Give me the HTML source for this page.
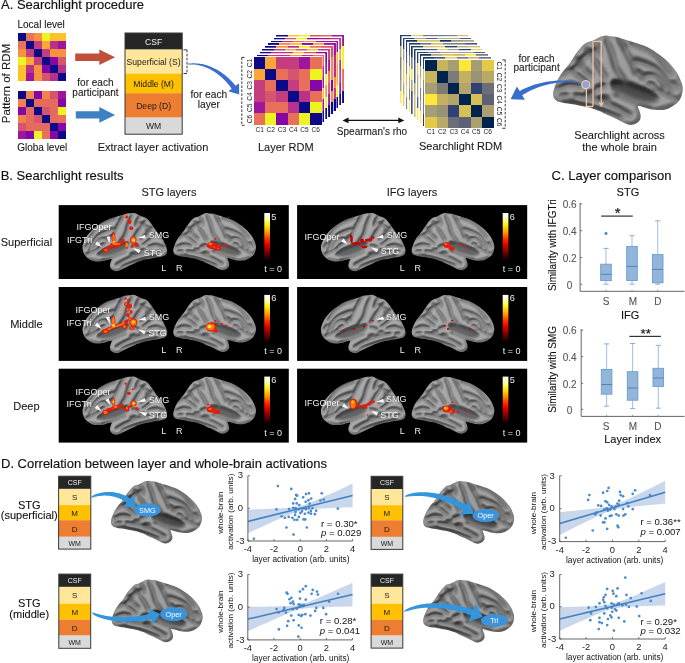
<!DOCTYPE html><html><head><meta charset="utf-8"><style>html,body{margin:0;padding:0;background:#fff;overflow:hidden}svg{display:block;will-change:transform}</style></head><body><svg width="685" height="663" viewBox="0 0 685 663" font-family='"Liberation Sans", sans-serif'>
<rect width="685" height="663" fill="#fff"/>
<defs>
<clipPath id="clipbD"><path d="M1.00,38.70 C1.28,37.58 1.67,36.32 2.30,34.80 C2.93,33.28 3.95,31.10 4.80,29.60 C5.65,28.10 6.53,26.97 7.40,25.80 C8.27,24.63 9.13,23.67 10.00,22.60 C10.87,21.53 11.75,20.58 12.60,19.40 C13.45,18.22 14.25,16.78 15.10,15.50 C15.95,14.22 16.83,12.87 17.70,11.70 C18.57,10.53 19.45,9.45 20.30,8.50 C21.15,7.55 21.95,6.65 22.80,6.00 C23.65,5.35 24.43,4.98 25.40,4.60 C26.37,4.22 27.53,4.12 28.60,3.70 C29.67,3.28 30.73,2.63 31.80,2.10 C32.87,1.57 33.93,0.85 35.00,0.50 C36.07,0.15 37.20,0.02 38.20,0.00 C39.20,-0.02 39.83,0.27 41.00,0.40 C42.17,0.53 43.45,0.40 45.20,0.80 C46.95,1.20 49.23,2.10 51.50,2.80 C53.77,3.50 56.35,4.20 58.80,5.00 C61.25,5.80 63.75,6.47 66.20,7.60 C68.65,8.73 71.23,10.32 73.50,11.80 C75.77,13.28 77.88,14.85 79.80,16.50 C81.72,18.15 83.43,19.87 85.00,21.70 C86.57,23.53 88.07,25.52 89.20,27.50 C90.33,29.48 91.23,31.93 91.80,33.60 C92.37,35.27 92.55,36.20 92.60,37.50 C92.65,38.80 92.47,40.05 92.10,41.40 C91.73,42.75 91.22,44.35 90.40,45.60 C89.58,46.85 88.57,47.87 87.20,48.90 C85.83,49.93 83.87,51.15 82.20,51.80 C80.53,52.45 78.87,52.67 77.20,52.80 C75.53,52.93 73.72,52.77 72.20,52.60 C70.68,52.43 69.47,52.13 68.10,51.80 C66.73,51.47 65.22,50.88 64.00,50.60 C62.78,50.32 61.20,49.80 60.80,50.10 C60.40,50.40 61.28,51.37 61.60,52.40 C61.92,53.43 62.58,55.10 62.70,56.30 C62.82,57.50 62.78,58.63 62.30,59.60 C61.82,60.57 60.90,61.47 59.80,62.10 C58.70,62.73 56.95,63.32 55.70,63.40 C54.45,63.48 53.68,63.15 52.30,62.60 C50.92,62.05 49.05,60.93 47.40,60.10 C45.75,59.27 44.07,58.37 42.40,57.60 C40.73,56.83 38.75,56.13 37.40,55.50 C36.05,54.87 35.65,54.38 34.30,53.80 C32.95,53.22 30.85,52.52 29.30,52.00 C27.75,51.48 26.45,51.03 25.00,50.70 C23.55,50.37 22.15,50.30 20.60,50.00 C19.05,49.70 17.35,49.20 15.70,48.90 C14.05,48.60 12.27,48.47 10.70,48.20 C9.13,47.93 7.53,47.60 6.30,47.30 C5.07,47.00 4.13,46.87 3.30,46.40 C2.47,45.93 1.75,45.32 1.30,44.50 C0.85,43.68 0.65,42.47 0.60,41.50 C0.55,40.53 0.72,39.82 1.00,38.70Z"/></clipPath>
<filter id="relbD" x="-5%" y="-5%" width="110%" height="110%" color-interpolation-filters="sRGB">
<feGaussianBlur in="SourceGraphic" stdDeviation="1.35" result="hb"/>
<feColorMatrix in="hb" type="luminanceToAlpha" result="ha"/>
<feDiffuseLighting in="ha" surfaceScale="6" diffuseConstant="1.25" lighting-color="#fff" result="lit"><feDistantLight azimuth="240" elevation="50"/></feDiffuseLighting>
<feComposite in="hb" in2="lit" operator="arithmetic" k1="1" k2="0" k3="0" k4="0" result="m"/>
<feComponentTransfer in="m"><feFuncR type="linear" slope="0.62" intercept="0.16"/><feFuncG type="linear" slope="0.62" intercept="0.16"/><feFuncB type="linear" slope="0.62" intercept="0.16"/><feFuncA type="linear" slope="0" intercept="1"/></feComponentTransfer>
</filter>
<g id="bD"><g clip-path="url(#clipbD)"><g filter="url(#relbD)">
<path d="M1.00,38.70 C1.28,37.58 1.67,36.32 2.30,34.80 C2.93,33.28 3.95,31.10 4.80,29.60 C5.65,28.10 6.53,26.97 7.40,25.80 C8.27,24.63 9.13,23.67 10.00,22.60 C10.87,21.53 11.75,20.58 12.60,19.40 C13.45,18.22 14.25,16.78 15.10,15.50 C15.95,14.22 16.83,12.87 17.70,11.70 C18.57,10.53 19.45,9.45 20.30,8.50 C21.15,7.55 21.95,6.65 22.80,6.00 C23.65,5.35 24.43,4.98 25.40,4.60 C26.37,4.22 27.53,4.12 28.60,3.70 C29.67,3.28 30.73,2.63 31.80,2.10 C32.87,1.57 33.93,0.85 35.00,0.50 C36.07,0.15 37.20,0.02 38.20,0.00 C39.20,-0.02 39.83,0.27 41.00,0.40 C42.17,0.53 43.45,0.40 45.20,0.80 C46.95,1.20 49.23,2.10 51.50,2.80 C53.77,3.50 56.35,4.20 58.80,5.00 C61.25,5.80 63.75,6.47 66.20,7.60 C68.65,8.73 71.23,10.32 73.50,11.80 C75.77,13.28 77.88,14.85 79.80,16.50 C81.72,18.15 83.43,19.87 85.00,21.70 C86.57,23.53 88.07,25.52 89.20,27.50 C90.33,29.48 91.23,31.93 91.80,33.60 C92.37,35.27 92.55,36.20 92.60,37.50 C92.65,38.80 92.47,40.05 92.10,41.40 C91.73,42.75 91.22,44.35 90.40,45.60 C89.58,46.85 88.57,47.87 87.20,48.90 C85.83,49.93 83.87,51.15 82.20,51.80 C80.53,52.45 78.87,52.67 77.20,52.80 C75.53,52.93 73.72,52.77 72.20,52.60 C70.68,52.43 69.47,52.13 68.10,51.80 C66.73,51.47 65.22,50.88 64.00,50.60 C62.78,50.32 61.20,49.80 60.80,50.10 C60.40,50.40 61.28,51.37 61.60,52.40 C61.92,53.43 62.58,55.10 62.70,56.30 C62.82,57.50 62.78,58.63 62.30,59.60 C61.82,60.57 60.90,61.47 59.80,62.10 C58.70,62.73 56.95,63.32 55.70,63.40 C54.45,63.48 53.68,63.15 52.30,62.60 C50.92,62.05 49.05,60.93 47.40,60.10 C45.75,59.27 44.07,58.37 42.40,57.60 C40.73,56.83 38.75,56.13 37.40,55.50 C36.05,54.87 35.65,54.38 34.30,53.80 C32.95,53.22 30.85,52.52 29.30,52.00 C27.75,51.48 26.45,51.03 25.00,50.70 C23.55,50.37 22.15,50.30 20.60,50.00 C19.05,49.70 17.35,49.20 15.70,48.90 C14.05,48.60 12.27,48.47 10.70,48.20 C9.13,47.93 7.53,47.60 6.30,47.30 C5.07,47.00 4.13,46.87 3.30,46.40 C2.47,45.93 1.75,45.32 1.30,44.50 C0.85,43.68 0.65,42.47 0.60,41.50 C0.55,40.53 0.72,39.82 1.00,38.70Z" fill="#c4c4c4" stroke="#909090" stroke-width="2.2"/>
<path d="M42.80,33.00 C44.13,32.25 48.80,32.83 52.00,33.50 C55.20,34.17 59.00,35.92 62.00,37.00 C65.00,38.08 67.67,38.67 70.00,40.00 C72.33,41.33 76.00,43.75 76.00,45.00 C76.00,46.25 72.67,47.42 70.00,47.50 C67.33,47.58 63.33,46.50 60.00,45.50 C56.67,44.50 52.67,42.75 50.00,41.50 C47.33,40.25 45.20,39.42 44.00,38.00 C42.80,36.58 41.47,33.75 42.80,33.00Z" fill="#383838"/>
<g fill="none" stroke-linecap="round">
<path d="M38.40,2.50 C39.13,4.33 41.58,9.98 42.80,13.50 C44.02,17.02 44.25,20.47 45.70,23.60 C47.15,26.73 50.53,30.85 51.50,32.30" stroke="#484848" stroke-width="1.9"/>
<path d="M47.10,1.90 C48.07,3.58 51.20,8.87 52.90,12.00 C54.60,15.13 56.08,18.03 57.30,20.70 C58.52,23.37 59.72,26.78 60.20,28.00" stroke="#484848" stroke-width="1.9"/>
<path d="M55.80,6.20 C57.73,6.93 64.02,8.90 67.40,10.60 C70.78,12.30 73.20,13.50 76.10,16.40 C79.00,19.30 83.35,26.07 84.80,28.00" stroke="#484848" stroke-width="1.9"/>
<path d="M58.70,17.80 C60.15,18.28 64.50,19.48 67.40,20.70 C70.30,21.92 73.68,23.17 76.10,25.10 C78.52,27.03 80.45,29.65 81.90,32.30 C83.35,34.95 84.32,39.55 84.80,41.00" stroke="#484848" stroke-width="1.9"/>
<path d="M63.10,29.40 C64.55,29.17 69.38,27.52 71.80,28.00 C74.22,28.48 76.15,30.62 77.60,32.30 C79.05,33.98 80.02,37.13 80.50,38.10" stroke="#484848" stroke-width="1.9"/>
<path d="M45.70,42.50 C48.12,43.47 56.10,46.85 60.20,48.30 C64.30,49.75 68.62,50.72 70.30,51.20" stroke="#484848" stroke-width="1.9"/>
<path d="M16.70,42.50 C19.12,42.98 26.37,43.95 31.20,45.40 C36.03,46.85 41.60,49.27 45.70,51.20 C49.80,53.13 54.12,56.03 55.80,57.00" stroke="#484848" stroke-width="1.9"/>
<path d="M23.90,9.10 C24.87,10.32 28.00,13.98 29.70,16.40 C31.40,18.82 32.65,21.18 34.10,23.60 C35.55,26.02 37.68,29.68 38.40,30.90" stroke="#484848" stroke-width="1.9"/>
<path d="M16.70,16.40 C17.65,17.60 20.47,21.43 22.40,23.60 C24.33,25.77 27.32,28.43 28.30,29.40" stroke="#484848" stroke-width="1.9"/>
<path d="M6.50,28.00 C7.95,27.27 12.55,25.05 15.20,23.60 C17.85,22.15 21.20,20.02 22.40,19.30" stroke="#484848" stroke-width="1.9"/>
<path d="M3.60,38.10 C5.05,37.62 9.40,35.43 12.30,35.20 C15.20,34.97 19.55,36.45 21.00,36.70" stroke="#484848" stroke-width="1.9"/>
<path d="M31.20,38.10 C32.40,37.62 37.20,35.68 38.40,35.20" stroke="#484848" stroke-width="1.9"/>
<path d="M9.40,46.80 C11.82,47.28 19.07,48.50 23.90,49.70 C28.73,50.90 34.05,52.55 38.40,54.00 C42.75,55.45 48.07,57.67 50.00,58.40" stroke="#484848" stroke-width="1.9"/>
<path d="M73.20,38.10 C74.65,38.83 79.48,41.28 81.90,42.50 C84.32,43.72 86.73,44.92 87.70,45.40" stroke="#484848" stroke-width="1.9"/>
<path d="M30.00,4.00 C30.50,4.83 32.33,7.33 33.00,9.00 C33.67,10.67 33.83,13.17 34.00,14.00" stroke="#484848" stroke-width="1.9"/>
<path d="M66.00,2.50 C67.00,3.08 70.00,4.83 72.00,6.00 C74.00,7.17 77.00,8.92 78.00,9.50" stroke="#484848" stroke-width="1.9"/>
<path d="M19.00,18.30 C19.98,17.55 22.93,15.03 24.90,13.80 C26.87,12.57 29.82,11.38 30.80,10.90" stroke="#484848" stroke-width="1.9"/>
<path d="M14.60,25.60 C15.58,26.35 18.53,28.62 20.50,30.10 C22.47,31.58 25.42,33.77 26.40,34.50" stroke="#484848" stroke-width="1.9"/>
<path d="M61.80,25.60 C62.28,26.58 64.22,30.52 64.70,31.50" stroke="#484848" stroke-width="1.9"/>
<path d="M50.00,5.00 C50.50,5.75 52.50,8.75 53.00,9.50" stroke="#484848" stroke-width="1.9"/>
<path d="M86.00,33.00 C86.50,33.83 88.50,37.17 89.00,38.00" stroke="#484848" stroke-width="1.9"/>
<path d="M68.00,33.50 C68.83,33.92 72.17,35.58 73.00,36.00" stroke="#484848" stroke-width="1.9"/>
<path d="M25.00,40.50 C25.83,40.67 29.17,41.33 30.00,41.50" stroke="#484848" stroke-width="1.9"/>
<path d="M6.00,42.00 C6.83,42.17 10.17,42.83 11.00,43.00" stroke="#484848" stroke-width="1.9"/>
<path d="M35.00,44.00 C35.83,44.25 39.17,45.25 40.00,45.50" stroke="#484848" stroke-width="1.9"/>
<path d="M10.00,12.00 C10.50,12.67 12.50,15.33 13.00,16.00" stroke="#484848" stroke-width="1.9"/>
</g>
</g></g></g>
<clipPath id="clipbB"><path d="M1.00,38.70 C1.28,37.58 1.67,36.32 2.30,34.80 C2.93,33.28 3.95,31.10 4.80,29.60 C5.65,28.10 6.53,26.97 7.40,25.80 C8.27,24.63 9.13,23.67 10.00,22.60 C10.87,21.53 11.75,20.58 12.60,19.40 C13.45,18.22 14.25,16.78 15.10,15.50 C15.95,14.22 16.83,12.87 17.70,11.70 C18.57,10.53 19.45,9.45 20.30,8.50 C21.15,7.55 21.95,6.65 22.80,6.00 C23.65,5.35 24.43,4.98 25.40,4.60 C26.37,4.22 27.53,4.12 28.60,3.70 C29.67,3.28 30.73,2.63 31.80,2.10 C32.87,1.57 33.93,0.85 35.00,0.50 C36.07,0.15 37.20,0.02 38.20,0.00 C39.20,-0.02 39.83,0.27 41.00,0.40 C42.17,0.53 43.45,0.40 45.20,0.80 C46.95,1.20 49.23,2.10 51.50,2.80 C53.77,3.50 56.35,4.20 58.80,5.00 C61.25,5.80 63.75,6.47 66.20,7.60 C68.65,8.73 71.23,10.32 73.50,11.80 C75.77,13.28 77.88,14.85 79.80,16.50 C81.72,18.15 83.43,19.87 85.00,21.70 C86.57,23.53 88.07,25.52 89.20,27.50 C90.33,29.48 91.23,31.93 91.80,33.60 C92.37,35.27 92.55,36.20 92.60,37.50 C92.65,38.80 92.47,40.05 92.10,41.40 C91.73,42.75 91.22,44.35 90.40,45.60 C89.58,46.85 88.57,47.87 87.20,48.90 C85.83,49.93 83.87,51.15 82.20,51.80 C80.53,52.45 78.87,52.67 77.20,52.80 C75.53,52.93 73.72,52.77 72.20,52.60 C70.68,52.43 69.47,52.13 68.10,51.80 C66.73,51.47 65.22,50.88 64.00,50.60 C62.78,50.32 61.20,49.80 60.80,50.10 C60.40,50.40 61.28,51.37 61.60,52.40 C61.92,53.43 62.58,55.10 62.70,56.30 C62.82,57.50 62.78,58.63 62.30,59.60 C61.82,60.57 60.90,61.47 59.80,62.10 C58.70,62.73 56.95,63.32 55.70,63.40 C54.45,63.48 53.68,63.15 52.30,62.60 C50.92,62.05 49.05,60.93 47.40,60.10 C45.75,59.27 44.07,58.37 42.40,57.60 C40.73,56.83 38.75,56.13 37.40,55.50 C36.05,54.87 35.65,54.38 34.30,53.80 C32.95,53.22 30.85,52.52 29.30,52.00 C27.75,51.48 26.45,51.03 25.00,50.70 C23.55,50.37 22.15,50.30 20.60,50.00 C19.05,49.70 17.35,49.20 15.70,48.90 C14.05,48.60 12.27,48.47 10.70,48.20 C9.13,47.93 7.53,47.60 6.30,47.30 C5.07,47.00 4.13,46.87 3.30,46.40 C2.47,45.93 1.75,45.32 1.30,44.50 C0.85,43.68 0.65,42.47 0.60,41.50 C0.55,40.53 0.72,39.82 1.00,38.70Z"/></clipPath>
<filter id="relbB" x="-5%" y="-5%" width="110%" height="110%" color-interpolation-filters="sRGB">
<feGaussianBlur in="SourceGraphic" stdDeviation="1.2" result="hb"/>
<feColorMatrix in="hb" type="luminanceToAlpha" result="ha"/>
<feDiffuseLighting in="ha" surfaceScale="6" diffuseConstant="1.25" lighting-color="#fff" result="lit"><feDistantLight azimuth="240" elevation="50"/></feDiffuseLighting>
<feComposite in="hb" in2="lit" operator="arithmetic" k1="1" k2="0" k3="0" k4="0" result="m"/>
<feComponentTransfer in="m"><feFuncR type="linear" slope="0.5" intercept="0.285"/><feFuncG type="linear" slope="0.5" intercept="0.285"/><feFuncB type="linear" slope="0.5" intercept="0.285"/><feFuncA type="linear" slope="0" intercept="1"/></feComponentTransfer>
</filter>
<g id="bB"><g clip-path="url(#clipbB)"><g filter="url(#relbB)">
<path d="M1.00,38.70 C1.28,37.58 1.67,36.32 2.30,34.80 C2.93,33.28 3.95,31.10 4.80,29.60 C5.65,28.10 6.53,26.97 7.40,25.80 C8.27,24.63 9.13,23.67 10.00,22.60 C10.87,21.53 11.75,20.58 12.60,19.40 C13.45,18.22 14.25,16.78 15.10,15.50 C15.95,14.22 16.83,12.87 17.70,11.70 C18.57,10.53 19.45,9.45 20.30,8.50 C21.15,7.55 21.95,6.65 22.80,6.00 C23.65,5.35 24.43,4.98 25.40,4.60 C26.37,4.22 27.53,4.12 28.60,3.70 C29.67,3.28 30.73,2.63 31.80,2.10 C32.87,1.57 33.93,0.85 35.00,0.50 C36.07,0.15 37.20,0.02 38.20,0.00 C39.20,-0.02 39.83,0.27 41.00,0.40 C42.17,0.53 43.45,0.40 45.20,0.80 C46.95,1.20 49.23,2.10 51.50,2.80 C53.77,3.50 56.35,4.20 58.80,5.00 C61.25,5.80 63.75,6.47 66.20,7.60 C68.65,8.73 71.23,10.32 73.50,11.80 C75.77,13.28 77.88,14.85 79.80,16.50 C81.72,18.15 83.43,19.87 85.00,21.70 C86.57,23.53 88.07,25.52 89.20,27.50 C90.33,29.48 91.23,31.93 91.80,33.60 C92.37,35.27 92.55,36.20 92.60,37.50 C92.65,38.80 92.47,40.05 92.10,41.40 C91.73,42.75 91.22,44.35 90.40,45.60 C89.58,46.85 88.57,47.87 87.20,48.90 C85.83,49.93 83.87,51.15 82.20,51.80 C80.53,52.45 78.87,52.67 77.20,52.80 C75.53,52.93 73.72,52.77 72.20,52.60 C70.68,52.43 69.47,52.13 68.10,51.80 C66.73,51.47 65.22,50.88 64.00,50.60 C62.78,50.32 61.20,49.80 60.80,50.10 C60.40,50.40 61.28,51.37 61.60,52.40 C61.92,53.43 62.58,55.10 62.70,56.30 C62.82,57.50 62.78,58.63 62.30,59.60 C61.82,60.57 60.90,61.47 59.80,62.10 C58.70,62.73 56.95,63.32 55.70,63.40 C54.45,63.48 53.68,63.15 52.30,62.60 C50.92,62.05 49.05,60.93 47.40,60.10 C45.75,59.27 44.07,58.37 42.40,57.60 C40.73,56.83 38.75,56.13 37.40,55.50 C36.05,54.87 35.65,54.38 34.30,53.80 C32.95,53.22 30.85,52.52 29.30,52.00 C27.75,51.48 26.45,51.03 25.00,50.70 C23.55,50.37 22.15,50.30 20.60,50.00 C19.05,49.70 17.35,49.20 15.70,48.90 C14.05,48.60 12.27,48.47 10.70,48.20 C9.13,47.93 7.53,47.60 6.30,47.30 C5.07,47.00 4.13,46.87 3.30,46.40 C2.47,45.93 1.75,45.32 1.30,44.50 C0.85,43.68 0.65,42.47 0.60,41.50 C0.55,40.53 0.72,39.82 1.00,38.70Z" fill="#c4c4c4" stroke="#909090" stroke-width="2.2"/>
<path d="M42.80,33.00 C44.13,32.25 48.80,32.83 52.00,33.50 C55.20,34.17 59.00,35.92 62.00,37.00 C65.00,38.08 67.67,38.67 70.00,40.00 C72.33,41.33 76.00,43.75 76.00,45.00 C76.00,46.25 72.67,47.42 70.00,47.50 C67.33,47.58 63.33,46.50 60.00,45.50 C56.67,44.50 52.67,42.75 50.00,41.50 C47.33,40.25 45.20,39.42 44.00,38.00 C42.80,36.58 41.47,33.75 42.80,33.00Z" fill="#383838"/>
<g fill="none" stroke-linecap="round">
<path d="M38.40,2.50 C39.13,4.33 41.58,9.98 42.80,13.50 C44.02,17.02 44.25,20.47 45.70,23.60 C47.15,26.73 50.53,30.85 51.50,32.30" stroke="#484848" stroke-width="1.9"/>
<path d="M47.10,1.90 C48.07,3.58 51.20,8.87 52.90,12.00 C54.60,15.13 56.08,18.03 57.30,20.70 C58.52,23.37 59.72,26.78 60.20,28.00" stroke="#484848" stroke-width="1.9"/>
<path d="M55.80,6.20 C57.73,6.93 64.02,8.90 67.40,10.60 C70.78,12.30 73.20,13.50 76.10,16.40 C79.00,19.30 83.35,26.07 84.80,28.00" stroke="#484848" stroke-width="1.9"/>
<path d="M58.70,17.80 C60.15,18.28 64.50,19.48 67.40,20.70 C70.30,21.92 73.68,23.17 76.10,25.10 C78.52,27.03 80.45,29.65 81.90,32.30 C83.35,34.95 84.32,39.55 84.80,41.00" stroke="#484848" stroke-width="1.9"/>
<path d="M63.10,29.40 C64.55,29.17 69.38,27.52 71.80,28.00 C74.22,28.48 76.15,30.62 77.60,32.30 C79.05,33.98 80.02,37.13 80.50,38.10" stroke="#484848" stroke-width="1.9"/>
<path d="M45.70,42.50 C48.12,43.47 56.10,46.85 60.20,48.30 C64.30,49.75 68.62,50.72 70.30,51.20" stroke="#484848" stroke-width="1.9"/>
<path d="M16.70,42.50 C19.12,42.98 26.37,43.95 31.20,45.40 C36.03,46.85 41.60,49.27 45.70,51.20 C49.80,53.13 54.12,56.03 55.80,57.00" stroke="#484848" stroke-width="1.9"/>
<path d="M23.90,9.10 C24.87,10.32 28.00,13.98 29.70,16.40 C31.40,18.82 32.65,21.18 34.10,23.60 C35.55,26.02 37.68,29.68 38.40,30.90" stroke="#484848" stroke-width="1.9"/>
<path d="M16.70,16.40 C17.65,17.60 20.47,21.43 22.40,23.60 C24.33,25.77 27.32,28.43 28.30,29.40" stroke="#484848" stroke-width="1.9"/>
<path d="M6.50,28.00 C7.95,27.27 12.55,25.05 15.20,23.60 C17.85,22.15 21.20,20.02 22.40,19.30" stroke="#484848" stroke-width="1.9"/>
<path d="M3.60,38.10 C5.05,37.62 9.40,35.43 12.30,35.20 C15.20,34.97 19.55,36.45 21.00,36.70" stroke="#484848" stroke-width="1.9"/>
<path d="M31.20,38.10 C32.40,37.62 37.20,35.68 38.40,35.20" stroke="#484848" stroke-width="1.9"/>
<path d="M9.40,46.80 C11.82,47.28 19.07,48.50 23.90,49.70 C28.73,50.90 34.05,52.55 38.40,54.00 C42.75,55.45 48.07,57.67 50.00,58.40" stroke="#484848" stroke-width="1.9"/>
<path d="M73.20,38.10 C74.65,38.83 79.48,41.28 81.90,42.50 C84.32,43.72 86.73,44.92 87.70,45.40" stroke="#484848" stroke-width="1.9"/>
<path d="M30.00,4.00 C30.50,4.83 32.33,7.33 33.00,9.00 C33.67,10.67 33.83,13.17 34.00,14.00" stroke="#484848" stroke-width="1.9"/>
<path d="M66.00,2.50 C67.00,3.08 70.00,4.83 72.00,6.00 C74.00,7.17 77.00,8.92 78.00,9.50" stroke="#484848" stroke-width="1.9"/>
<path d="M19.00,18.30 C19.98,17.55 22.93,15.03 24.90,13.80 C26.87,12.57 29.82,11.38 30.80,10.90" stroke="#484848" stroke-width="1.9"/>
<path d="M14.60,25.60 C15.58,26.35 18.53,28.62 20.50,30.10 C22.47,31.58 25.42,33.77 26.40,34.50" stroke="#484848" stroke-width="1.9"/>
<path d="M61.80,25.60 C62.28,26.58 64.22,30.52 64.70,31.50" stroke="#484848" stroke-width="1.9"/>
<path d="M50.00,5.00 C50.50,5.75 52.50,8.75 53.00,9.50" stroke="#484848" stroke-width="1.9"/>
<path d="M86.00,33.00 C86.50,33.83 88.50,37.17 89.00,38.00" stroke="#484848" stroke-width="1.9"/>
<path d="M68.00,33.50 C68.83,33.92 72.17,35.58 73.00,36.00" stroke="#484848" stroke-width="1.9"/>
<path d="M25.00,40.50 C25.83,40.67 29.17,41.33 30.00,41.50" stroke="#484848" stroke-width="1.9"/>
<path d="M6.00,42.00 C6.83,42.17 10.17,42.83 11.00,43.00" stroke="#484848" stroke-width="1.9"/>
<path d="M35.00,44.00 C35.83,44.25 39.17,45.25 40.00,45.50" stroke="#484848" stroke-width="1.9"/>
<path d="M10.00,12.00 C10.50,12.67 12.50,15.33 13.00,16.00" stroke="#484848" stroke-width="1.9"/>
</g>
</g></g></g>
<clipPath id="clipbBm"><path d="M91.60,38.70 C91.32,37.58 90.93,36.32 90.30,34.80 C89.67,33.28 88.65,31.10 87.80,29.60 C86.95,28.10 86.07,26.97 85.20,25.80 C84.33,24.63 83.47,23.67 82.60,22.60 C81.73,21.53 80.85,20.58 80.00,19.40 C79.15,18.22 78.35,16.78 77.50,15.50 C76.65,14.22 75.77,12.87 74.90,11.70 C74.03,10.53 73.15,9.45 72.30,8.50 C71.45,7.55 70.65,6.65 69.80,6.00 C68.95,5.35 68.17,4.98 67.20,4.60 C66.23,4.22 65.07,4.12 64.00,3.70 C62.93,3.28 61.87,2.63 60.80,2.10 C59.73,1.57 58.67,0.85 57.60,0.50 C56.53,0.15 55.40,0.02 54.40,0.00 C53.40,-0.02 52.77,0.27 51.60,0.40 C50.43,0.53 49.15,0.40 47.40,0.80 C45.65,1.20 43.37,2.10 41.10,2.80 C38.83,3.50 36.25,4.20 33.80,5.00 C31.35,5.80 28.85,6.47 26.40,7.60 C23.95,8.73 21.37,10.32 19.10,11.80 C16.83,13.28 14.72,14.85 12.80,16.50 C10.88,18.15 9.17,19.87 7.60,21.70 C6.03,23.53 4.53,25.52 3.40,27.50 C2.27,29.48 1.37,31.93 0.80,33.60 C0.23,35.27 0.05,36.20 0.00,37.50 C-0.05,38.80 0.13,40.05 0.50,41.40 C0.87,42.75 1.38,44.35 2.20,45.60 C3.02,46.85 4.03,47.87 5.40,48.90 C6.77,49.93 8.73,51.15 10.40,51.80 C12.07,52.45 13.73,52.67 15.40,52.80 C17.07,52.93 18.88,52.77 20.40,52.60 C21.92,52.43 23.13,52.13 24.50,51.80 C25.87,51.47 27.38,50.88 28.60,50.60 C29.82,50.32 31.40,49.80 31.80,50.10 C32.20,50.40 31.32,51.37 31.00,52.40 C30.68,53.43 30.02,55.10 29.90,56.30 C29.78,57.50 29.82,58.63 30.30,59.60 C30.78,60.57 31.70,61.47 32.80,62.10 C33.90,62.73 35.65,63.32 36.90,63.40 C38.15,63.48 38.92,63.15 40.30,62.60 C41.68,62.05 43.55,60.93 45.20,60.10 C46.85,59.27 48.53,58.37 50.20,57.60 C51.87,56.83 53.85,56.13 55.20,55.50 C56.55,54.87 56.95,54.38 58.30,53.80 C59.65,53.22 61.75,52.52 63.30,52.00 C64.85,51.48 66.15,51.03 67.60,50.70 C69.05,50.37 70.45,50.30 72.00,50.00 C73.55,49.70 75.25,49.20 76.90,48.90 C78.55,48.60 80.33,48.47 81.90,48.20 C83.47,47.93 85.07,47.60 86.30,47.30 C87.53,47.00 88.47,46.87 89.30,46.40 C90.13,45.93 90.85,45.32 91.30,44.50 C91.75,43.68 91.95,42.47 92.00,41.50 C92.05,40.53 91.88,39.82 91.60,38.70Z"/></clipPath>
<filter id="relbBm" x="-5%" y="-5%" width="110%" height="110%" color-interpolation-filters="sRGB">
<feGaussianBlur in="SourceGraphic" stdDeviation="1.2" result="hb"/>
<feColorMatrix in="hb" type="luminanceToAlpha" result="ha"/>
<feDiffuseLighting in="ha" surfaceScale="6" diffuseConstant="1.25" lighting-color="#fff" result="lit"><feDistantLight azimuth="240" elevation="50"/></feDiffuseLighting>
<feComposite in="hb" in2="lit" operator="arithmetic" k1="1" k2="0" k3="0" k4="0" result="m"/>
<feComponentTransfer in="m"><feFuncR type="linear" slope="0.5" intercept="0.285"/><feFuncG type="linear" slope="0.5" intercept="0.285"/><feFuncB type="linear" slope="0.5" intercept="0.285"/><feFuncA type="linear" slope="0" intercept="1"/></feComponentTransfer>
</filter>
<g id="bBm"><g clip-path="url(#clipbBm)"><g filter="url(#relbBm)">
<path d="M91.60,38.70 C91.32,37.58 90.93,36.32 90.30,34.80 C89.67,33.28 88.65,31.10 87.80,29.60 C86.95,28.10 86.07,26.97 85.20,25.80 C84.33,24.63 83.47,23.67 82.60,22.60 C81.73,21.53 80.85,20.58 80.00,19.40 C79.15,18.22 78.35,16.78 77.50,15.50 C76.65,14.22 75.77,12.87 74.90,11.70 C74.03,10.53 73.15,9.45 72.30,8.50 C71.45,7.55 70.65,6.65 69.80,6.00 C68.95,5.35 68.17,4.98 67.20,4.60 C66.23,4.22 65.07,4.12 64.00,3.70 C62.93,3.28 61.87,2.63 60.80,2.10 C59.73,1.57 58.67,0.85 57.60,0.50 C56.53,0.15 55.40,0.02 54.40,0.00 C53.40,-0.02 52.77,0.27 51.60,0.40 C50.43,0.53 49.15,0.40 47.40,0.80 C45.65,1.20 43.37,2.10 41.10,2.80 C38.83,3.50 36.25,4.20 33.80,5.00 C31.35,5.80 28.85,6.47 26.40,7.60 C23.95,8.73 21.37,10.32 19.10,11.80 C16.83,13.28 14.72,14.85 12.80,16.50 C10.88,18.15 9.17,19.87 7.60,21.70 C6.03,23.53 4.53,25.52 3.40,27.50 C2.27,29.48 1.37,31.93 0.80,33.60 C0.23,35.27 0.05,36.20 0.00,37.50 C-0.05,38.80 0.13,40.05 0.50,41.40 C0.87,42.75 1.38,44.35 2.20,45.60 C3.02,46.85 4.03,47.87 5.40,48.90 C6.77,49.93 8.73,51.15 10.40,51.80 C12.07,52.45 13.73,52.67 15.40,52.80 C17.07,52.93 18.88,52.77 20.40,52.60 C21.92,52.43 23.13,52.13 24.50,51.80 C25.87,51.47 27.38,50.88 28.60,50.60 C29.82,50.32 31.40,49.80 31.80,50.10 C32.20,50.40 31.32,51.37 31.00,52.40 C30.68,53.43 30.02,55.10 29.90,56.30 C29.78,57.50 29.82,58.63 30.30,59.60 C30.78,60.57 31.70,61.47 32.80,62.10 C33.90,62.73 35.65,63.32 36.90,63.40 C38.15,63.48 38.92,63.15 40.30,62.60 C41.68,62.05 43.55,60.93 45.20,60.10 C46.85,59.27 48.53,58.37 50.20,57.60 C51.87,56.83 53.85,56.13 55.20,55.50 C56.55,54.87 56.95,54.38 58.30,53.80 C59.65,53.22 61.75,52.52 63.30,52.00 C64.85,51.48 66.15,51.03 67.60,50.70 C69.05,50.37 70.45,50.30 72.00,50.00 C73.55,49.70 75.25,49.20 76.90,48.90 C78.55,48.60 80.33,48.47 81.90,48.20 C83.47,47.93 85.07,47.60 86.30,47.30 C87.53,47.00 88.47,46.87 89.30,46.40 C90.13,45.93 90.85,45.32 91.30,44.50 C91.75,43.68 91.95,42.47 92.00,41.50 C92.05,40.53 91.88,39.82 91.60,38.70Z" fill="#c4c4c4" stroke="#909090" stroke-width="2.2"/>
<path d="M49.80,33.00 C48.47,32.25 43.80,32.83 40.60,33.50 C37.40,34.17 33.60,35.92 30.60,37.00 C27.60,38.08 24.93,38.67 22.60,40.00 C20.27,41.33 16.60,43.75 16.60,45.00 C16.60,46.25 19.93,47.42 22.60,47.50 C25.27,47.58 29.27,46.50 32.60,45.50 C35.93,44.50 39.93,42.75 42.60,41.50 C45.27,40.25 47.40,39.42 48.60,38.00 C49.80,36.58 51.13,33.75 49.80,33.00Z" fill="#383838"/>
<g fill="none" stroke-linecap="round">
<path d="M54.20,2.50 C53.47,4.33 51.02,9.98 49.80,13.50 C48.58,17.02 48.35,20.47 46.90,23.60 C45.45,26.73 42.07,30.85 41.10,32.30" stroke="#484848" stroke-width="1.9"/>
<path d="M45.50,1.90 C44.53,3.58 41.40,8.87 39.70,12.00 C38.00,15.13 36.52,18.03 35.30,20.70 C34.08,23.37 32.88,26.78 32.40,28.00" stroke="#484848" stroke-width="1.9"/>
<path d="M36.80,6.20 C34.87,6.93 28.58,8.90 25.20,10.60 C21.82,12.30 19.40,13.50 16.50,16.40 C13.60,19.30 9.25,26.07 7.80,28.00" stroke="#484848" stroke-width="1.9"/>
<path d="M33.90,17.80 C32.45,18.28 28.10,19.48 25.20,20.70 C22.30,21.92 18.92,23.17 16.50,25.10 C14.08,27.03 12.15,29.65 10.70,32.30 C9.25,34.95 8.28,39.55 7.80,41.00" stroke="#484848" stroke-width="1.9"/>
<path d="M29.50,29.40 C28.05,29.17 23.22,27.52 20.80,28.00 C18.38,28.48 16.45,30.62 15.00,32.30 C13.55,33.98 12.58,37.13 12.10,38.10" stroke="#484848" stroke-width="1.9"/>
<path d="M46.90,42.50 C44.48,43.47 36.50,46.85 32.40,48.30 C28.30,49.75 23.98,50.72 22.30,51.20" stroke="#484848" stroke-width="1.9"/>
<path d="M75.90,42.50 C73.48,42.98 66.23,43.95 61.40,45.40 C56.57,46.85 51.00,49.27 46.90,51.20 C42.80,53.13 38.48,56.03 36.80,57.00" stroke="#484848" stroke-width="1.9"/>
<path d="M68.70,9.10 C67.73,10.32 64.60,13.98 62.90,16.40 C61.20,18.82 59.95,21.18 58.50,23.60 C57.05,26.02 54.92,29.68 54.20,30.90" stroke="#484848" stroke-width="1.9"/>
<path d="M75.90,16.40 C74.95,17.60 72.13,21.43 70.20,23.60 C68.27,25.77 65.28,28.43 64.30,29.40" stroke="#484848" stroke-width="1.9"/>
<path d="M86.10,28.00 C84.65,27.27 80.05,25.05 77.40,23.60 C74.75,22.15 71.40,20.02 70.20,19.30" stroke="#484848" stroke-width="1.9"/>
<path d="M89.00,38.10 C87.55,37.62 83.20,35.43 80.30,35.20 C77.40,34.97 73.05,36.45 71.60,36.70" stroke="#484848" stroke-width="1.9"/>
<path d="M61.40,38.10 C60.20,37.62 55.40,35.68 54.20,35.20" stroke="#484848" stroke-width="1.9"/>
<path d="M83.20,46.80 C80.78,47.28 73.53,48.50 68.70,49.70 C63.87,50.90 58.55,52.55 54.20,54.00 C49.85,55.45 44.53,57.67 42.60,58.40" stroke="#484848" stroke-width="1.9"/>
<path d="M19.40,38.10 C17.95,38.83 13.12,41.28 10.70,42.50 C8.28,43.72 5.87,44.92 4.90,45.40" stroke="#484848" stroke-width="1.9"/>
<path d="M62.60,4.00 C62.10,4.83 60.27,7.33 59.60,9.00 C58.93,10.67 58.77,13.17 58.60,14.00" stroke="#484848" stroke-width="1.9"/>
<path d="M26.60,2.50 C25.60,3.08 22.60,4.83 20.60,6.00 C18.60,7.17 15.60,8.92 14.60,9.50" stroke="#484848" stroke-width="1.9"/>
<path d="M73.60,18.30 C72.62,17.55 69.67,15.03 67.70,13.80 C65.73,12.57 62.78,11.38 61.80,10.90" stroke="#484848" stroke-width="1.9"/>
<path d="M78.00,25.60 C77.02,26.35 74.07,28.62 72.10,30.10 C70.13,31.58 67.18,33.77 66.20,34.50" stroke="#484848" stroke-width="1.9"/>
<path d="M30.80,25.60 C30.32,26.58 28.38,30.52 27.90,31.50" stroke="#484848" stroke-width="1.9"/>
<path d="M42.60,5.00 C42.10,5.75 40.10,8.75 39.60,9.50" stroke="#484848" stroke-width="1.9"/>
<path d="M6.60,33.00 C6.10,33.83 4.10,37.17 3.60,38.00" stroke="#484848" stroke-width="1.9"/>
<path d="M24.60,33.50 C23.77,33.92 20.43,35.58 19.60,36.00" stroke="#484848" stroke-width="1.9"/>
<path d="M67.60,40.50 C66.77,40.67 63.43,41.33 62.60,41.50" stroke="#484848" stroke-width="1.9"/>
<path d="M86.60,42.00 C85.77,42.17 82.43,42.83 81.60,43.00" stroke="#484848" stroke-width="1.9"/>
<path d="M57.60,44.00 C56.77,44.25 53.43,45.25 52.60,45.50" stroke="#484848" stroke-width="1.9"/>
<path d="M82.60,12.00 C82.10,12.67 80.10,15.33 79.60,16.00" stroke="#484848" stroke-width="1.9"/>
</g>
</g></g></g>
</defs>
<text x="1.00" y="9.20" font-size="13" fill="#111" stroke="#111" stroke-width="0.15" text-anchor="start" >A. Searchlight procedure</text>
<text x="17.50" y="27.70" font-size="10" fill="#1a1a1a" stroke="#1a1a1a" stroke-width="0.1" text-anchor="start" >Local level</text>
<g shape-rendering="crispEdges">
<rect x="18.00" y="33.00" width="8.30" height="8.30" fill="#0d0887"/>
<rect x="26.00" y="33.00" width="8.30" height="8.30" fill="#e8735a"/>
<rect x="34.00" y="33.00" width="8.30" height="8.30" fill="#f6923f"/>
<rect x="42.00" y="33.00" width="8.30" height="8.30" fill="#eef322"/>
<rect x="50.00" y="33.00" width="8.30" height="8.30" fill="#fdc12a"/>
<rect x="58.00" y="33.00" width="8.30" height="8.30" fill="#fdc12a"/>
<rect x="18.00" y="41.00" width="8.30" height="8.30" fill="#e8735a"/>
<rect x="26.00" y="41.00" width="8.30" height="8.30" fill="#0d0887"/>
<rect x="34.00" y="41.00" width="8.30" height="8.30" fill="#c43e7f"/>
<rect x="42.00" y="41.00" width="8.30" height="8.30" fill="#faa638"/>
<rect x="50.00" y="41.00" width="8.30" height="8.30" fill="#b83289"/>
<rect x="58.00" y="41.00" width="8.30" height="8.30" fill="#9c179e"/>
<rect x="18.00" y="49.00" width="8.30" height="8.30" fill="#f6923f"/>
<rect x="26.00" y="49.00" width="8.30" height="8.30" fill="#c43e7f"/>
<rect x="34.00" y="49.00" width="8.30" height="8.30" fill="#0d0887"/>
<rect x="42.00" y="49.00" width="8.30" height="8.30" fill="#c43e7f"/>
<rect x="50.00" y="49.00" width="8.30" height="8.30" fill="#f6923f"/>
<rect x="58.00" y="49.00" width="8.30" height="8.30" fill="#f6923f"/>
<rect x="18.00" y="57.00" width="8.30" height="8.30" fill="#eef322"/>
<rect x="26.00" y="57.00" width="8.30" height="8.30" fill="#faa638"/>
<rect x="34.00" y="57.00" width="8.30" height="8.30" fill="#c43e7f"/>
<rect x="42.00" y="57.00" width="8.30" height="8.30" fill="#0d0887"/>
<rect x="50.00" y="57.00" width="8.30" height="8.30" fill="#8606a6"/>
<rect x="58.00" y="57.00" width="8.30" height="8.30" fill="#d5546e"/>
<rect x="18.00" y="65.00" width="8.30" height="8.30" fill="#fdc12a"/>
<rect x="26.00" y="65.00" width="8.30" height="8.30" fill="#b83289"/>
<rect x="34.00" y="65.00" width="8.30" height="8.30" fill="#f6923f"/>
<rect x="42.00" y="65.00" width="8.30" height="8.30" fill="#8606a6"/>
<rect x="50.00" y="65.00" width="8.30" height="8.30" fill="#0d0887"/>
<rect x="58.00" y="65.00" width="8.30" height="8.30" fill="#b83289"/>
<rect x="18.00" y="73.00" width="8.30" height="8.30" fill="#fdc12a"/>
<rect x="26.00" y="73.00" width="8.30" height="8.30" fill="#9c179e"/>
<rect x="34.00" y="73.00" width="8.30" height="8.30" fill="#f6923f"/>
<rect x="42.00" y="73.00" width="8.30" height="8.30" fill="#d5546e"/>
<rect x="50.00" y="73.00" width="8.30" height="8.30" fill="#b83289"/>
<rect x="58.00" y="73.00" width="8.30" height="8.30" fill="#0d0887"/>
</g>
<g shape-rendering="crispEdges">
<rect x="18.00" y="90.60" width="8.30" height="8.30" fill="#0d0887"/>
<rect x="26.00" y="90.60" width="8.30" height="8.30" fill="#f0824a"/>
<rect x="34.00" y="90.60" width="8.30" height="8.30" fill="#8606a6"/>
<rect x="42.00" y="90.60" width="8.30" height="8.30" fill="#f0824a"/>
<rect x="50.00" y="90.60" width="8.30" height="8.30" fill="#d5546e"/>
<rect x="58.00" y="90.60" width="8.30" height="8.30" fill="#9c179e"/>
<rect x="18.00" y="98.60" width="8.30" height="8.30" fill="#f0824a"/>
<rect x="26.00" y="98.60" width="8.30" height="8.30" fill="#0d0887"/>
<rect x="34.00" y="98.60" width="8.30" height="8.30" fill="#e56b5d"/>
<rect x="42.00" y="98.60" width="8.30" height="8.30" fill="#e56b5d"/>
<rect x="50.00" y="98.60" width="8.30" height="8.30" fill="#e56b5d"/>
<rect x="58.00" y="98.60" width="8.30" height="8.30" fill="#8606a6"/>
<rect x="18.00" y="106.60" width="8.30" height="8.30" fill="#8606a6"/>
<rect x="26.00" y="106.60" width="8.30" height="8.30" fill="#e56b5d"/>
<rect x="34.00" y="106.60" width="8.30" height="8.30" fill="#0d0887"/>
<rect x="42.00" y="106.60" width="8.30" height="8.30" fill="#d5546e"/>
<rect x="50.00" y="106.60" width="8.30" height="8.30" fill="#e56b5d"/>
<rect x="58.00" y="106.60" width="8.30" height="8.30" fill="#eef322"/>
<rect x="18.00" y="114.60" width="8.30" height="8.30" fill="#f0824a"/>
<rect x="26.00" y="114.60" width="8.30" height="8.30" fill="#e56b5d"/>
<rect x="34.00" y="114.60" width="8.30" height="8.30" fill="#d5546e"/>
<rect x="42.00" y="114.60" width="8.30" height="8.30" fill="#0d0887"/>
<rect x="50.00" y="114.60" width="8.30" height="8.30" fill="#e56b5d"/>
<rect x="58.00" y="114.60" width="8.30" height="8.30" fill="#e8705a"/>
<rect x="18.00" y="122.60" width="8.30" height="8.30" fill="#d5546e"/>
<rect x="26.00" y="122.60" width="8.30" height="8.30" fill="#e56b5d"/>
<rect x="34.00" y="122.60" width="8.30" height="8.30" fill="#e56b5d"/>
<rect x="42.00" y="122.60" width="8.30" height="8.30" fill="#e56b5d"/>
<rect x="50.00" y="122.60" width="8.30" height="8.30" fill="#0d0887"/>
<rect x="58.00" y="122.60" width="8.30" height="8.30" fill="#8606a6"/>
<rect x="18.00" y="130.60" width="8.30" height="8.30" fill="#9c179e"/>
<rect x="26.00" y="130.60" width="8.30" height="8.30" fill="#8606a6"/>
<rect x="34.00" y="130.60" width="8.30" height="8.30" fill="#eef322"/>
<rect x="42.00" y="130.60" width="8.30" height="8.30" fill="#e8705a"/>
<rect x="50.00" y="130.60" width="8.30" height="8.30" fill="#8606a6"/>
<rect x="58.00" y="130.60" width="8.30" height="8.30" fill="#0d0887"/>
</g>
<text x="17.20" y="150.70" font-size="10" fill="#1a1a1a" stroke="#1a1a1a" stroke-width="0.1" text-anchor="start" >Globa level</text>
<text transform="translate(9.7,83.5) rotate(-90)" font-size="11.5" fill="#1a1a1a" stroke="#1a1a1a" stroke-width="0.12" text-anchor="middle">Pattern of RDM</text>
<path d="M75.2,53.599999999999994 L99.3,53.599999999999994 L99.3,49.5 L115.1,57.3 L99.3,65.1 L99.3,61.0 L75.2,61.0Z" fill="#c0503c"/>
<path d="M75.8,111.2 L99.3,111.2 L99.3,107.10000000000001 L115.1,114.9 L99.3,122.7 L99.3,118.60000000000001 L75.8,118.60000000000001Z" fill="#3f80c2"/>
<text x="95.40" y="85.50" font-size="10" fill="#1a1a1a" stroke="#1a1a1a" stroke-width="0.1" text-anchor="middle" >for each</text>
<text x="95.40" y="95.50" font-size="10" fill="#1a1a1a" stroke="#1a1a1a" stroke-width="0.1" text-anchor="middle" >participant</text>
<rect x="125" y="33.00" width="57.2" height="16.60" fill="#262626"/>
<text x="153.60" y="45.20" font-size="8.6" fill="#f0f0f0" stroke="#f0f0f0" stroke-width="0" text-anchor="middle" >CSF</text>
<rect x="125" y="49.60" width="57.2" height="24.00" fill="#ffe699"/>
<text x="153.60" y="65.20" font-size="8.6" fill="#1a1a1a" stroke="#1a1a1a" stroke-width="0" text-anchor="middle" >Superficial (S)</text>
<rect x="125" y="73.60" width="57.2" height="19.60" fill="#ffc000"/>
<text x="153.60" y="86.50" font-size="8.6" fill="#1a1a1a" stroke="#1a1a1a" stroke-width="0" text-anchor="middle" >Middle (M)</text>
<rect x="125" y="93.20" width="57.2" height="24.40" fill="#ed7d31"/>
<text x="153.60" y="108.50" font-size="8.6" fill="#1a1a1a" stroke="#1a1a1a" stroke-width="0" text-anchor="middle" >Deep (D)</text>
<rect x="125" y="117.60" width="57.2" height="16.60" fill="#d9d9d9"/>
<text x="153.60" y="129.00" font-size="8.6" fill="#1a1a1a" stroke="#1a1a1a" stroke-width="0" text-anchor="middle" >WM</text>
<rect x="125" y="33" width="57.2" height="101.20" fill="none" stroke="#3a3a3a" stroke-width="1"/>
<text x="153.00" y="150.80" font-size="11" fill="#1a1a1a" stroke="#1a1a1a" stroke-width="0.1" text-anchor="middle" >Extract layer activation</text>
<path d="M187,49.8 V73.5" fill="none" stroke="#333" stroke-width="0.95" stroke-dasharray="2.6,1.4"/>
<path d="M183.5,49.8 H187 M183.5,73.5 H187" fill="none" stroke="#333" stroke-width="0.95"/>
<path d="M187.36,63.85 L189.12,63.60 L190.89,63.43 L192.66,63.33 L194.43,63.32 L196.20,63.38 L197.96,63.52 L199.72,63.73 L201.47,64.01 L203.21,64.37 L204.94,64.79 L206.66,65.28 L208.37,65.85 L210.07,66.47 L211.76,67.16 L213.42,67.92 L215.07,68.73 L216.70,69.61 L218.31,70.54 L219.91,71.53 L221.47,72.58 L223.02,73.68 L224.54,74.83 L226.03,76.03 L227.50,77.28 L228.94,78.58 L230.35,79.92 L231.73,81.31 L233.08,82.74 L234.40,84.22 L235.68,85.73 L239.06,83.14 L239.18,94.39 L228.34,91.36 L231.72,88.77 L230.62,87.27 L229.50,85.80 L228.34,84.37 L227.14,82.97 L225.92,81.61 L224.66,80.29 L223.37,79.01 L222.06,77.78 L220.71,76.58 L219.34,75.44 L217.94,74.34 L216.52,73.29 L215.07,72.29 L213.60,71.34 L212.10,70.44 L210.59,69.60 L209.05,68.82 L207.49,68.10 L205.91,67.43 L204.31,66.83 L202.69,66.29 L201.06,65.81 L199.41,65.40 L197.74,65.06 L196.06,64.79 L194.36,64.59 L192.65,64.46 L190.93,64.41 L189.19,64.44 L187.44,64.55Z" fill="#3a6dcc"/>
<text x="208.80" y="97.80" font-size="10.2" fill="#1a1a1a" stroke="#1a1a1a" stroke-width="0.1" text-anchor="middle" >for each</text>
<text x="208.80" y="107.60" font-size="10.2" fill="#1a1a1a" stroke="#1a1a1a" stroke-width="0.1" text-anchor="middle" >layer</text>
<rect x="275.10" y="33.70" width="69.80" height="69.80" fill="#fff"/>
<g shape-rendering="crispEdges">
<rect x="276.40" y="35.00" width="11.50" height="11.50" fill="#0d0887"/>
<rect x="287.60" y="35.00" width="11.50" height="11.50" fill="#fdc12a"/>
<rect x="298.80" y="35.00" width="11.50" height="11.50" fill="#eef322"/>
<rect x="310.00" y="35.00" width="11.50" height="11.50" fill="#d5546e"/>
<rect x="321.20" y="35.00" width="11.50" height="11.50" fill="#e56b5d"/>
<rect x="332.40" y="35.00" width="11.50" height="11.50" fill="#9c179e"/>
<rect x="276.40" y="46.20" width="11.50" height="11.50" fill="#b83289"/>
<rect x="287.60" y="46.20" width="11.50" height="11.50" fill="#0d0887"/>
<rect x="298.80" y="46.20" width="11.50" height="11.50" fill="#e56b5d"/>
<rect x="310.00" y="46.20" width="11.50" height="11.50" fill="#faa638"/>
<rect x="321.20" y="46.20" width="11.50" height="11.50" fill="#e56b5d"/>
<rect x="332.40" y="46.20" width="11.50" height="11.50" fill="#eef322"/>
<rect x="276.40" y="57.40" width="11.50" height="11.50" fill="#8606a6"/>
<rect x="287.60" y="57.40" width="11.50" height="11.50" fill="#9c179e"/>
<rect x="298.80" y="57.40" width="11.50" height="11.50" fill="#0d0887"/>
<rect x="310.00" y="57.40" width="11.50" height="11.50" fill="#e8705a"/>
<rect x="321.20" y="57.40" width="11.50" height="11.50" fill="#e8705a"/>
<rect x="332.40" y="57.40" width="11.50" height="11.50" fill="#eef322"/>
<rect x="276.40" y="68.60" width="11.50" height="11.50" fill="#e8705a"/>
<rect x="287.60" y="68.60" width="11.50" height="11.50" fill="#c43e7f"/>
<rect x="298.80" y="68.60" width="11.50" height="11.50" fill="#e56b5d"/>
<rect x="310.00" y="68.60" width="11.50" height="11.50" fill="#0d0887"/>
<rect x="321.20" y="68.60" width="11.50" height="11.50" fill="#b83289"/>
<rect x="332.40" y="68.60" width="11.50" height="11.50" fill="#e8705a"/>
<rect x="276.40" y="79.80" width="11.50" height="11.50" fill="#e56b5d"/>
<rect x="287.60" y="79.80" width="11.50" height="11.50" fill="#9c179e"/>
<rect x="298.80" y="79.80" width="11.50" height="11.50" fill="#f6923f"/>
<rect x="310.00" y="79.80" width="11.50" height="11.50" fill="#faa638"/>
<rect x="321.20" y="79.80" width="11.50" height="11.50" fill="#0d0887"/>
<rect x="332.40" y="79.80" width="11.50" height="11.50" fill="#e8705a"/>
<rect x="276.40" y="91.00" width="11.50" height="11.50" fill="#eef322"/>
<rect x="287.60" y="91.00" width="11.50" height="11.50" fill="#b83289"/>
<rect x="298.80" y="91.00" width="11.50" height="11.50" fill="#8606a6"/>
<rect x="310.00" y="91.00" width="11.50" height="11.50" fill="#f6923f"/>
<rect x="321.20" y="91.00" width="11.50" height="11.50" fill="#b83289"/>
<rect x="332.40" y="91.00" width="11.50" height="11.50" fill="#0d0887"/>
</g>
<rect x="272.30" y="36.50" width="69.80" height="69.80" fill="#fff"/>
<g shape-rendering="crispEdges">
<rect x="273.60" y="37.80" width="11.50" height="11.50" fill="#0d0887"/>
<rect x="284.80" y="37.80" width="11.50" height="11.50" fill="#d5546e"/>
<rect x="296.00" y="37.80" width="11.50" height="11.50" fill="#eef322"/>
<rect x="307.20" y="37.80" width="11.50" height="11.50" fill="#8606a6"/>
<rect x="318.40" y="37.80" width="11.50" height="11.50" fill="#9c179e"/>
<rect x="329.60" y="37.80" width="11.50" height="11.50" fill="#b83289"/>
<rect x="273.60" y="49.00" width="11.50" height="11.50" fill="#faa638"/>
<rect x="284.80" y="49.00" width="11.50" height="11.50" fill="#0d0887"/>
<rect x="296.00" y="49.00" width="11.50" height="11.50" fill="#fdc12a"/>
<rect x="307.20" y="49.00" width="11.50" height="11.50" fill="#c43e7f"/>
<rect x="318.40" y="49.00" width="11.50" height="11.50" fill="#9c179e"/>
<rect x="329.60" y="49.00" width="11.50" height="11.50" fill="#faa638"/>
<rect x="273.60" y="60.20" width="11.50" height="11.50" fill="#e56b5d"/>
<rect x="284.80" y="60.20" width="11.50" height="11.50" fill="#9c179e"/>
<rect x="296.00" y="60.20" width="11.50" height="11.50" fill="#0d0887"/>
<rect x="307.20" y="60.20" width="11.50" height="11.50" fill="#eef322"/>
<rect x="318.40" y="60.20" width="11.50" height="11.50" fill="#eef322"/>
<rect x="329.60" y="60.20" width="11.50" height="11.50" fill="#b83289"/>
<rect x="273.60" y="71.40" width="11.50" height="11.50" fill="#e56b5d"/>
<rect x="284.80" y="71.40" width="11.50" height="11.50" fill="#b83289"/>
<rect x="296.00" y="71.40" width="11.50" height="11.50" fill="#faa638"/>
<rect x="307.20" y="71.40" width="11.50" height="11.50" fill="#0d0887"/>
<rect x="318.40" y="71.40" width="11.50" height="11.50" fill="#9c179e"/>
<rect x="329.60" y="71.40" width="11.50" height="11.50" fill="#c43e7f"/>
<rect x="273.60" y="82.60" width="11.50" height="11.50" fill="#b83289"/>
<rect x="284.80" y="82.60" width="11.50" height="11.50" fill="#e56b5d"/>
<rect x="296.00" y="82.60" width="11.50" height="11.50" fill="#8606a6"/>
<rect x="307.20" y="82.60" width="11.50" height="11.50" fill="#8606a6"/>
<rect x="318.40" y="82.60" width="11.50" height="11.50" fill="#0d0887"/>
<rect x="329.60" y="82.60" width="11.50" height="11.50" fill="#9c179e"/>
<rect x="273.60" y="93.80" width="11.50" height="11.50" fill="#c43e7f"/>
<rect x="284.80" y="93.80" width="11.50" height="11.50" fill="#c43e7f"/>
<rect x="296.00" y="93.80" width="11.50" height="11.50" fill="#eef322"/>
<rect x="307.20" y="93.80" width="11.50" height="11.50" fill="#9c179e"/>
<rect x="318.40" y="93.80" width="11.50" height="11.50" fill="#e56b5d"/>
<rect x="329.60" y="93.80" width="11.50" height="11.50" fill="#0d0887"/>
</g>
<rect x="269.50" y="39.30" width="69.80" height="69.80" fill="#fff"/>
<g shape-rendering="crispEdges">
<rect x="270.80" y="40.60" width="11.50" height="11.50" fill="#0d0887"/>
<rect x="282.00" y="40.60" width="11.50" height="11.50" fill="#b83289"/>
<rect x="293.20" y="40.60" width="11.50" height="11.50" fill="#e8705a"/>
<rect x="304.40" y="40.60" width="11.50" height="11.50" fill="#f6923f"/>
<rect x="315.60" y="40.60" width="11.50" height="11.50" fill="#9c179e"/>
<rect x="326.80" y="40.60" width="11.50" height="11.50" fill="#9c179e"/>
<rect x="270.80" y="51.80" width="11.50" height="11.50" fill="#d5546e"/>
<rect x="282.00" y="51.80" width="11.50" height="11.50" fill="#0d0887"/>
<rect x="293.20" y="51.80" width="11.50" height="11.50" fill="#c43e7f"/>
<rect x="304.40" y="51.80" width="11.50" height="11.50" fill="#e8705a"/>
<rect x="315.60" y="51.80" width="11.50" height="11.50" fill="#fdc12a"/>
<rect x="326.80" y="51.80" width="11.50" height="11.50" fill="#fdc12a"/>
<rect x="270.80" y="63.00" width="11.50" height="11.50" fill="#9c179e"/>
<rect x="282.00" y="63.00" width="11.50" height="11.50" fill="#f6923f"/>
<rect x="293.20" y="63.00" width="11.50" height="11.50" fill="#0d0887"/>
<rect x="304.40" y="63.00" width="11.50" height="11.50" fill="#e56b5d"/>
<rect x="315.60" y="63.00" width="11.50" height="11.50" fill="#eef322"/>
<rect x="326.80" y="63.00" width="11.50" height="11.50" fill="#faa638"/>
<rect x="270.80" y="74.20" width="11.50" height="11.50" fill="#faa638"/>
<rect x="282.00" y="74.20" width="11.50" height="11.50" fill="#8606a6"/>
<rect x="293.20" y="74.20" width="11.50" height="11.50" fill="#b83289"/>
<rect x="304.40" y="74.20" width="11.50" height="11.50" fill="#0d0887"/>
<rect x="315.60" y="74.20" width="11.50" height="11.50" fill="#c43e7f"/>
<rect x="326.80" y="74.20" width="11.50" height="11.50" fill="#faa638"/>
<rect x="270.80" y="85.40" width="11.50" height="11.50" fill="#f6923f"/>
<rect x="282.00" y="85.40" width="11.50" height="11.50" fill="#8606a6"/>
<rect x="293.20" y="85.40" width="11.50" height="11.50" fill="#c43e7f"/>
<rect x="304.40" y="85.40" width="11.50" height="11.50" fill="#8606a6"/>
<rect x="315.60" y="85.40" width="11.50" height="11.50" fill="#0d0887"/>
<rect x="326.80" y="85.40" width="11.50" height="11.50" fill="#eef322"/>
<rect x="270.80" y="96.60" width="11.50" height="11.50" fill="#fdc12a"/>
<rect x="282.00" y="96.60" width="11.50" height="11.50" fill="#b83289"/>
<rect x="293.20" y="96.60" width="11.50" height="11.50" fill="#fdc12a"/>
<rect x="304.40" y="96.60" width="11.50" height="11.50" fill="#eef322"/>
<rect x="315.60" y="96.60" width="11.50" height="11.50" fill="#f6923f"/>
<rect x="326.80" y="96.60" width="11.50" height="11.50" fill="#0d0887"/>
</g>
<rect x="266.70" y="42.10" width="69.80" height="69.80" fill="#fff"/>
<g shape-rendering="crispEdges">
<rect x="268.00" y="43.40" width="11.50" height="11.50" fill="#0d0887"/>
<rect x="279.20" y="43.40" width="11.50" height="11.50" fill="#f6923f"/>
<rect x="290.40" y="43.40" width="11.50" height="11.50" fill="#fdc12a"/>
<rect x="301.60" y="43.40" width="11.50" height="11.50" fill="#8606a6"/>
<rect x="312.80" y="43.40" width="11.50" height="11.50" fill="#faa638"/>
<rect x="324.00" y="43.40" width="11.50" height="11.50" fill="#9c179e"/>
<rect x="268.00" y="54.60" width="11.50" height="11.50" fill="#e8705a"/>
<rect x="279.20" y="54.60" width="11.50" height="11.50" fill="#0d0887"/>
<rect x="290.40" y="54.60" width="11.50" height="11.50" fill="#8606a6"/>
<rect x="301.60" y="54.60" width="11.50" height="11.50" fill="#9c179e"/>
<rect x="312.80" y="54.60" width="11.50" height="11.50" fill="#d5546e"/>
<rect x="324.00" y="54.60" width="11.50" height="11.50" fill="#b83289"/>
<rect x="268.00" y="65.80" width="11.50" height="11.50" fill="#fdc12a"/>
<rect x="279.20" y="65.80" width="11.50" height="11.50" fill="#e8705a"/>
<rect x="290.40" y="65.80" width="11.50" height="11.50" fill="#0d0887"/>
<rect x="301.60" y="65.80" width="11.50" height="11.50" fill="#eef322"/>
<rect x="312.80" y="65.80" width="11.50" height="11.50" fill="#faa638"/>
<rect x="324.00" y="65.80" width="11.50" height="11.50" fill="#b83289"/>
<rect x="268.00" y="77.00" width="11.50" height="11.50" fill="#c43e7f"/>
<rect x="279.20" y="77.00" width="11.50" height="11.50" fill="#e56b5d"/>
<rect x="290.40" y="77.00" width="11.50" height="11.50" fill="#9c179e"/>
<rect x="301.60" y="77.00" width="11.50" height="11.50" fill="#0d0887"/>
<rect x="312.80" y="77.00" width="11.50" height="11.50" fill="#eef322"/>
<rect x="324.00" y="77.00" width="11.50" height="11.50" fill="#f6923f"/>
<rect x="268.00" y="88.20" width="11.50" height="11.50" fill="#d5546e"/>
<rect x="279.20" y="88.20" width="11.50" height="11.50" fill="#eef322"/>
<rect x="290.40" y="88.20" width="11.50" height="11.50" fill="#d5546e"/>
<rect x="301.60" y="88.20" width="11.50" height="11.50" fill="#b83289"/>
<rect x="312.80" y="88.20" width="11.50" height="11.50" fill="#0d0887"/>
<rect x="324.00" y="88.20" width="11.50" height="11.50" fill="#c43e7f"/>
<rect x="268.00" y="99.40" width="11.50" height="11.50" fill="#c43e7f"/>
<rect x="279.20" y="99.40" width="11.50" height="11.50" fill="#e8705a"/>
<rect x="290.40" y="99.40" width="11.50" height="11.50" fill="#d5546e"/>
<rect x="301.60" y="99.40" width="11.50" height="11.50" fill="#d5546e"/>
<rect x="312.80" y="99.40" width="11.50" height="11.50" fill="#9c179e"/>
<rect x="324.00" y="99.40" width="11.50" height="11.50" fill="#0d0887"/>
</g>
<rect x="263.90" y="44.90" width="69.80" height="69.80" fill="#fff"/>
<g shape-rendering="crispEdges">
<rect x="265.20" y="46.20" width="11.50" height="11.50" fill="#0d0887"/>
<rect x="276.40" y="46.20" width="11.50" height="11.50" fill="#f6923f"/>
<rect x="287.60" y="46.20" width="11.50" height="11.50" fill="#b83289"/>
<rect x="298.80" y="46.20" width="11.50" height="11.50" fill="#eef322"/>
<rect x="310.00" y="46.20" width="11.50" height="11.50" fill="#e8705a"/>
<rect x="321.20" y="46.20" width="11.50" height="11.50" fill="#d5546e"/>
<rect x="265.20" y="57.40" width="11.50" height="11.50" fill="#b83289"/>
<rect x="276.40" y="57.40" width="11.50" height="11.50" fill="#0d0887"/>
<rect x="287.60" y="57.40" width="11.50" height="11.50" fill="#9c179e"/>
<rect x="298.80" y="57.40" width="11.50" height="11.50" fill="#eef322"/>
<rect x="310.00" y="57.40" width="11.50" height="11.50" fill="#faa638"/>
<rect x="321.20" y="57.40" width="11.50" height="11.50" fill="#f6923f"/>
<rect x="265.20" y="68.60" width="11.50" height="11.50" fill="#9c179e"/>
<rect x="276.40" y="68.60" width="11.50" height="11.50" fill="#e56b5d"/>
<rect x="287.60" y="68.60" width="11.50" height="11.50" fill="#0d0887"/>
<rect x="298.80" y="68.60" width="11.50" height="11.50" fill="#faa638"/>
<rect x="310.00" y="68.60" width="11.50" height="11.50" fill="#fdc12a"/>
<rect x="321.20" y="68.60" width="11.50" height="11.50" fill="#f6923f"/>
<rect x="265.20" y="79.80" width="11.50" height="11.50" fill="#d5546e"/>
<rect x="276.40" y="79.80" width="11.50" height="11.50" fill="#b83289"/>
<rect x="287.60" y="79.80" width="11.50" height="11.50" fill="#f6923f"/>
<rect x="298.80" y="79.80" width="11.50" height="11.50" fill="#0d0887"/>
<rect x="310.00" y="79.80" width="11.50" height="11.50" fill="#9c179e"/>
<rect x="321.20" y="79.80" width="11.50" height="11.50" fill="#8606a6"/>
<rect x="265.20" y="91.00" width="11.50" height="11.50" fill="#f6923f"/>
<rect x="276.40" y="91.00" width="11.50" height="11.50" fill="#f6923f"/>
<rect x="287.60" y="91.00" width="11.50" height="11.50" fill="#e56b5d"/>
<rect x="298.80" y="91.00" width="11.50" height="11.50" fill="#d5546e"/>
<rect x="310.00" y="91.00" width="11.50" height="11.50" fill="#0d0887"/>
<rect x="321.20" y="91.00" width="11.50" height="11.50" fill="#f6923f"/>
<rect x="265.20" y="102.20" width="11.50" height="11.50" fill="#8606a6"/>
<rect x="276.40" y="102.20" width="11.50" height="11.50" fill="#fdc12a"/>
<rect x="287.60" y="102.20" width="11.50" height="11.50" fill="#b83289"/>
<rect x="298.80" y="102.20" width="11.50" height="11.50" fill="#c43e7f"/>
<rect x="310.00" y="102.20" width="11.50" height="11.50" fill="#fdc12a"/>
<rect x="321.20" y="102.20" width="11.50" height="11.50" fill="#0d0887"/>
</g>
<rect x="261.10" y="47.70" width="69.80" height="69.80" fill="#fff"/>
<g shape-rendering="crispEdges">
<rect x="262.40" y="49.00" width="11.50" height="11.50" fill="#0d0887"/>
<rect x="273.60" y="49.00" width="11.50" height="11.50" fill="#c43e7f"/>
<rect x="284.80" y="49.00" width="11.50" height="11.50" fill="#faa638"/>
<rect x="296.00" y="49.00" width="11.50" height="11.50" fill="#d5546e"/>
<rect x="307.20" y="49.00" width="11.50" height="11.50" fill="#fdc12a"/>
<rect x="318.40" y="49.00" width="11.50" height="11.50" fill="#c43e7f"/>
<rect x="262.40" y="60.20" width="11.50" height="11.50" fill="#e8705a"/>
<rect x="273.60" y="60.20" width="11.50" height="11.50" fill="#0d0887"/>
<rect x="284.80" y="60.20" width="11.50" height="11.50" fill="#c43e7f"/>
<rect x="296.00" y="60.20" width="11.50" height="11.50" fill="#b83289"/>
<rect x="307.20" y="60.20" width="11.50" height="11.50" fill="#c43e7f"/>
<rect x="318.40" y="60.20" width="11.50" height="11.50" fill="#9c179e"/>
<rect x="262.40" y="71.40" width="11.50" height="11.50" fill="#e8705a"/>
<rect x="273.60" y="71.40" width="11.50" height="11.50" fill="#f6923f"/>
<rect x="284.80" y="71.40" width="11.50" height="11.50" fill="#0d0887"/>
<rect x="296.00" y="71.40" width="11.50" height="11.50" fill="#e56b5d"/>
<rect x="307.20" y="71.40" width="11.50" height="11.50" fill="#e56b5d"/>
<rect x="318.40" y="71.40" width="11.50" height="11.50" fill="#e8705a"/>
<rect x="262.40" y="82.60" width="11.50" height="11.50" fill="#faa638"/>
<rect x="273.60" y="82.60" width="11.50" height="11.50" fill="#faa638"/>
<rect x="284.80" y="82.60" width="11.50" height="11.50" fill="#e8705a"/>
<rect x="296.00" y="82.60" width="11.50" height="11.50" fill="#0d0887"/>
<rect x="307.20" y="82.60" width="11.50" height="11.50" fill="#8606a6"/>
<rect x="318.40" y="82.60" width="11.50" height="11.50" fill="#d5546e"/>
<rect x="262.40" y="93.80" width="11.50" height="11.50" fill="#e56b5d"/>
<rect x="273.60" y="93.80" width="11.50" height="11.50" fill="#8606a6"/>
<rect x="284.80" y="93.80" width="11.50" height="11.50" fill="#d5546e"/>
<rect x="296.00" y="93.80" width="11.50" height="11.50" fill="#faa638"/>
<rect x="307.20" y="93.80" width="11.50" height="11.50" fill="#0d0887"/>
<rect x="318.40" y="93.80" width="11.50" height="11.50" fill="#9c179e"/>
<rect x="262.40" y="105.00" width="11.50" height="11.50" fill="#8606a6"/>
<rect x="273.60" y="105.00" width="11.50" height="11.50" fill="#b83289"/>
<rect x="284.80" y="105.00" width="11.50" height="11.50" fill="#d5546e"/>
<rect x="296.00" y="105.00" width="11.50" height="11.50" fill="#c43e7f"/>
<rect x="307.20" y="105.00" width="11.50" height="11.50" fill="#9c179e"/>
<rect x="318.40" y="105.00" width="11.50" height="11.50" fill="#0d0887"/>
</g>
<rect x="258.30" y="50.50" width="69.80" height="69.80" fill="#fff"/>
<g shape-rendering="crispEdges">
<rect x="259.60" y="51.80" width="11.50" height="11.50" fill="#0d0887"/>
<rect x="270.80" y="51.80" width="11.50" height="11.50" fill="#b83289"/>
<rect x="282.00" y="51.80" width="11.50" height="11.50" fill="#b83289"/>
<rect x="293.20" y="51.80" width="11.50" height="11.50" fill="#fdc12a"/>
<rect x="304.40" y="51.80" width="11.50" height="11.50" fill="#d5546e"/>
<rect x="315.60" y="51.80" width="11.50" height="11.50" fill="#8606a6"/>
<rect x="259.60" y="63.00" width="11.50" height="11.50" fill="#f6923f"/>
<rect x="270.80" y="63.00" width="11.50" height="11.50" fill="#0d0887"/>
<rect x="282.00" y="63.00" width="11.50" height="11.50" fill="#c43e7f"/>
<rect x="293.20" y="63.00" width="11.50" height="11.50" fill="#e56b5d"/>
<rect x="304.40" y="63.00" width="11.50" height="11.50" fill="#c43e7f"/>
<rect x="315.60" y="63.00" width="11.50" height="11.50" fill="#9c179e"/>
<rect x="259.60" y="74.20" width="11.50" height="11.50" fill="#c43e7f"/>
<rect x="270.80" y="74.20" width="11.50" height="11.50" fill="#8606a6"/>
<rect x="282.00" y="74.20" width="11.50" height="11.50" fill="#0d0887"/>
<rect x="293.20" y="74.20" width="11.50" height="11.50" fill="#eef322"/>
<rect x="304.40" y="74.20" width="11.50" height="11.50" fill="#8606a6"/>
<rect x="315.60" y="74.20" width="11.50" height="11.50" fill="#eef322"/>
<rect x="259.60" y="85.40" width="11.50" height="11.50" fill="#faa638"/>
<rect x="270.80" y="85.40" width="11.50" height="11.50" fill="#fdc12a"/>
<rect x="282.00" y="85.40" width="11.50" height="11.50" fill="#faa638"/>
<rect x="293.20" y="85.40" width="11.50" height="11.50" fill="#0d0887"/>
<rect x="304.40" y="85.40" width="11.50" height="11.50" fill="#faa638"/>
<rect x="315.60" y="85.40" width="11.50" height="11.50" fill="#f6923f"/>
<rect x="259.60" y="96.60" width="11.50" height="11.50" fill="#9c179e"/>
<rect x="270.80" y="96.60" width="11.50" height="11.50" fill="#9c179e"/>
<rect x="282.00" y="96.60" width="11.50" height="11.50" fill="#fdc12a"/>
<rect x="293.20" y="96.60" width="11.50" height="11.50" fill="#e8705a"/>
<rect x="304.40" y="96.60" width="11.50" height="11.50" fill="#0d0887"/>
<rect x="315.60" y="96.60" width="11.50" height="11.50" fill="#eef322"/>
<rect x="259.60" y="107.80" width="11.50" height="11.50" fill="#eef322"/>
<rect x="270.80" y="107.80" width="11.50" height="11.50" fill="#faa638"/>
<rect x="282.00" y="107.80" width="11.50" height="11.50" fill="#d5546e"/>
<rect x="293.20" y="107.80" width="11.50" height="11.50" fill="#faa638"/>
<rect x="304.40" y="107.80" width="11.50" height="11.50" fill="#d5546e"/>
<rect x="315.60" y="107.80" width="11.50" height="11.50" fill="#0d0887"/>
</g>
<rect x="255.50" y="53.30" width="69.80" height="69.80" fill="#fff"/>
<g shape-rendering="crispEdges">
<rect x="256.80" y="54.60" width="11.50" height="11.50" fill="#0d0887"/>
<rect x="268.00" y="54.60" width="11.50" height="11.50" fill="#c43e7f"/>
<rect x="279.20" y="54.60" width="11.50" height="11.50" fill="#b83289"/>
<rect x="290.40" y="54.60" width="11.50" height="11.50" fill="#f6923f"/>
<rect x="301.60" y="54.60" width="11.50" height="11.50" fill="#b83289"/>
<rect x="312.80" y="54.60" width="11.50" height="11.50" fill="#e8705a"/>
<rect x="256.80" y="65.80" width="11.50" height="11.50" fill="#e8705a"/>
<rect x="268.00" y="65.80" width="11.50" height="11.50" fill="#0d0887"/>
<rect x="279.20" y="65.80" width="11.50" height="11.50" fill="#8606a6"/>
<rect x="290.40" y="65.80" width="11.50" height="11.50" fill="#eef322"/>
<rect x="301.60" y="65.80" width="11.50" height="11.50" fill="#e56b5d"/>
<rect x="312.80" y="65.80" width="11.50" height="11.50" fill="#b83289"/>
<rect x="256.80" y="77.00" width="11.50" height="11.50" fill="#e8705a"/>
<rect x="268.00" y="77.00" width="11.50" height="11.50" fill="#9c179e"/>
<rect x="279.20" y="77.00" width="11.50" height="11.50" fill="#0d0887"/>
<rect x="290.40" y="77.00" width="11.50" height="11.50" fill="#eef322"/>
<rect x="301.60" y="77.00" width="11.50" height="11.50" fill="#c43e7f"/>
<rect x="312.80" y="77.00" width="11.50" height="11.50" fill="#9c179e"/>
<rect x="256.80" y="88.20" width="11.50" height="11.50" fill="#e8705a"/>
<rect x="268.00" y="88.20" width="11.50" height="11.50" fill="#f6923f"/>
<rect x="279.20" y="88.20" width="11.50" height="11.50" fill="#e56b5d"/>
<rect x="290.40" y="88.20" width="11.50" height="11.50" fill="#0d0887"/>
<rect x="301.60" y="88.20" width="11.50" height="11.50" fill="#b83289"/>
<rect x="312.80" y="88.20" width="11.50" height="11.50" fill="#fdc12a"/>
<rect x="256.80" y="99.40" width="11.50" height="11.50" fill="#9c179e"/>
<rect x="268.00" y="99.40" width="11.50" height="11.50" fill="#9c179e"/>
<rect x="279.20" y="99.40" width="11.50" height="11.50" fill="#9c179e"/>
<rect x="290.40" y="99.40" width="11.50" height="11.50" fill="#8606a6"/>
<rect x="301.60" y="99.40" width="11.50" height="11.50" fill="#0d0887"/>
<rect x="312.80" y="99.40" width="11.50" height="11.50" fill="#9c179e"/>
<rect x="256.80" y="110.60" width="11.50" height="11.50" fill="#eef322"/>
<rect x="268.00" y="110.60" width="11.50" height="11.50" fill="#8606a6"/>
<rect x="279.20" y="110.60" width="11.50" height="11.50" fill="#e56b5d"/>
<rect x="290.40" y="110.60" width="11.50" height="11.50" fill="#eef322"/>
<rect x="301.60" y="110.60" width="11.50" height="11.50" fill="#9c179e"/>
<rect x="312.80" y="110.60" width="11.50" height="11.50" fill="#0d0887"/>
</g>
<rect x="252.7" y="56.1" width="69.8" height="69.8" fill="#fff"/>
<g shape-rendering="crispEdges">
<rect x="254.00" y="57.40" width="11.50" height="11.50" fill="#0d0887"/>
<rect x="265.20" y="57.40" width="11.50" height="11.50" fill="#faa638"/>
<rect x="276.40" y="57.40" width="11.50" height="11.50" fill="#c43e7f"/>
<rect x="287.60" y="57.40" width="11.50" height="11.50" fill="#c43e7f"/>
<rect x="298.80" y="57.40" width="11.50" height="11.50" fill="#9c179e"/>
<rect x="310.00" y="57.40" width="11.50" height="11.50" fill="#e8705a"/>
<rect x="254.00" y="68.60" width="11.50" height="11.50" fill="#faa638"/>
<rect x="265.20" y="68.60" width="11.50" height="11.50" fill="#0d0887"/>
<rect x="276.40" y="68.60" width="11.50" height="11.50" fill="#e8705a"/>
<rect x="287.60" y="68.60" width="11.50" height="11.50" fill="#d5546e"/>
<rect x="298.80" y="68.60" width="11.50" height="11.50" fill="#e8705a"/>
<rect x="310.00" y="68.60" width="11.50" height="11.50" fill="#eef322"/>
<rect x="254.00" y="79.80" width="11.50" height="11.50" fill="#c43e7f"/>
<rect x="265.20" y="79.80" width="11.50" height="11.50" fill="#e8705a"/>
<rect x="276.40" y="79.80" width="11.50" height="11.50" fill="#0d0887"/>
<rect x="287.60" y="79.80" width="11.50" height="11.50" fill="#c43e7f"/>
<rect x="298.80" y="79.80" width="11.50" height="11.50" fill="#e8705a"/>
<rect x="310.00" y="79.80" width="11.50" height="11.50" fill="#8606a6"/>
<rect x="254.00" y="91.00" width="11.50" height="11.50" fill="#c43e7f"/>
<rect x="265.20" y="91.00" width="11.50" height="11.50" fill="#d5546e"/>
<rect x="276.40" y="91.00" width="11.50" height="11.50" fill="#c43e7f"/>
<rect x="287.60" y="91.00" width="11.50" height="11.50" fill="#0d0887"/>
<rect x="298.80" y="91.00" width="11.50" height="11.50" fill="#b83289"/>
<rect x="310.00" y="91.00" width="11.50" height="11.50" fill="#e8705a"/>
<rect x="254.00" y="102.20" width="11.50" height="11.50" fill="#9c179e"/>
<rect x="265.20" y="102.20" width="11.50" height="11.50" fill="#e8705a"/>
<rect x="276.40" y="102.20" width="11.50" height="11.50" fill="#e8705a"/>
<rect x="287.60" y="102.20" width="11.50" height="11.50" fill="#b83289"/>
<rect x="298.80" y="102.20" width="11.50" height="11.50" fill="#0d0887"/>
<rect x="310.00" y="102.20" width="11.50" height="11.50" fill="#eef322"/>
<rect x="254.00" y="113.40" width="11.50" height="11.50" fill="#e8705a"/>
<rect x="265.20" y="113.40" width="11.50" height="11.50" fill="#eef322"/>
<rect x="276.40" y="113.40" width="11.50" height="11.50" fill="#8606a6"/>
<rect x="287.60" y="113.40" width="11.50" height="11.50" fill="#e8705a"/>
<rect x="298.80" y="113.40" width="11.50" height="11.50" fill="#eef322"/>
<rect x="310.00" y="113.40" width="11.50" height="11.50" fill="#0d0887"/>
</g>
<path d="M241.8,57.4 V125.3" fill="none" stroke="#333" stroke-width="0.95" stroke-dasharray="2.6,1.4"/>
<path d="M244.6,57.4 H241.8 M244.6,125.3 H241.8" fill="none" stroke="#333" stroke-width="0.95"/>
<text transform="translate(252,63.00) rotate(-90)" font-size="6.6" fill="#222" text-anchor="middle">C1</text>
<text x="259.60" y="132.10" font-size="6.6" fill="#222" stroke="#222" stroke-width="0" text-anchor="middle" >C1</text>
<text transform="translate(252,74.20) rotate(-90)" font-size="6.6" fill="#222" text-anchor="middle">C2</text>
<text x="270.80" y="132.10" font-size="6.6" fill="#222" stroke="#222" stroke-width="0" text-anchor="middle" >C2</text>
<text transform="translate(252,85.40) rotate(-90)" font-size="6.6" fill="#222" text-anchor="middle">C3</text>
<text x="282.00" y="132.10" font-size="6.6" fill="#222" stroke="#222" stroke-width="0" text-anchor="middle" >C3</text>
<text transform="translate(252,96.60) rotate(-90)" font-size="6.6" fill="#222" text-anchor="middle">C4</text>
<text x="293.20" y="132.10" font-size="6.6" fill="#222" stroke="#222" stroke-width="0" text-anchor="middle" >C4</text>
<text transform="translate(252,107.80) rotate(-90)" font-size="6.6" fill="#222" text-anchor="middle">C5</text>
<text x="304.40" y="132.10" font-size="6.6" fill="#222" stroke="#222" stroke-width="0" text-anchor="middle" >C5</text>
<text transform="translate(252,119.00) rotate(-90)" font-size="6.6" fill="#222" text-anchor="middle">C6</text>
<text x="315.60" y="132.10" font-size="6.6" fill="#222" stroke="#222" stroke-width="0" text-anchor="middle" >C6</text>
<text x="285.80" y="150.80" font-size="11" fill="#1a1a1a" stroke="#1a1a1a" stroke-width="0.1" text-anchor="middle" >Layer RDM</text>
<path d="M346,120.4 H401" stroke="#111" stroke-width="1.2"/>
<path d="M342.5,120.4 L348.5,117.6 L348.5,123.2Z" fill="#111"/>
<path d="M404.3,120.4 L398.3,117.6 L398.3,123.2Z" fill="#111"/>
<text x="372.00" y="135.00" font-size="10" fill="#1a1a1a" stroke="#1a1a1a" stroke-width="0.1" text-anchor="middle" >Spearman's rho</text>
<rect x="398.70" y="33.40" width="70.80" height="70.80" fill="#fff"/>
<g shape-rendering="crispEdges">
<rect x="400.10" y="34.80" width="11.63" height="11.63" fill="#00224e"/>
<rect x="411.43" y="34.80" width="11.63" height="11.63" fill="#e2c94a"/>
<rect x="422.77" y="34.80" width="11.63" height="11.63" fill="#5c6178"/>
<rect x="434.10" y="34.80" width="11.63" height="11.63" fill="#5c6178"/>
<rect x="445.43" y="34.80" width="11.63" height="11.63" fill="#6b6e77"/>
<rect x="456.77" y="34.80" width="11.63" height="11.63" fill="#c8b45c"/>
<rect x="400.10" y="46.13" width="11.63" height="11.63" fill="#a69d75"/>
<rect x="411.43" y="46.13" width="11.63" height="11.63" fill="#00224e"/>
<rect x="422.77" y="46.13" width="11.63" height="11.63" fill="#6b6e77"/>
<rect x="434.10" y="46.13" width="11.63" height="11.63" fill="#5c6178"/>
<rect x="445.43" y="46.13" width="11.63" height="11.63" fill="#7c7b78"/>
<rect x="456.77" y="46.13" width="11.63" height="11.63" fill="#d6c056"/>
<rect x="400.10" y="57.47" width="11.63" height="11.63" fill="#6b6e77"/>
<rect x="411.43" y="57.47" width="11.63" height="11.63" fill="#a69d75"/>
<rect x="422.77" y="57.47" width="11.63" height="11.63" fill="#00224e"/>
<rect x="434.10" y="57.47" width="11.63" height="11.63" fill="#e2c94a"/>
<rect x="445.43" y="57.47" width="11.63" height="11.63" fill="#5c6178"/>
<rect x="456.77" y="57.47" width="11.63" height="11.63" fill="#6b6e77"/>
<rect x="400.10" y="68.80" width="11.63" height="11.63" fill="#7c7b78"/>
<rect x="411.43" y="68.80" width="11.63" height="11.63" fill="#2f4275"/>
<rect x="422.77" y="68.80" width="11.63" height="11.63" fill="#2f4275"/>
<rect x="434.10" y="68.80" width="11.63" height="11.63" fill="#00224e"/>
<rect x="445.43" y="68.80" width="11.63" height="11.63" fill="#fde737"/>
<rect x="456.77" y="68.80" width="11.63" height="11.63" fill="#7c7b78"/>
<rect x="400.10" y="80.13" width="11.63" height="11.63" fill="#9a9277"/>
<rect x="411.43" y="80.13" width="11.63" height="11.63" fill="#6b6e77"/>
<rect x="422.77" y="80.13" width="11.63" height="11.63" fill="#6b6e77"/>
<rect x="434.10" y="80.13" width="11.63" height="11.63" fill="#c4b160"/>
<rect x="445.43" y="80.13" width="11.63" height="11.63" fill="#00224e"/>
<rect x="456.77" y="80.13" width="11.63" height="11.63" fill="#6b6e77"/>
<rect x="400.10" y="91.47" width="11.63" height="11.63" fill="#fde737"/>
<rect x="411.43" y="91.47" width="11.63" height="11.63" fill="#aca06e"/>
<rect x="422.77" y="91.47" width="11.63" height="11.63" fill="#00224e"/>
<rect x="434.10" y="91.47" width="11.63" height="11.63" fill="#c8b45c"/>
<rect x="445.43" y="91.47" width="11.63" height="11.63" fill="#9a9277"/>
<rect x="456.77" y="91.47" width="11.63" height="11.63" fill="#00224e"/>
</g>
<rect x="400.10" y="34.80" width="68" height="68" fill="#fff" opacity="0.15"/>
<rect x="401.50" y="36.20" width="70.80" height="70.80" fill="#fff"/>
<g shape-rendering="crispEdges">
<rect x="402.90" y="37.60" width="11.63" height="11.63" fill="#00224e"/>
<rect x="414.23" y="37.60" width="11.63" height="11.63" fill="#9a9277"/>
<rect x="425.57" y="37.60" width="11.63" height="11.63" fill="#2f4275"/>
<rect x="436.90" y="37.60" width="11.63" height="11.63" fill="#a69d75"/>
<rect x="448.23" y="37.60" width="11.63" height="11.63" fill="#aca06e"/>
<rect x="459.57" y="37.60" width="11.63" height="11.63" fill="#2f4275"/>
<rect x="402.90" y="48.93" width="11.63" height="11.63" fill="#9a9277"/>
<rect x="414.23" y="48.93" width="11.63" height="11.63" fill="#00224e"/>
<rect x="425.57" y="48.93" width="11.63" height="11.63" fill="#2f4275"/>
<rect x="436.90" y="48.93" width="11.63" height="11.63" fill="#e2c94a"/>
<rect x="448.23" y="48.93" width="11.63" height="11.63" fill="#a69d75"/>
<rect x="459.57" y="48.93" width="11.63" height="11.63" fill="#7c7b78"/>
<rect x="402.90" y="60.27" width="11.63" height="11.63" fill="#e2c94a"/>
<rect x="414.23" y="60.27" width="11.63" height="11.63" fill="#fde737"/>
<rect x="425.57" y="60.27" width="11.63" height="11.63" fill="#00224e"/>
<rect x="436.90" y="60.27" width="11.63" height="11.63" fill="#9a9277"/>
<rect x="448.23" y="60.27" width="11.63" height="11.63" fill="#2f4275"/>
<rect x="459.57" y="60.27" width="11.63" height="11.63" fill="#c4b160"/>
<rect x="402.90" y="71.60" width="11.63" height="11.63" fill="#e2c94a"/>
<rect x="414.23" y="71.60" width="11.63" height="11.63" fill="#a69d75"/>
<rect x="425.57" y="71.60" width="11.63" height="11.63" fill="#e2c94a"/>
<rect x="436.90" y="71.60" width="11.63" height="11.63" fill="#00224e"/>
<rect x="448.23" y="71.60" width="11.63" height="11.63" fill="#6b6e77"/>
<rect x="459.57" y="71.60" width="11.63" height="11.63" fill="#2f4275"/>
<rect x="402.90" y="82.93" width="11.63" height="11.63" fill="#a69d75"/>
<rect x="414.23" y="82.93" width="11.63" height="11.63" fill="#6b6e77"/>
<rect x="425.57" y="82.93" width="11.63" height="11.63" fill="#c4b160"/>
<rect x="436.90" y="82.93" width="11.63" height="11.63" fill="#aca06e"/>
<rect x="448.23" y="82.93" width="11.63" height="11.63" fill="#00224e"/>
<rect x="459.57" y="82.93" width="11.63" height="11.63" fill="#2f4275"/>
<rect x="402.90" y="94.27" width="11.63" height="11.63" fill="#e2c94a"/>
<rect x="414.23" y="94.27" width="11.63" height="11.63" fill="#aca06e"/>
<rect x="425.57" y="94.27" width="11.63" height="11.63" fill="#9a9277"/>
<rect x="436.90" y="94.27" width="11.63" height="11.63" fill="#d6c056"/>
<rect x="448.23" y="94.27" width="11.63" height="11.63" fill="#aca06e"/>
<rect x="459.57" y="94.27" width="11.63" height="11.63" fill="#00224e"/>
</g>
<rect x="402.90" y="37.60" width="68" height="68" fill="#fff" opacity="0.15"/>
<rect x="404.30" y="39.00" width="70.80" height="70.80" fill="#fff"/>
<g shape-rendering="crispEdges">
<rect x="405.70" y="40.40" width="11.63" height="11.63" fill="#00224e"/>
<rect x="417.03" y="40.40" width="11.63" height="11.63" fill="#d6c056"/>
<rect x="428.37" y="40.40" width="11.63" height="11.63" fill="#d6c056"/>
<rect x="439.70" y="40.40" width="11.63" height="11.63" fill="#00224e"/>
<rect x="451.03" y="40.40" width="11.63" height="11.63" fill="#9a9277"/>
<rect x="462.37" y="40.40" width="11.63" height="11.63" fill="#aca06e"/>
<rect x="405.70" y="51.73" width="11.63" height="11.63" fill="#2f4275"/>
<rect x="417.03" y="51.73" width="11.63" height="11.63" fill="#00224e"/>
<rect x="428.37" y="51.73" width="11.63" height="11.63" fill="#00224e"/>
<rect x="439.70" y="51.73" width="11.63" height="11.63" fill="#7c7b78"/>
<rect x="451.03" y="51.73" width="11.63" height="11.63" fill="#fde737"/>
<rect x="462.37" y="51.73" width="11.63" height="11.63" fill="#2f4275"/>
<rect x="405.70" y="63.07" width="11.63" height="11.63" fill="#6b6e77"/>
<rect x="417.03" y="63.07" width="11.63" height="11.63" fill="#00224e"/>
<rect x="428.37" y="63.07" width="11.63" height="11.63" fill="#00224e"/>
<rect x="439.70" y="63.07" width="11.63" height="11.63" fill="#7c7b78"/>
<rect x="451.03" y="63.07" width="11.63" height="11.63" fill="#7c7b78"/>
<rect x="462.37" y="63.07" width="11.63" height="11.63" fill="#d6c056"/>
<rect x="405.70" y="74.40" width="11.63" height="11.63" fill="#c8b45c"/>
<rect x="417.03" y="74.40" width="11.63" height="11.63" fill="#9a9277"/>
<rect x="428.37" y="74.40" width="11.63" height="11.63" fill="#aca06e"/>
<rect x="439.70" y="74.40" width="11.63" height="11.63" fill="#00224e"/>
<rect x="451.03" y="74.40" width="11.63" height="11.63" fill="#2f4275"/>
<rect x="462.37" y="74.40" width="11.63" height="11.63" fill="#c4b160"/>
<rect x="405.70" y="85.73" width="11.63" height="11.63" fill="#e2c94a"/>
<rect x="417.03" y="85.73" width="11.63" height="11.63" fill="#fde737"/>
<rect x="428.37" y="85.73" width="11.63" height="11.63" fill="#d6c056"/>
<rect x="439.70" y="85.73" width="11.63" height="11.63" fill="#e2c94a"/>
<rect x="451.03" y="85.73" width="11.63" height="11.63" fill="#00224e"/>
<rect x="462.37" y="85.73" width="11.63" height="11.63" fill="#9a9277"/>
<rect x="405.70" y="97.07" width="11.63" height="11.63" fill="#6b6e77"/>
<rect x="417.03" y="97.07" width="11.63" height="11.63" fill="#fde737"/>
<rect x="428.37" y="97.07" width="11.63" height="11.63" fill="#e2c94a"/>
<rect x="439.70" y="97.07" width="11.63" height="11.63" fill="#c4b160"/>
<rect x="451.03" y="97.07" width="11.63" height="11.63" fill="#a69d75"/>
<rect x="462.37" y="97.07" width="11.63" height="11.63" fill="#00224e"/>
</g>
<rect x="405.70" y="40.40" width="68" height="68" fill="#fff" opacity="0.15"/>
<rect x="407.10" y="41.80" width="70.80" height="70.80" fill="#fff"/>
<g shape-rendering="crispEdges">
<rect x="408.50" y="43.20" width="11.63" height="11.63" fill="#00224e"/>
<rect x="419.83" y="43.20" width="11.63" height="11.63" fill="#5c6178"/>
<rect x="431.17" y="43.20" width="11.63" height="11.63" fill="#c8b45c"/>
<rect x="442.50" y="43.20" width="11.63" height="11.63" fill="#6b6e77"/>
<rect x="453.83" y="43.20" width="11.63" height="11.63" fill="#6b6e77"/>
<rect x="465.17" y="43.20" width="11.63" height="11.63" fill="#2f4275"/>
<rect x="408.50" y="54.53" width="11.63" height="11.63" fill="#5c6178"/>
<rect x="419.83" y="54.53" width="11.63" height="11.63" fill="#00224e"/>
<rect x="431.17" y="54.53" width="11.63" height="11.63" fill="#00224e"/>
<rect x="442.50" y="54.53" width="11.63" height="11.63" fill="#7c7b78"/>
<rect x="453.83" y="54.53" width="11.63" height="11.63" fill="#00224e"/>
<rect x="465.17" y="54.53" width="11.63" height="11.63" fill="#a69d75"/>
<rect x="408.50" y="65.87" width="11.63" height="11.63" fill="#e2c94a"/>
<rect x="419.83" y="65.87" width="11.63" height="11.63" fill="#00224e"/>
<rect x="431.17" y="65.87" width="11.63" height="11.63" fill="#00224e"/>
<rect x="442.50" y="65.87" width="11.63" height="11.63" fill="#c4b160"/>
<rect x="453.83" y="65.87" width="11.63" height="11.63" fill="#2f4275"/>
<rect x="465.17" y="65.87" width="11.63" height="11.63" fill="#5c6178"/>
<rect x="408.50" y="77.20" width="11.63" height="11.63" fill="#9a9277"/>
<rect x="419.83" y="77.20" width="11.63" height="11.63" fill="#aca06e"/>
<rect x="431.17" y="77.20" width="11.63" height="11.63" fill="#7c7b78"/>
<rect x="442.50" y="77.20" width="11.63" height="11.63" fill="#00224e"/>
<rect x="453.83" y="77.20" width="11.63" height="11.63" fill="#e2c94a"/>
<rect x="465.17" y="77.20" width="11.63" height="11.63" fill="#9a9277"/>
<rect x="408.50" y="88.53" width="11.63" height="11.63" fill="#5c6178"/>
<rect x="419.83" y="88.53" width="11.63" height="11.63" fill="#7c7b78"/>
<rect x="431.17" y="88.53" width="11.63" height="11.63" fill="#9a9277"/>
<rect x="442.50" y="88.53" width="11.63" height="11.63" fill="#5c6178"/>
<rect x="453.83" y="88.53" width="11.63" height="11.63" fill="#00224e"/>
<rect x="465.17" y="88.53" width="11.63" height="11.63" fill="#fde737"/>
<rect x="408.50" y="99.87" width="11.63" height="11.63" fill="#fde737"/>
<rect x="419.83" y="99.87" width="11.63" height="11.63" fill="#7c7b78"/>
<rect x="431.17" y="99.87" width="11.63" height="11.63" fill="#c4b160"/>
<rect x="442.50" y="99.87" width="11.63" height="11.63" fill="#5c6178"/>
<rect x="453.83" y="99.87" width="11.63" height="11.63" fill="#c4b160"/>
<rect x="465.17" y="99.87" width="11.63" height="11.63" fill="#00224e"/>
</g>
<rect x="408.50" y="43.20" width="68" height="68" fill="#fff" opacity="0.15"/>
<rect x="409.90" y="44.60" width="70.80" height="70.80" fill="#fff"/>
<g shape-rendering="crispEdges">
<rect x="411.30" y="46.00" width="11.63" height="11.63" fill="#00224e"/>
<rect x="422.63" y="46.00" width="11.63" height="11.63" fill="#c4b160"/>
<rect x="433.97" y="46.00" width="11.63" height="11.63" fill="#d6c056"/>
<rect x="445.30" y="46.00" width="11.63" height="11.63" fill="#00224e"/>
<rect x="456.63" y="46.00" width="11.63" height="11.63" fill="#a69d75"/>
<rect x="467.97" y="46.00" width="11.63" height="11.63" fill="#c8b45c"/>
<rect x="411.30" y="57.33" width="11.63" height="11.63" fill="#7c7b78"/>
<rect x="422.63" y="57.33" width="11.63" height="11.63" fill="#00224e"/>
<rect x="433.97" y="57.33" width="11.63" height="11.63" fill="#00224e"/>
<rect x="445.30" y="57.33" width="11.63" height="11.63" fill="#d6c056"/>
<rect x="456.63" y="57.33" width="11.63" height="11.63" fill="#c4b160"/>
<rect x="467.97" y="57.33" width="11.63" height="11.63" fill="#7c7b78"/>
<rect x="411.30" y="68.67" width="11.63" height="11.63" fill="#fde737"/>
<rect x="422.63" y="68.67" width="11.63" height="11.63" fill="#2f4275"/>
<rect x="433.97" y="68.67" width="11.63" height="11.63" fill="#00224e"/>
<rect x="445.30" y="68.67" width="11.63" height="11.63" fill="#fde737"/>
<rect x="456.63" y="68.67" width="11.63" height="11.63" fill="#00224e"/>
<rect x="467.97" y="68.67" width="11.63" height="11.63" fill="#fde737"/>
<rect x="411.30" y="80.00" width="11.63" height="11.63" fill="#a69d75"/>
<rect x="422.63" y="80.00" width="11.63" height="11.63" fill="#aca06e"/>
<rect x="433.97" y="80.00" width="11.63" height="11.63" fill="#2f4275"/>
<rect x="445.30" y="80.00" width="11.63" height="11.63" fill="#00224e"/>
<rect x="456.63" y="80.00" width="11.63" height="11.63" fill="#fde737"/>
<rect x="467.97" y="80.00" width="11.63" height="11.63" fill="#2f4275"/>
<rect x="411.30" y="91.33" width="11.63" height="11.63" fill="#2f4275"/>
<rect x="422.63" y="91.33" width="11.63" height="11.63" fill="#d6c056"/>
<rect x="433.97" y="91.33" width="11.63" height="11.63" fill="#2f4275"/>
<rect x="445.30" y="91.33" width="11.63" height="11.63" fill="#2f4275"/>
<rect x="456.63" y="91.33" width="11.63" height="11.63" fill="#00224e"/>
<rect x="467.97" y="91.33" width="11.63" height="11.63" fill="#5c6178"/>
<rect x="411.30" y="102.67" width="11.63" height="11.63" fill="#2f4275"/>
<rect x="422.63" y="102.67" width="11.63" height="11.63" fill="#aca06e"/>
<rect x="433.97" y="102.67" width="11.63" height="11.63" fill="#e2c94a"/>
<rect x="445.30" y="102.67" width="11.63" height="11.63" fill="#9a9277"/>
<rect x="456.63" y="102.67" width="11.63" height="11.63" fill="#fde737"/>
<rect x="467.97" y="102.67" width="11.63" height="11.63" fill="#00224e"/>
</g>
<rect x="411.30" y="46.00" width="68" height="68" fill="#fff" opacity="0.15"/>
<rect x="412.70" y="47.40" width="70.80" height="70.80" fill="#fff"/>
<g shape-rendering="crispEdges">
<rect x="414.10" y="48.80" width="11.63" height="11.63" fill="#00224e"/>
<rect x="425.43" y="48.80" width="11.63" height="11.63" fill="#2f4275"/>
<rect x="436.77" y="48.80" width="11.63" height="11.63" fill="#e2c94a"/>
<rect x="448.10" y="48.80" width="11.63" height="11.63" fill="#9a9277"/>
<rect x="459.43" y="48.80" width="11.63" height="11.63" fill="#00224e"/>
<rect x="470.77" y="48.80" width="11.63" height="11.63" fill="#e2c94a"/>
<rect x="414.10" y="60.13" width="11.63" height="11.63" fill="#2f4275"/>
<rect x="425.43" y="60.13" width="11.63" height="11.63" fill="#00224e"/>
<rect x="436.77" y="60.13" width="11.63" height="11.63" fill="#c8b45c"/>
<rect x="448.10" y="60.13" width="11.63" height="11.63" fill="#9a9277"/>
<rect x="459.43" y="60.13" width="11.63" height="11.63" fill="#fde737"/>
<rect x="470.77" y="60.13" width="11.63" height="11.63" fill="#00224e"/>
<rect x="414.10" y="71.47" width="11.63" height="11.63" fill="#2f4275"/>
<rect x="425.43" y="71.47" width="11.63" height="11.63" fill="#c8b45c"/>
<rect x="436.77" y="71.47" width="11.63" height="11.63" fill="#00224e"/>
<rect x="448.10" y="71.47" width="11.63" height="11.63" fill="#a69d75"/>
<rect x="459.43" y="71.47" width="11.63" height="11.63" fill="#fde737"/>
<rect x="470.77" y="71.47" width="11.63" height="11.63" fill="#a69d75"/>
<rect x="414.10" y="82.80" width="11.63" height="11.63" fill="#a69d75"/>
<rect x="425.43" y="82.80" width="11.63" height="11.63" fill="#aca06e"/>
<rect x="436.77" y="82.80" width="11.63" height="11.63" fill="#00224e"/>
<rect x="448.10" y="82.80" width="11.63" height="11.63" fill="#00224e"/>
<rect x="459.43" y="82.80" width="11.63" height="11.63" fill="#c4b160"/>
<rect x="470.77" y="82.80" width="11.63" height="11.63" fill="#aca06e"/>
<rect x="414.10" y="94.13" width="11.63" height="11.63" fill="#c8b45c"/>
<rect x="425.43" y="94.13" width="11.63" height="11.63" fill="#2f4275"/>
<rect x="436.77" y="94.13" width="11.63" height="11.63" fill="#e2c94a"/>
<rect x="448.10" y="94.13" width="11.63" height="11.63" fill="#d6c056"/>
<rect x="459.43" y="94.13" width="11.63" height="11.63" fill="#00224e"/>
<rect x="470.77" y="94.13" width="11.63" height="11.63" fill="#2f4275"/>
<rect x="414.10" y="105.47" width="11.63" height="11.63" fill="#c4b160"/>
<rect x="425.43" y="105.47" width="11.63" height="11.63" fill="#d6c056"/>
<rect x="436.77" y="105.47" width="11.63" height="11.63" fill="#fde737"/>
<rect x="448.10" y="105.47" width="11.63" height="11.63" fill="#aca06e"/>
<rect x="459.43" y="105.47" width="11.63" height="11.63" fill="#7c7b78"/>
<rect x="470.77" y="105.47" width="11.63" height="11.63" fill="#00224e"/>
</g>
<rect x="414.10" y="48.80" width="68" height="68" fill="#fff" opacity="0.15"/>
<rect x="415.50" y="50.20" width="70.80" height="70.80" fill="#fff"/>
<g shape-rendering="crispEdges">
<rect x="416.90" y="51.60" width="11.63" height="11.63" fill="#00224e"/>
<rect x="428.23" y="51.60" width="11.63" height="11.63" fill="#5c6178"/>
<rect x="439.57" y="51.60" width="11.63" height="11.63" fill="#9a9277"/>
<rect x="450.90" y="51.60" width="11.63" height="11.63" fill="#9a9277"/>
<rect x="462.23" y="51.60" width="11.63" height="11.63" fill="#9a9277"/>
<rect x="473.57" y="51.60" width="11.63" height="11.63" fill="#2f4275"/>
<rect x="416.90" y="62.93" width="11.63" height="11.63" fill="#e2c94a"/>
<rect x="428.23" y="62.93" width="11.63" height="11.63" fill="#00224e"/>
<rect x="439.57" y="62.93" width="11.63" height="11.63" fill="#a69d75"/>
<rect x="450.90" y="62.93" width="11.63" height="11.63" fill="#d6c056"/>
<rect x="462.23" y="62.93" width="11.63" height="11.63" fill="#9a9277"/>
<rect x="473.57" y="62.93" width="11.63" height="11.63" fill="#a69d75"/>
<rect x="416.90" y="74.27" width="11.63" height="11.63" fill="#aca06e"/>
<rect x="428.23" y="74.27" width="11.63" height="11.63" fill="#2f4275"/>
<rect x="439.57" y="74.27" width="11.63" height="11.63" fill="#00224e"/>
<rect x="450.90" y="74.27" width="11.63" height="11.63" fill="#c4b160"/>
<rect x="462.23" y="74.27" width="11.63" height="11.63" fill="#2f4275"/>
<rect x="473.57" y="74.27" width="11.63" height="11.63" fill="#aca06e"/>
<rect x="416.90" y="85.60" width="11.63" height="11.63" fill="#a69d75"/>
<rect x="428.23" y="85.60" width="11.63" height="11.63" fill="#5c6178"/>
<rect x="439.57" y="85.60" width="11.63" height="11.63" fill="#a69d75"/>
<rect x="450.90" y="85.60" width="11.63" height="11.63" fill="#00224e"/>
<rect x="462.23" y="85.60" width="11.63" height="11.63" fill="#e2c94a"/>
<rect x="473.57" y="85.60" width="11.63" height="11.63" fill="#d6c056"/>
<rect x="416.90" y="96.93" width="11.63" height="11.63" fill="#2f4275"/>
<rect x="428.23" y="96.93" width="11.63" height="11.63" fill="#c8b45c"/>
<rect x="439.57" y="96.93" width="11.63" height="11.63" fill="#c8b45c"/>
<rect x="450.90" y="96.93" width="11.63" height="11.63" fill="#e2c94a"/>
<rect x="462.23" y="96.93" width="11.63" height="11.63" fill="#00224e"/>
<rect x="473.57" y="96.93" width="11.63" height="11.63" fill="#9a9277"/>
<rect x="416.90" y="108.27" width="11.63" height="11.63" fill="#fde737"/>
<rect x="428.23" y="108.27" width="11.63" height="11.63" fill="#d6c056"/>
<rect x="439.57" y="108.27" width="11.63" height="11.63" fill="#6b6e77"/>
<rect x="450.90" y="108.27" width="11.63" height="11.63" fill="#7c7b78"/>
<rect x="462.23" y="108.27" width="11.63" height="11.63" fill="#fde737"/>
<rect x="473.57" y="108.27" width="11.63" height="11.63" fill="#00224e"/>
</g>
<rect x="416.90" y="51.60" width="68" height="68" fill="#fff" opacity="0.15"/>
<rect x="418.30" y="53.00" width="70.80" height="70.80" fill="#fff"/>
<g shape-rendering="crispEdges">
<rect x="419.70" y="54.40" width="11.63" height="11.63" fill="#00224e"/>
<rect x="431.03" y="54.40" width="11.63" height="11.63" fill="#aca06e"/>
<rect x="442.37" y="54.40" width="11.63" height="11.63" fill="#d6c056"/>
<rect x="453.70" y="54.40" width="11.63" height="11.63" fill="#c4b160"/>
<rect x="465.03" y="54.40" width="11.63" height="11.63" fill="#fde737"/>
<rect x="476.37" y="54.40" width="11.63" height="11.63" fill="#6b6e77"/>
<rect x="419.70" y="65.73" width="11.63" height="11.63" fill="#9a9277"/>
<rect x="431.03" y="65.73" width="11.63" height="11.63" fill="#00224e"/>
<rect x="442.37" y="65.73" width="11.63" height="11.63" fill="#d6c056"/>
<rect x="453.70" y="65.73" width="11.63" height="11.63" fill="#fde737"/>
<rect x="465.03" y="65.73" width="11.63" height="11.63" fill="#2f4275"/>
<rect x="476.37" y="65.73" width="11.63" height="11.63" fill="#7c7b78"/>
<rect x="419.70" y="77.07" width="11.63" height="11.63" fill="#d6c056"/>
<rect x="431.03" y="77.07" width="11.63" height="11.63" fill="#2f4275"/>
<rect x="442.37" y="77.07" width="11.63" height="11.63" fill="#00224e"/>
<rect x="453.70" y="77.07" width="11.63" height="11.63" fill="#d6c056"/>
<rect x="465.03" y="77.07" width="11.63" height="11.63" fill="#c8b45c"/>
<rect x="476.37" y="77.07" width="11.63" height="11.63" fill="#9a9277"/>
<rect x="419.70" y="88.40" width="11.63" height="11.63" fill="#6b6e77"/>
<rect x="431.03" y="88.40" width="11.63" height="11.63" fill="#6b6e77"/>
<rect x="442.37" y="88.40" width="11.63" height="11.63" fill="#d6c056"/>
<rect x="453.70" y="88.40" width="11.63" height="11.63" fill="#00224e"/>
<rect x="465.03" y="88.40" width="11.63" height="11.63" fill="#6b6e77"/>
<rect x="476.37" y="88.40" width="11.63" height="11.63" fill="#fde737"/>
<rect x="419.70" y="99.73" width="11.63" height="11.63" fill="#9a9277"/>
<rect x="431.03" y="99.73" width="11.63" height="11.63" fill="#00224e"/>
<rect x="442.37" y="99.73" width="11.63" height="11.63" fill="#2f4275"/>
<rect x="453.70" y="99.73" width="11.63" height="11.63" fill="#5c6178"/>
<rect x="465.03" y="99.73" width="11.63" height="11.63" fill="#00224e"/>
<rect x="476.37" y="99.73" width="11.63" height="11.63" fill="#6b6e77"/>
<rect x="419.70" y="111.07" width="11.63" height="11.63" fill="#fde737"/>
<rect x="431.03" y="111.07" width="11.63" height="11.63" fill="#a69d75"/>
<rect x="442.37" y="111.07" width="11.63" height="11.63" fill="#00224e"/>
<rect x="453.70" y="111.07" width="11.63" height="11.63" fill="#c8b45c"/>
<rect x="465.03" y="111.07" width="11.63" height="11.63" fill="#9a9277"/>
<rect x="476.37" y="111.07" width="11.63" height="11.63" fill="#00224e"/>
</g>
<rect x="419.70" y="54.40" width="68" height="68" fill="#fff" opacity="0.15"/>
<rect x="421.10" y="55.80" width="70.80" height="70.80" fill="#fff"/>
<g shape-rendering="crispEdges">
<rect x="422.50" y="57.20" width="11.63" height="11.63" fill="#00224e"/>
<rect x="433.83" y="57.20" width="11.63" height="11.63" fill="#2f4275"/>
<rect x="445.17" y="57.20" width="11.63" height="11.63" fill="#e2c94a"/>
<rect x="456.50" y="57.20" width="11.63" height="11.63" fill="#6b6e77"/>
<rect x="467.83" y="57.20" width="11.63" height="11.63" fill="#c4b160"/>
<rect x="479.17" y="57.20" width="11.63" height="11.63" fill="#5c6178"/>
<rect x="422.50" y="68.53" width="11.63" height="11.63" fill="#c8b45c"/>
<rect x="433.83" y="68.53" width="11.63" height="11.63" fill="#00224e"/>
<rect x="445.17" y="68.53" width="11.63" height="11.63" fill="#6b6e77"/>
<rect x="456.50" y="68.53" width="11.63" height="11.63" fill="#e2c94a"/>
<rect x="467.83" y="68.53" width="11.63" height="11.63" fill="#d6c056"/>
<rect x="479.17" y="68.53" width="11.63" height="11.63" fill="#e2c94a"/>
<rect x="422.50" y="79.87" width="11.63" height="11.63" fill="#7c7b78"/>
<rect x="433.83" y="79.87" width="11.63" height="11.63" fill="#5c6178"/>
<rect x="445.17" y="79.87" width="11.63" height="11.63" fill="#00224e"/>
<rect x="456.50" y="79.87" width="11.63" height="11.63" fill="#00224e"/>
<rect x="467.83" y="79.87" width="11.63" height="11.63" fill="#e2c94a"/>
<rect x="479.17" y="79.87" width="11.63" height="11.63" fill="#c4b160"/>
<rect x="422.50" y="91.20" width="11.63" height="11.63" fill="#5c6178"/>
<rect x="433.83" y="91.20" width="11.63" height="11.63" fill="#a69d75"/>
<rect x="445.17" y="91.20" width="11.63" height="11.63" fill="#7c7b78"/>
<rect x="456.50" y="91.20" width="11.63" height="11.63" fill="#00224e"/>
<rect x="467.83" y="91.20" width="11.63" height="11.63" fill="#fde737"/>
<rect x="479.17" y="91.20" width="11.63" height="11.63" fill="#a69d75"/>
<rect x="422.50" y="102.53" width="11.63" height="11.63" fill="#5c6178"/>
<rect x="433.83" y="102.53" width="11.63" height="11.63" fill="#00224e"/>
<rect x="445.17" y="102.53" width="11.63" height="11.63" fill="#6b6e77"/>
<rect x="456.50" y="102.53" width="11.63" height="11.63" fill="#c4b160"/>
<rect x="467.83" y="102.53" width="11.63" height="11.63" fill="#00224e"/>
<rect x="479.17" y="102.53" width="11.63" height="11.63" fill="#5c6178"/>
<rect x="422.50" y="113.87" width="11.63" height="11.63" fill="#00224e"/>
<rect x="433.83" y="113.87" width="11.63" height="11.63" fill="#c4b160"/>
<rect x="445.17" y="113.87" width="11.63" height="11.63" fill="#e2c94a"/>
<rect x="456.50" y="113.87" width="11.63" height="11.63" fill="#aca06e"/>
<rect x="467.83" y="113.87" width="11.63" height="11.63" fill="#00224e"/>
<rect x="479.17" y="113.87" width="11.63" height="11.63" fill="#00224e"/>
</g>
<rect x="422.50" y="57.20" width="68" height="68" fill="#fff" opacity="0.15"/>
<rect x="424" y="58.7" width="70.6" height="70.6" fill="#fff"/>
<g shape-rendering="crispEdges">
<rect x="425.30" y="60.00" width="11.63" height="11.63" fill="#00224e"/>
<rect x="436.63" y="60.00" width="11.63" height="11.63" fill="#c8b45c"/>
<rect x="447.97" y="60.00" width="11.63" height="11.63" fill="#a69d75"/>
<rect x="459.30" y="60.00" width="11.63" height="11.63" fill="#fde737"/>
<rect x="470.63" y="60.00" width="11.63" height="11.63" fill="#a69d75"/>
<rect x="481.97" y="60.00" width="11.63" height="11.63" fill="#e2c94a"/>
<rect x="425.30" y="71.33" width="11.63" height="11.63" fill="#c8b45c"/>
<rect x="436.63" y="71.33" width="11.63" height="11.63" fill="#00224e"/>
<rect x="447.97" y="71.33" width="11.63" height="11.63" fill="#7c7b78"/>
<rect x="459.30" y="71.33" width="11.63" height="11.63" fill="#c4b160"/>
<rect x="470.63" y="71.33" width="11.63" height="11.63" fill="#9a9277"/>
<rect x="481.97" y="71.33" width="11.63" height="11.63" fill="#b8a966"/>
<rect x="425.30" y="82.67" width="11.63" height="11.63" fill="#a69d75"/>
<rect x="436.63" y="82.67" width="11.63" height="11.63" fill="#7c7b78"/>
<rect x="447.97" y="82.67" width="11.63" height="11.63" fill="#00224e"/>
<rect x="459.30" y="82.67" width="11.63" height="11.63" fill="#b3a569"/>
<rect x="470.63" y="82.67" width="11.63" height="11.63" fill="#2f4275"/>
<rect x="481.97" y="82.67" width="11.63" height="11.63" fill="#6b6e77"/>
<rect x="425.30" y="94.00" width="11.63" height="11.63" fill="#fde737"/>
<rect x="436.63" y="94.00" width="11.63" height="11.63" fill="#c4b160"/>
<rect x="447.97" y="94.00" width="11.63" height="11.63" fill="#b3a569"/>
<rect x="459.30" y="94.00" width="11.63" height="11.63" fill="#00224e"/>
<rect x="470.63" y="94.00" width="11.63" height="11.63" fill="#d6c056"/>
<rect x="481.97" y="94.00" width="11.63" height="11.63" fill="#5c6178"/>
<rect x="425.30" y="105.33" width="11.63" height="11.63" fill="#a69d75"/>
<rect x="436.63" y="105.33" width="11.63" height="11.63" fill="#9a9277"/>
<rect x="447.97" y="105.33" width="11.63" height="11.63" fill="#2f4275"/>
<rect x="459.30" y="105.33" width="11.63" height="11.63" fill="#d6c056"/>
<rect x="470.63" y="105.33" width="11.63" height="11.63" fill="#00224e"/>
<rect x="481.97" y="105.33" width="11.63" height="11.63" fill="#aca06e"/>
<rect x="425.30" y="116.67" width="11.63" height="11.63" fill="#e2c94a"/>
<rect x="436.63" y="116.67" width="11.63" height="11.63" fill="#b8a966"/>
<rect x="447.97" y="116.67" width="11.63" height="11.63" fill="#6b6e77"/>
<rect x="459.30" y="116.67" width="11.63" height="11.63" fill="#5c6178"/>
<rect x="470.63" y="116.67" width="11.63" height="11.63" fill="#aca06e"/>
<rect x="481.97" y="116.67" width="11.63" height="11.63" fill="#00224e"/>
</g>
<text transform="translate(496.5,65.67) rotate(90)" font-size="6.6" fill="#222" text-anchor="middle">C1</text>
<text x="430.97" y="134.40" font-size="6.6" fill="#222" stroke="#222" stroke-width="0" text-anchor="middle" >C1</text>
<text transform="translate(496.5,77.00) rotate(90)" font-size="6.6" fill="#222" text-anchor="middle">C2</text>
<text x="442.30" y="134.40" font-size="6.6" fill="#222" stroke="#222" stroke-width="0" text-anchor="middle" >C2</text>
<text transform="translate(496.5,88.33) rotate(90)" font-size="6.6" fill="#222" text-anchor="middle">C3</text>
<text x="453.63" y="134.40" font-size="6.6" fill="#222" stroke="#222" stroke-width="0" text-anchor="middle" >C3</text>
<text transform="translate(496.5,99.67) rotate(90)" font-size="6.6" fill="#222" text-anchor="middle">C4</text>
<text x="464.97" y="134.40" font-size="6.6" fill="#222" stroke="#222" stroke-width="0" text-anchor="middle" >C4</text>
<text transform="translate(496.5,111.00) rotate(90)" font-size="6.6" fill="#222" text-anchor="middle">C5</text>
<text x="476.30" y="134.40" font-size="6.6" fill="#222" stroke="#222" stroke-width="0" text-anchor="middle" >C5</text>
<text transform="translate(496.5,122.33) rotate(90)" font-size="6.6" fill="#222" text-anchor="middle">C6</text>
<text x="487.63" y="134.40" font-size="6.6" fill="#222" stroke="#222" stroke-width="0" text-anchor="middle" >C6</text>
<path d="M505.2,59.9 V128.3" fill="none" stroke="#333" stroke-width="0.95" stroke-dasharray="2.6,1.4"/>
<path d="M502.3,59.9 H505.2 M502.3,128.3 H505.2" fill="none" stroke="#333" stroke-width="0.95"/>
<text x="460.50" y="150.00" font-size="11" fill="#1a1a1a" stroke="#1a1a1a" stroke-width="0.1" text-anchor="middle" >Searchlight RDM</text>
<use href="#bD" transform="translate(552.20,35.60) scale(1.4100)"/>
<path d="M593,106.5 V41.3 H601.2 V104" fill="none" stroke="#f3c3a2" stroke-width="1.3"/>
<path d="M598.2,101.4 L601.2,107.2 L604.2,101.4 L601.2,103.4Z" fill="#f3c3a2"/>
<path d="M586.4,88.5 V106.5 H593" fill="none" stroke="#f3c3a2" stroke-width="1.3"/>
<path d="M580.91,83.94 L578.80,83.49 L576.67,83.12 L574.53,82.82 L572.39,82.59 L570.24,82.43 L568.09,82.34 L565.94,82.32 L563.79,82.36 L561.64,82.46 L559.50,82.62 L557.37,82.84 L555.25,83.11 L553.15,83.44 L551.06,83.82 L549.00,84.24 L546.95,84.72 L544.93,85.24 L542.94,85.81 L540.98,86.42 L539.05,87.07 L537.16,87.75 L535.31,88.47 L533.50,89.23 L531.73,90.02 L530.00,90.83 L528.33,91.68 L526.71,92.55 L525.15,93.44 L523.64,94.36 L522.20,95.29 L524.92,99.78 L510.64,99.37 L516.88,86.52 L519.60,91.01 L521.24,90.14 L522.92,89.29 L524.66,88.47 L526.44,87.68 L528.27,86.92 L530.14,86.19 L532.05,85.50 L534.00,84.85 L535.98,84.24 L538.00,83.66 L540.04,83.13 L542.12,82.64 L544.22,82.19 L546.34,81.79 L548.48,81.44 L550.64,81.14 L552.81,80.90 L554.99,80.70 L557.18,80.57 L559.38,80.49 L561.58,80.47 L563.79,80.51 L565.99,80.62 L568.18,80.79 L570.37,81.02 L572.55,81.33 L574.71,81.70 L576.86,82.15 L578.98,82.67 L581.09,83.26Z" fill="#3a6dcc"/>
<circle cx="585.8" cy="84.6" r="4" fill="#8aa6e2" stroke="#f3c3a2" stroke-width="1.3"/>
<text x="536.60" y="61.50" font-size="10" fill="#1a1a1a" stroke="#1a1a1a" stroke-width="0.1" text-anchor="middle" >for each</text>
<text x="536.60" y="70.90" font-size="10" fill="#1a1a1a" stroke="#1a1a1a" stroke-width="0.1" text-anchor="middle" >participant</text>
<text x="619.60" y="138.50" font-size="11" fill="#1a1a1a" stroke="#1a1a1a" stroke-width="0.1" text-anchor="middle" >Searchlight across</text>
<text x="619.60" y="151.00" font-size="11" fill="#1a1a1a" stroke="#1a1a1a" stroke-width="0.1" text-anchor="middle" >the whole brain</text>
<text x="0.70" y="180.30" font-size="13" fill="#111" stroke="#111" stroke-width="0.15" text-anchor="start" >B. Searchlight results</text>
<text x="168.90" y="195.80" font-size="11" fill="#1a1a1a" stroke="#1a1a1a" stroke-width="0.1" text-anchor="middle" >STG layers</text>
<text x="412.00" y="195.80" font-size="11" fill="#1a1a1a" stroke="#1a1a1a" stroke-width="0.1" text-anchor="middle" >IFG layers</text>
<text x="26.40" y="245.90" font-size="11" fill="#1a1a1a" stroke="#1a1a1a" stroke-width="0.1" text-anchor="middle" >Superficial</text>
<text x="26.40" y="327.80" font-size="11" fill="#1a1a1a" stroke="#1a1a1a" stroke-width="0.1" text-anchor="middle" >Middle</text>
<text x="26.40" y="409.50" font-size="11" fill="#1a1a1a" stroke="#1a1a1a" stroke-width="0.1" text-anchor="middle" >Deep</text>
<defs><linearGradient id="hot" x1="0" y1="1" x2="0" y2="0"><stop offset="0" stop-color="#000"/><stop offset="0.05" stop-color="#1a0000"/><stop offset="0.185" stop-color="#7a0000"/><stop offset="0.34" stop-color="#e00000"/><stop offset="0.45" stop-color="#ff2a00"/><stop offset="0.6" stop-color="#ff9a00"/><stop offset="0.75" stop-color="#ffee10"/><stop offset="0.88" stop-color="#ffffb0"/><stop offset="1" stop-color="#fff"/></linearGradient></defs>
<rect x="58.7" y="205.1" width="230.1" height="73.9" fill="#000"/>
<use href="#bBm" transform="translate(82.50,212.90) scale(0.9200)"/>
<use href="#bB" transform="translate(172.70,213.10) scale(0.9000)"/>
<rect x="264.3" y="213.0" width="5.7" height="48.2" fill="url(#hot)"/>
<text x="271.30" y="219.50" font-size="9.2" fill="#eee" stroke="#eee" stroke-width="0" text-anchor="start" >5</text>
<text x="264.30" y="272.30" font-size="9" fill="#eee" stroke="#eee" stroke-width="0" text-anchor="start" >t = 0</text>
<text x="161.30" y="270.70" font-size="9" fill="#eee" stroke="#eee" stroke-width="0" text-anchor="start" >L</text>
<text x="176.00" y="270.70" font-size="9" fill="#eee" stroke="#eee" stroke-width="0" text-anchor="start" >R</text>
<rect x="297.1" y="205.1" width="230.1" height="73.9" fill="#000"/>
<use href="#bBm" transform="translate(320.90,212.90) scale(0.9200)"/>
<use href="#bB" transform="translate(411.10,213.10) scale(0.9000)"/>
<rect x="502.70000000000005" y="213.0" width="5.7" height="48.2" fill="url(#hot)"/>
<text x="509.70" y="219.50" font-size="9.2" fill="#eee" stroke="#eee" stroke-width="0" text-anchor="start" >6</text>
<text x="502.70" y="272.30" font-size="9" fill="#eee" stroke="#eee" stroke-width="0" text-anchor="start" >t = 0</text>
<text x="399.70" y="270.70" font-size="9" fill="#eee" stroke="#eee" stroke-width="0" text-anchor="start" >L</text>
<text x="414.40" y="270.70" font-size="9" fill="#eee" stroke="#eee" stroke-width="0" text-anchor="start" >R</text>
<rect x="58.7" y="287" width="230.1" height="73.9" fill="#000"/>
<use href="#bBm" transform="translate(82.50,294.80) scale(0.9200)"/>
<use href="#bB" transform="translate(172.70,295.00) scale(0.9000)"/>
<rect x="264.3" y="294.9" width="5.7" height="48.2" fill="url(#hot)"/>
<text x="271.30" y="301.40" font-size="9.2" fill="#eee" stroke="#eee" stroke-width="0" text-anchor="start" >6</text>
<text x="264.30" y="354.20" font-size="9" fill="#eee" stroke="#eee" stroke-width="0" text-anchor="start" >t = 0</text>
<text x="161.30" y="352.60" font-size="9" fill="#eee" stroke="#eee" stroke-width="0" text-anchor="start" >L</text>
<text x="176.00" y="352.60" font-size="9" fill="#eee" stroke="#eee" stroke-width="0" text-anchor="start" >R</text>
<rect x="297.1" y="287" width="230.1" height="73.9" fill="#000"/>
<use href="#bBm" transform="translate(320.90,294.80) scale(0.9200)"/>
<use href="#bB" transform="translate(411.10,295.00) scale(0.9000)"/>
<rect x="502.70000000000005" y="294.9" width="5.7" height="48.2" fill="url(#hot)"/>
<text x="509.70" y="301.40" font-size="9.2" fill="#eee" stroke="#eee" stroke-width="0" text-anchor="start" >6</text>
<text x="502.70" y="354.20" font-size="9" fill="#eee" stroke="#eee" stroke-width="0" text-anchor="start" >t = 0</text>
<text x="399.70" y="352.60" font-size="9" fill="#eee" stroke="#eee" stroke-width="0" text-anchor="start" >L</text>
<text x="414.40" y="352.60" font-size="9" fill="#eee" stroke="#eee" stroke-width="0" text-anchor="start" >R</text>
<rect x="58.7" y="368.7" width="230.1" height="73.9" fill="#000"/>
<use href="#bBm" transform="translate(82.50,376.50) scale(0.9200)"/>
<use href="#bB" transform="translate(172.70,376.70) scale(0.9000)"/>
<rect x="264.3" y="376.59999999999997" width="5.7" height="48.2" fill="url(#hot)"/>
<text x="271.30" y="383.10" font-size="9.2" fill="#eee" stroke="#eee" stroke-width="0" text-anchor="start" >6</text>
<text x="264.30" y="435.90" font-size="9" fill="#eee" stroke="#eee" stroke-width="0" text-anchor="start" >t = 0</text>
<text x="161.30" y="434.30" font-size="9" fill="#eee" stroke="#eee" stroke-width="0" text-anchor="start" >L</text>
<text x="176.00" y="434.30" font-size="9" fill="#eee" stroke="#eee" stroke-width="0" text-anchor="start" >R</text>
<rect x="297.1" y="368.7" width="230.1" height="73.9" fill="#000"/>
<use href="#bBm" transform="translate(320.90,376.50) scale(0.9200)"/>
<use href="#bB" transform="translate(411.10,376.70) scale(0.9000)"/>
<rect x="502.70000000000005" y="376.59999999999997" width="5.7" height="48.2" fill="url(#hot)"/>
<text x="509.70" y="383.10" font-size="9.2" fill="#eee" stroke="#eee" stroke-width="0" text-anchor="start" >5</text>
<text x="502.70" y="435.90" font-size="9" fill="#eee" stroke="#eee" stroke-width="0" text-anchor="start" >t = 0</text>
<text x="399.70" y="434.30" font-size="9" fill="#eee" stroke="#eee" stroke-width="0" text-anchor="start" >L</text>
<text x="414.40" y="434.30" font-size="9" fill="#eee" stroke="#eee" stroke-width="0" text-anchor="start" >R</text>
<filter id="bl03" x="-50%" y="-50%" width="200%" height="200%"><feGaussianBlur stdDeviation="0.35"/></filter>
<g filter="url(#bl03)" fill="none" stroke-linecap="round" stroke-linejoin="round">
<path d="M104.00,250.50 C104.67,250.17 106.67,249.25 108.00,248.50 C109.33,247.75 110.50,246.67 112.00,246.00 C113.50,245.33 115.42,244.92 117.00,244.50 C118.58,244.08 120.75,243.67 121.50,243.50" stroke="#e41a0c" stroke-width="3.0"/>
<path d="M113.50,233.50 C113.52,234.25 113.55,236.42 113.60,238.00 C113.65,239.58 113.77,242.17 113.80,243.00" stroke="#e41a0c" stroke-width="2.6"/>
<path d="M111.00,244.50 C111.83,244.42 114.50,244.20 116.00,244.00 C117.50,243.80 119.33,243.42 120.00,243.30" stroke="#ff7a0a" stroke-width="1.5"/>
<path d="M126.50,242.50 C126.58,243.33 126.92,246.67 127.00,247.50" stroke="#e41a0c" stroke-width="2.4"/>
<path d="M103.50,331.50 C104.25,331.17 106.42,330.25 108.00,329.50 C109.58,328.75 111.17,327.67 113.00,327.00 C114.83,326.33 117.17,326.08 119.00,325.50 C120.83,324.92 122.67,324.25 124.00,323.50 C125.33,322.75 126.50,321.42 127.00,321.00" stroke="#e41a0c" stroke-width="3.2"/>
<path d="M106.00,330.50 C106.67,330.20 108.50,329.37 110.00,328.70 C111.50,328.03 113.33,327.12 115.00,326.50 C116.67,325.88 118.50,325.58 120.00,325.00 C121.50,324.42 123.33,323.33 124.00,323.00" stroke="#ff7a0a" stroke-width="1.6"/>
<path d="M104.00,412.50 C104.67,412.17 106.67,411.17 108.00,410.50 C109.33,409.83 110.50,409.08 112.00,408.50 C113.50,407.92 115.33,407.58 117.00,407.00 C118.67,406.42 121.17,405.33 122.00,405.00" stroke="#e41a0c" stroke-width="2.8"/>
<path d="M110.00,409.50 C110.83,409.17 113.50,408.00 115.00,407.50 C116.50,407.00 118.33,406.67 119.00,406.50" stroke="#ff7a0a" stroke-width="1.3"/>
<path d="M124.00,409.00 C124.67,408.83 126.83,408.50 128.00,408.00 C129.17,407.50 130.50,406.33 131.00,406.00" stroke="#e41a0c" stroke-width="2.2"/>
<path d="M350.50,235.00 C350.67,235.67 351.25,237.58 351.50,239.00 C351.75,240.42 351.25,242.67 352.00,243.50 C352.75,244.33 354.50,244.17 356.00,244.00 C357.50,243.83 359.33,243.00 361.00,242.50 C362.67,242.00 364.33,241.50 366.00,241.00 C367.67,240.50 369.67,240.17 371.00,239.50 C372.33,238.83 373.50,237.42 374.00,237.00" stroke="#c80000" stroke-width="1.1"/>
<path d="M356.00,242.00 C356.67,242.58 358.58,244.58 360.00,245.50 C361.42,246.42 363.17,247.42 364.50,247.50 C365.83,247.58 367.42,246.25 368.00,246.00" stroke="#c80000" stroke-width="0.9"/>
<path d="M357.00,406.00 C357.83,406.00 360.50,406.17 362.00,406.00 C363.50,405.83 364.67,405.50 366.00,405.00 C367.33,404.50 368.67,403.58 370.00,403.00 C371.33,402.42 373.33,401.75 374.00,401.50" stroke="#e41a0c" stroke-width="2.0"/>
</g>
<g filter="url(#bl03)">
<ellipse cx="105.9" cy="250" rx="3" ry="2.3" fill="#e41a0c"/>
<ellipse cx="106" cy="250" rx="1.3" ry="1" fill="#ff7a0a"/>
<ellipse cx="113.6" cy="238.5" rx="1.8" ry="5" fill="#e41a0c"/>
<ellipse cx="113.6" cy="238.5" rx="1.1" ry="4.2" fill="#ff7a0a"/>
<ellipse cx="113.8" cy="242.5" rx="1.5" ry="1.5" fill="#ffe040"/>
<ellipse cx="116" cy="244.2" rx="6" ry="1.8" fill="#e41a0c"/>
<ellipse cx="116" cy="244" rx="4" ry="1" fill="#ff7a0a"/>
<ellipse cx="116.3" cy="247.3" rx="1.8" ry="1.3" fill="#e41a0c"/>
<ellipse cx="122.6" cy="240.2" rx="2" ry="2" fill="#e41a0c"/>
<ellipse cx="126.8" cy="245" rx="1.6" ry="2.6" fill="#ff7a0a"/>
<ellipse cx="133.3" cy="240" rx="3.2" ry="3.6" fill="#e41a0c"/>
<ellipse cx="133.3" cy="240" rx="2.4" ry="2.8" fill="#ff7a0a"/>
<ellipse cx="133.8" cy="240.3" rx="1.2" ry="1.4" fill="#ffe040"/>
<ellipse cx="136.6" cy="244.7" rx="2" ry="2.2" fill="#e41a0c"/>
<ellipse cx="132" cy="246.7" rx="1.8" ry="1.1" fill="#e41a0c"/>
<ellipse cx="131.2" cy="228.3" rx="2" ry="2" fill="#e41a0c"/>
<ellipse cx="129.5" cy="221.8" rx="2" ry="2.2" fill="#e41a0c"/>
<ellipse cx="126.5" cy="217" rx="1.6" ry="1.4" fill="#e41a0c"/>
<ellipse cx="125" cy="216" rx="1" ry="1" fill="#ff7a0a"/>
<ellipse cx="212" cy="245.5" rx="5.5" ry="3.5" fill="#e41a0c"/>
<ellipse cx="217" cy="248.5" rx="4" ry="2.2" fill="#e41a0c"/>
<ellipse cx="210.5" cy="244" rx="1.8" ry="1.3" fill="#ff7a0a"/>
<ellipse cx="220.5" cy="246" rx="2" ry="1.2" fill="#e41a0c"/>
<ellipse cx="215.2" cy="238.9" rx="1.2" ry="1" fill="#e41a0c"/>
<ellipse cx="225.5" cy="245.5" rx="2" ry="0.9" fill="#e41a0c"/>
<ellipse cx="228.6" cy="217.5" rx="0.8" ry="0.6" fill="#e41a0c"/>
<ellipse cx="214" cy="247" rx="1.0" ry="0.7" fill="#a07070"/>
<ellipse cx="218" cy="248.5" rx="0.9" ry="0.6" fill="#a07070"/>
<ellipse cx="125.5" cy="298.5" rx="1.2" ry="1.2" fill="#e41a0c"/>
<ellipse cx="128.5" cy="300.5" rx="1.5" ry="1.5" fill="#e41a0c"/>
<ellipse cx="126" cy="304" rx="2" ry="2" fill="#e41a0c"/>
<ellipse cx="126" cy="304" rx="1.1" ry="1.1" fill="#ff7a0a"/>
<ellipse cx="130" cy="306" rx="2" ry="2.5" fill="#e41a0c"/>
<ellipse cx="127.5" cy="309.5" rx="2" ry="2" fill="#e41a0c"/>
<ellipse cx="127.5" cy="309.5" rx="1.1" ry="1.1" fill="#ff7a0a"/>
<ellipse cx="131" cy="312" rx="1.5" ry="2" fill="#e41a0c"/>
<ellipse cx="128" cy="315" rx="2" ry="2" fill="#e41a0c"/>
<ellipse cx="130" cy="319" rx="2" ry="2" fill="#e41a0c"/>
<ellipse cx="130" cy="319" rx="1.2" ry="1.2" fill="#ff7a0a"/>
<ellipse cx="113.4" cy="321.6" rx="2" ry="5.5" fill="#e41a0c"/>
<ellipse cx="113.4" cy="321.6" rx="1.3" ry="4.5" fill="#ff7a0a"/>
<ellipse cx="113.6" cy="325.5" rx="1.4" ry="1.4" fill="#ffe040"/>
<ellipse cx="105.5" cy="331.5" rx="3" ry="2.5" fill="#e41a0c"/>
<ellipse cx="105.5" cy="331.5" rx="1.6" ry="1.3" fill="#ff7a0a"/>
<ellipse cx="133.3" cy="322.5" rx="4" ry="4" fill="#e41a0c"/>
<ellipse cx="133.3" cy="322.5" rx="3" ry="3" fill="#ff7a0a"/>
<ellipse cx="133.5" cy="322" rx="1.2" ry="1.2" fill="#ffe040"/>
<ellipse cx="131.6" cy="328.2" rx="2.5" ry="2" fill="#e41a0c"/>
<ellipse cx="131.6" cy="328.2" rx="1.2" ry="1" fill="#ff7a0a"/>
<ellipse cx="124.5" cy="327" rx="2.5" ry="2" fill="#e41a0c"/>
<ellipse cx="124.5" cy="326.5" rx="1.2" ry="1.5" fill="#ff7a0a"/>
<ellipse cx="211" cy="327" rx="5.5" ry="4.5" fill="#e41a0c"/>
<ellipse cx="210.5" cy="327" rx="4.2" ry="3.3" fill="#ff7a0a"/>
<ellipse cx="209.5" cy="326.5" rx="2" ry="1.5" fill="#ffe040"/>
<ellipse cx="216" cy="331" rx="2" ry="1.5" fill="#e41a0c"/>
<ellipse cx="215.2" cy="320.9" rx="1.2" ry="1" fill="#e41a0c"/>
<ellipse cx="221.5" cy="323.5" rx="1.5" ry="0.8" fill="#e41a0c"/>
<ellipse cx="226" cy="325.5" rx="1.5" ry="0.8" fill="#e41a0c"/>
<ellipse cx="126" cy="385" rx="0.8" ry="0.8" fill="#e41a0c"/>
<ellipse cx="128.8" cy="393.3" rx="2" ry="1.5" fill="#e41a0c"/>
<ellipse cx="132.9" cy="389.2" rx="1" ry="1" fill="#e41a0c"/>
<ellipse cx="113.4" cy="401.8" rx="1.8" ry="3.5" fill="#e41a0c"/>
<ellipse cx="113.4" cy="401.8" rx="1.1" ry="2.8" fill="#ff7a0a"/>
<ellipse cx="113.4" cy="402" rx="0.7" ry="1.5" fill="#ffe040"/>
<ellipse cx="105.4" cy="412.5" rx="3" ry="2.5" fill="#e41a0c"/>
<ellipse cx="105.4" cy="412.5" rx="1.8" ry="1.4" fill="#ff7a0a"/>
<ellipse cx="110" cy="409.5" rx="4" ry="1.6" fill="#e41a0c"/>
<ellipse cx="116" cy="407" rx="4" ry="1.8" fill="#e41a0c"/>
<ellipse cx="115.5" cy="407" rx="2" ry="0.9" fill="#ff7a0a"/>
<ellipse cx="121.5" cy="405" rx="2" ry="1.5" fill="#e41a0c"/>
<ellipse cx="133.6" cy="403.6" rx="3" ry="3" fill="#e41a0c"/>
<ellipse cx="133.6" cy="403.6" rx="2.2" ry="2.3" fill="#ff7a0a"/>
<ellipse cx="133.8" cy="403.3" rx="1" ry="1.2" fill="#ffe040"/>
<ellipse cx="137" cy="408.8" rx="1.6" ry="1.6" fill="#e41a0c"/>
<ellipse cx="127.4" cy="409.7" rx="2" ry="2" fill="#e41a0c"/>
<ellipse cx="127" cy="408" rx="1" ry="1.5" fill="#ff7a0a"/>
<ellipse cx="211" cy="409.5" rx="4.5" ry="3" fill="#e41a0c"/>
<ellipse cx="217" cy="412" rx="3.5" ry="2" fill="#e41a0c"/>
<ellipse cx="210" cy="409" rx="1.5" ry="1" fill="#ff7a0a"/>
<ellipse cx="208" cy="404.5" rx="1.5" ry="1" fill="#e41a0c"/>
<ellipse cx="125.7" cy="383.5" rx="1.2" ry="1" fill="#e41a0c"/>
<ellipse cx="129" cy="393.4" rx="1.5" ry="1.2" fill="#e41a0c"/>
<ellipse cx="351.5" cy="239" rx="1.3" ry="4" fill="#c80000"/>
<ellipse cx="356" cy="243.5" rx="4" ry="1.2" fill="#c80000"/>
<ellipse cx="362" cy="240.5" rx="2" ry="2" fill="#c80000"/>
<ellipse cx="368.5" cy="240" rx="3.5" ry="1.5" fill="#c80000"/>
<ellipse cx="372.5" cy="237.5" rx="1.5" ry="1.5" fill="#c80000"/>
<ellipse cx="364.5" cy="247" rx="2.5" ry="1.3" fill="#c80000"/>
<ellipse cx="447" cy="245" rx="3.5" ry="3" fill="#e41a0c"/>
<ellipse cx="451.5" cy="248.5" rx="3" ry="2" fill="#e41a0c"/>
<ellipse cx="446" cy="244" rx="1.3" ry="1" fill="#ff7a0a"/>
<ellipse cx="461" cy="245" rx="2" ry="0.8" fill="#e41a0c"/>
<ellipse cx="465" cy="246" rx="1.2" ry="0.7" fill="#e41a0c"/>
<ellipse cx="354.1" cy="329" rx="1.3" ry="0.9" fill="#c80000"/>
<ellipse cx="364.2" cy="326.6" rx="1.3" ry="0.9" fill="#c80000"/>
<ellipse cx="372.6" cy="320.6" rx="1.3" ry="0.9" fill="#c80000"/>
<ellipse cx="344" cy="330.7" rx="1.2" ry="0.8" fill="#c80000"/>
<ellipse cx="444.7" cy="325.6" rx="1.3" ry="0.9" fill="#c80000"/>
<ellipse cx="452.1" cy="320.6" rx="1.1" ry="0.9" fill="#c80000"/>
<ellipse cx="448.1" cy="329" rx="1.3" ry="0.9" fill="#c80000"/>
<ellipse cx="470" cy="329" rx="1.2" ry="0.8" fill="#c80000"/>
<ellipse cx="353.5" cy="404" rx="4" ry="5.5" fill="#e41a0c"/>
<ellipse cx="353" cy="404" rx="2.6" ry="4.2" fill="#ff7a0a"/>
<ellipse cx="352.5" cy="402" rx="0.8" ry="1.3" fill="#ffe040"/>
<ellipse cx="365" cy="407" rx="2" ry="2" fill="#e41a0c"/>
<ellipse cx="369" cy="404" rx="2" ry="1.5" fill="#e41a0c"/>
<ellipse cx="372.5" cy="402" rx="1.5" ry="1.2" fill="#e41a0c"/>
<ellipse cx="367.5" cy="415" rx="0.8" ry="0.8" fill="#e41a0c"/>
<ellipse cx="447" cy="409" rx="4.5" ry="3.5" fill="#e41a0c"/>
<ellipse cx="452" cy="411.5" rx="3" ry="2" fill="#e41a0c"/>
<ellipse cx="446" cy="408.5" rx="2.4" ry="2" fill="#ff7a0a"/>
<ellipse cx="445.5" cy="408" rx="0.9" ry="0.9" fill="#ffe040"/>
<ellipse cx="451" cy="411.5" rx="1.2" ry="0.9" fill="#ff7a0a"/>
<ellipse cx="452.1" cy="402.3" rx="1" ry="1" fill="#e41a0c"/>
<ellipse cx="468.3" cy="411" rx="1.2" ry="0.8" fill="#e41a0c"/>
<ellipse cx="458" cy="412" rx="1.5" ry="0.9" fill="#e41a0c"/>
</g>
<text x="76.40" y="230.10" font-size="9" fill="#f2f2f2" stroke="#f2f2f2" stroke-width="0" text-anchor="start" >IFGOper</text>
<text x="67.00" y="243.20" font-size="9" fill="#f2f2f2" stroke="#f2f2f2" stroke-width="0" text-anchor="start" >IFGTri</text>
<text x="148.70" y="238.30" font-size="9" fill="#f2f2f2" stroke="#f2f2f2" stroke-width="0" text-anchor="start" >SMG</text>
<text x="143.80" y="255.50" font-size="9" fill="#f2f2f2" stroke="#f2f2f2" stroke-width="0" text-anchor="start" >STG</text>
<text x="75.50" y="312.60" font-size="9" fill="#f2f2f2" stroke="#f2f2f2" stroke-width="0" text-anchor="start" >IFGOper</text>
<text x="66.40" y="326.10" font-size="9" fill="#f2f2f2" stroke="#f2f2f2" stroke-width="0" text-anchor="start" >IFGTri</text>
<text x="148.70" y="320.00" font-size="9" fill="#f2f2f2" stroke="#f2f2f2" stroke-width="0" text-anchor="start" >SMG</text>
<text x="148.20" y="336.10" font-size="9" fill="#f2f2f2" stroke="#f2f2f2" stroke-width="0" text-anchor="start" >STG</text>
<text x="75.60" y="394.90" font-size="9" fill="#f2f2f2" stroke="#f2f2f2" stroke-width="0" text-anchor="start" >IFGOper</text>
<text x="66.50" y="406.80" font-size="9" fill="#f2f2f2" stroke="#f2f2f2" stroke-width="0" text-anchor="start" >IFGTri</text>
<text x="148.80" y="403.40" font-size="9" fill="#f2f2f2" stroke="#f2f2f2" stroke-width="0" text-anchor="start" >SMG</text>
<text x="148.80" y="417.90" font-size="9" fill="#f2f2f2" stroke="#f2f2f2" stroke-width="0" text-anchor="start" >STG</text>
<text x="304.40" y="240.20" font-size="9" fill="#f2f2f2" stroke="#f2f2f2" stroke-width="0" text-anchor="start" >IFGOper</text>
<text x="386.70" y="238.00" font-size="9" fill="#f2f2f2" stroke="#f2f2f2" stroke-width="0" text-anchor="start" >SMG</text>
<text x="380.70" y="254.10" font-size="9" fill="#f2f2f2" stroke="#f2f2f2" stroke-width="0" text-anchor="start" >STG</text>
<text x="386.00" y="319.70" font-size="9" fill="#f2f2f2" stroke="#f2f2f2" stroke-width="0" text-anchor="start" >SMG</text>
<text x="304.40" y="405.50" font-size="9" fill="#f2f2f2" stroke="#f2f2f2" stroke-width="0" text-anchor="start" >IFGOper</text>
<text x="386.00" y="402.40" font-size="9" fill="#f2f2f2" stroke="#f2f2f2" stroke-width="0" text-anchor="start" >SMG</text>
<text x="380.30" y="418.20" font-size="9" fill="#f2f2f2" stroke="#f2f2f2" stroke-width="0" text-anchor="start" >STG</text>
<path d="M106.52,236.88 L109.40,243.40 L110.28,236.32Z" fill="#fff"/>
<path d="M95.06,244.22 L101.80,246.90 L97.34,241.18Z" fill="#fff"/>
<path d="M144.81,234.74 L138.00,238.10 L145.59,238.46Z" fill="#fff"/>
<path d="M140.61,249.93 L132.90,247.90 L138.79,253.27Z" fill="#fff"/>
<path d="M105.80,317.62 L110.20,324.50 L109.40,316.38Z" fill="#fff"/>
<path d="M94.76,325.44 L101.80,329.00 L97.24,322.56Z" fill="#fff"/>
<path d="M145.23,316.74 L138.60,320.00 L145.97,320.46Z" fill="#fff"/>
<path d="M145.78,330.77 L137.90,329.30 L144.22,334.23Z" fill="#fff"/>
<path d="M105.37,400.17 L110.70,405.40 L108.63,398.23Z" fill="#fff"/>
<path d="M94.75,407.93 L101.80,411.60 L97.25,405.07Z" fill="#fff"/>
<path d="M144.59,398.00 L137.20,402.50 L145.81,401.60Z" fill="#fff"/>
<path d="M147.01,412.74 L138.60,411.40 L145.59,416.26Z" fill="#fff"/>
<path d="M341.29,241.47 L347.60,244.20 L343.71,238.53Z" fill="#fff"/>
<path d="M382.71,234.47 L376.90,238.00 L383.69,238.13Z" fill="#fff"/>
<path d="M378.34,248.90 L370.80,247.30 L376.66,252.30Z" fill="#fff"/>
<path d="M383.18,316.15 L376.10,319.70 L384.02,319.85Z" fill="#fff"/>
<path d="M341.96,406.59 L348.80,408.80 L344.04,403.41Z" fill="#fff"/>
<path d="M383.23,398.74 L376.10,402.10 L383.97,402.46Z" fill="#fff"/>
<path d="M377.96,411.82 L371.10,411.30 L376.64,415.38Z" fill="#fff"/>
<text x="551.60" y="180.20" font-size="13" fill="#111" stroke="#111" stroke-width="0.15" text-anchor="start" >C. Layer comparison</text>
<path d="M580.1,203 V291.3 H684.5" fill="none" stroke="#555" stroke-width="0.9"/>
<path d="M580.1,203.9 h2" stroke="#555" stroke-width="0.8"/>
<text x="569.60" y="208.10" font-size="10" fill="#555" stroke="#555" stroke-width="0.1" text-anchor="middle" >0.6</text>
<path d="M580.1,230.7 h2" stroke="#555" stroke-width="0.8"/>
<text x="569.60" y="234.90" font-size="10" fill="#555" stroke="#555" stroke-width="0.1" text-anchor="middle" >0.4</text>
<path d="M580.1,257.5 h2" stroke="#555" stroke-width="0.8"/>
<text x="569.60" y="261.70" font-size="10" fill="#555" stroke="#555" stroke-width="0.1" text-anchor="middle" >0.2</text>
<path d="M580.1,284.3 h2" stroke="#555" stroke-width="0.8"/>
<text x="569.60" y="288.50" font-size="10" fill="#555" stroke="#555" stroke-width="0.1" text-anchor="middle" >0</text>
<text x="627.90" y="196.30" font-size="11" fill="#111" stroke="#111" stroke-width="0.1" text-anchor="middle" >STG</text>
<path d="M606,248.4 V264.2 M606,280.6 V284.2" stroke="#a9c4e4" stroke-width="1.1"/>
<path d="M603.4,248.4 h5.2 M603.4,284.2 h5.2" stroke="#7ea6d6" stroke-width="0.9"/>
<rect x="600.7" y="264.2" width="10.6" height="16.40" fill="#94b5da" stroke="#6b9bd0" stroke-width="0.9"/>
<path d="M600.7,274.3 h10.6" stroke="#4d82c2" stroke-width="1"/>
<circle cx="606" cy="233.5" r="1.45" fill="#4682c4"/>
<path d="M632,235.7 V246.4 M632,280.6 V284.2" stroke="#a9c4e4" stroke-width="1.1"/>
<path d="M629.4,235.7 h5.2 M629.4,284.2 h5.2" stroke="#7ea6d6" stroke-width="0.9"/>
<rect x="626.7" y="246.4" width="10.6" height="34.20" fill="#94b5da" stroke="#6b9bd0" stroke-width="0.9"/>
<path d="M626.7,266.4 h10.6" stroke="#4d82c2" stroke-width="1"/>
<path d="M657.7,220.8 V254.6 M657.7,282.8 V284.2" stroke="#a9c4e4" stroke-width="1.1"/>
<path d="M655.1,220.8 h5.2 M655.1,284.2 h5.2" stroke="#7ea6d6" stroke-width="0.9"/>
<rect x="652.4000000000001" y="254.6" width="10.6" height="28.20" fill="#94b5da" stroke="#6b9bd0" stroke-width="0.9"/>
<path d="M652.4000000000001,269.4 h10.6" stroke="#4d82c2" stroke-width="1"/>
<path d="M601.2,216.1 H632.8" stroke="#333" stroke-width="1.2"/>
<text x="617.60" y="218.20" font-size="15" fill="#111" stroke="#111" stroke-width="0.15" text-anchor="middle" >*</text>
<text x="606.00" y="305.00" font-size="10" fill="#555" stroke="#555" stroke-width="0.1" text-anchor="middle" >S</text>
<path d="M606,291.3 v-1.6" stroke="#777" stroke-width="0.7"/>
<text x="632.80" y="305.00" font-size="10" fill="#555" stroke="#555" stroke-width="0.1" text-anchor="middle" >M</text>
<path d="M632,291.3 v-1.6" stroke="#777" stroke-width="0.7"/>
<text x="657.80" y="305.00" font-size="10" fill="#555" stroke="#555" stroke-width="0.1" text-anchor="middle" >D</text>
<path d="M657.7,291.3 v-1.6" stroke="#777" stroke-width="0.7"/>
<text transform="translate(556,245.2) rotate(-90)" font-size="10" fill="#111" stroke="#111" stroke-width="0.12" text-anchor="middle">Similarity with IFGTri</text>
<path d="M581.2,329 V416.4 H684.5" fill="none" stroke="#555" stroke-width="0.9"/>
<path d="M581.2,330.2 h2" stroke="#555" stroke-width="0.8"/>
<text x="569.60" y="334.40" font-size="10" fill="#555" stroke="#555" stroke-width="0.1" text-anchor="middle" >0.6</text>
<path d="M581.2,356.7 h2" stroke="#555" stroke-width="0.8"/>
<text x="569.60" y="360.90" font-size="10" fill="#555" stroke="#555" stroke-width="0.1" text-anchor="middle" >0.4</text>
<path d="M581.2,383.3 h2" stroke="#555" stroke-width="0.8"/>
<text x="569.60" y="387.50" font-size="10" fill="#555" stroke="#555" stroke-width="0.1" text-anchor="middle" >0.2</text>
<path d="M581.2,409.4 h2" stroke="#555" stroke-width="0.8"/>
<text x="569.60" y="413.60" font-size="10" fill="#555" stroke="#555" stroke-width="0.1" text-anchor="middle" >0</text>
<text x="630.20" y="319.00" font-size="11" fill="#111" stroke="#111" stroke-width="0.1" text-anchor="middle" >IFG</text>
<path d="M606.6,343.9 V369.5 M606.6,394.2 V406.2" stroke="#a9c4e4" stroke-width="1.1"/>
<path d="M604.0,343.9 h5.2 M604.0,406.2 h5.2" stroke="#7ea6d6" stroke-width="0.9"/>
<rect x="601.3000000000001" y="369.5" width="10.6" height="24.70" fill="#94b5da" stroke="#6b9bd0" stroke-width="0.9"/>
<path d="M601.3000000000001,384.5 h10.6" stroke="#4d82c2" stroke-width="1"/>
<path d="M632.6,343.5 V371.7 M632.6,400.2 V408.6" stroke="#a9c4e4" stroke-width="1.1"/>
<path d="M630.0,343.5 h5.2 M630.0,408.6 h5.2" stroke="#7ea6d6" stroke-width="0.9"/>
<rect x="627.3000000000001" y="371.7" width="10.6" height="28.50" fill="#94b5da" stroke="#6b9bd0" stroke-width="0.9"/>
<path d="M627.3000000000001,388.1 h10.6" stroke="#4d82c2" stroke-width="1"/>
<path d="M658.3,345.4 V368.3 M658.3,386.4 V408.2" stroke="#a9c4e4" stroke-width="1.1"/>
<path d="M655.6999999999999,345.4 h5.2 M655.6999999999999,408.2 h5.2" stroke="#7ea6d6" stroke-width="0.9"/>
<rect x="653.0" y="368.3" width="10.6" height="18.10" fill="#94b5da" stroke="#6b9bd0" stroke-width="0.9"/>
<path d="M653.0,378 h10.6" stroke="#4d82c2" stroke-width="1"/>
<path d="M629.4,336.4 H660.9" stroke="#333" stroke-width="1.2"/>
<text x="645.70" y="337.60" font-size="13.5" fill="#111" stroke="#111" stroke-width="0.15" text-anchor="middle" >**</text>
<text x="606.00" y="429.60" font-size="10" fill="#555" stroke="#555" stroke-width="0.1" text-anchor="middle" >S</text>
<path d="M606.6,416.4 v-1.6" stroke="#777" stroke-width="0.7"/>
<text x="632.80" y="429.60" font-size="10" fill="#555" stroke="#555" stroke-width="0.1" text-anchor="middle" >M</text>
<path d="M632.6,416.4 v-1.6" stroke="#777" stroke-width="0.7"/>
<text x="657.80" y="429.60" font-size="10" fill="#555" stroke="#555" stroke-width="0.1" text-anchor="middle" >D</text>
<path d="M658.3,416.4 v-1.6" stroke="#777" stroke-width="0.7"/>
<text transform="translate(556,369.3) rotate(-90)" font-size="10" fill="#111" stroke="#111" stroke-width="0.12" text-anchor="middle">Similarity with SMG</text>
<text x="632.60" y="442.50" font-size="11" fill="#111" stroke="#111" stroke-width="0.1" text-anchor="middle" >Layer index</text>
<text x="1.00" y="467.70" font-size="13" fill="#111" stroke="#111" stroke-width="0.15" text-anchor="start" >D. Correlation between layer and whole-brain activations</text>
<text x="29.20" y="508.80" font-size="11" fill="#111" stroke="#111" stroke-width="0.1" text-anchor="middle" >STG</text>
<text x="29.20" y="519.30" font-size="11" fill="#111" stroke="#111" stroke-width="0.1" text-anchor="middle" >(superficial)</text>
<text x="29.20" y="606.60" font-size="11" fill="#111" stroke="#111" stroke-width="0.1" text-anchor="middle" >STG</text>
<text x="29.20" y="617.60" font-size="11" fill="#111" stroke="#111" stroke-width="0.1" text-anchor="middle" >(middle)</text>
<rect x="58.6" y="476.20" width="32.2" height="12.70" fill="#262626"/>
<text x="74.70" y="485.37" font-size="7" fill="#f0f0f0" stroke="#f0f0f0" stroke-width="0" text-anchor="middle" >CSF</text>
<rect x="58.6" y="488.90" width="32.2" height="16.20" fill="#ffe699"/>
<text x="74.70" y="499.88" font-size="8" fill="#1a1a1a" stroke="#1a1a1a" stroke-width="0" text-anchor="middle" >S</text>
<rect x="58.6" y="505.10" width="32.2" height="15.10" fill="#ffc000"/>
<text x="74.70" y="515.83" font-size="8" fill="#1a1a1a" stroke="#1a1a1a" stroke-width="0" text-anchor="middle" >M</text>
<rect x="58.6" y="520.20" width="32.2" height="16.60" fill="#ed7d31"/>
<text x="74.70" y="531.88" font-size="8" fill="#1a1a1a" stroke="#1a1a1a" stroke-width="0" text-anchor="middle" >D</text>
<rect x="58.6" y="536.80" width="32.2" height="12.30" fill="#d9d9d9"/>
<text x="74.70" y="546.27" font-size="7" fill="#1a1a1a" stroke="#1a1a1a" stroke-width="0" text-anchor="middle" >WM</text>
<rect x="58.6" y="476.2" width="32.2" height="72.90" fill="none" stroke="#3a3a3a" stroke-width="1"/>
<rect x="371.1" y="476.30" width="31.7" height="12.70" fill="#262626"/>
<text x="386.95" y="485.47" font-size="7" fill="#f0f0f0" stroke="#f0f0f0" stroke-width="0" text-anchor="middle" >CSF</text>
<rect x="371.1" y="489.00" width="31.7" height="16.20" fill="#ffe699"/>
<text x="386.95" y="499.98" font-size="8" fill="#1a1a1a" stroke="#1a1a1a" stroke-width="0" text-anchor="middle" >S</text>
<rect x="371.1" y="505.20" width="31.7" height="15.10" fill="#ffc000"/>
<text x="386.95" y="515.93" font-size="8" fill="#1a1a1a" stroke="#1a1a1a" stroke-width="0" text-anchor="middle" >M</text>
<rect x="371.1" y="520.30" width="31.7" height="16.60" fill="#ed7d31"/>
<text x="386.95" y="531.98" font-size="8" fill="#1a1a1a" stroke="#1a1a1a" stroke-width="0" text-anchor="middle" >D</text>
<rect x="371.1" y="536.90" width="31.7" height="12.50" fill="#d9d9d9"/>
<text x="386.95" y="546.47" font-size="7" fill="#1a1a1a" stroke="#1a1a1a" stroke-width="0" text-anchor="middle" >WM</text>
<rect x="371.1" y="476.3" width="31.7" height="73.10" fill="none" stroke="#3a3a3a" stroke-width="1"/>
<rect x="58.8" y="574.10" width="31.9" height="12.80" fill="#262626"/>
<text x="74.75" y="583.32" font-size="7" fill="#f0f0f0" stroke="#f0f0f0" stroke-width="0" text-anchor="middle" >CSF</text>
<rect x="58.8" y="586.90" width="31.9" height="16.80" fill="#ffe699"/>
<text x="74.75" y="598.18" font-size="8" fill="#1a1a1a" stroke="#1a1a1a" stroke-width="0" text-anchor="middle" >S</text>
<rect x="58.8" y="603.70" width="31.9" height="16.10" fill="#ffc000"/>
<text x="74.75" y="614.93" font-size="8" fill="#1a1a1a" stroke="#1a1a1a" stroke-width="0" text-anchor="middle" >M</text>
<rect x="58.8" y="619.80" width="31.9" height="15.80" fill="#ed7d31"/>
<text x="74.75" y="631.08" font-size="8" fill="#1a1a1a" stroke="#1a1a1a" stroke-width="0" text-anchor="middle" >D</text>
<rect x="58.8" y="635.60" width="31.9" height="12.70" fill="#d9d9d9"/>
<text x="74.75" y="645.27" font-size="7" fill="#1a1a1a" stroke="#1a1a1a" stroke-width="0" text-anchor="middle" >WM</text>
<rect x="58.8" y="574.1" width="31.9" height="74.20" fill="none" stroke="#3a3a3a" stroke-width="1"/>
<rect x="371.1" y="574.10" width="31.7" height="12.80" fill="#262626"/>
<text x="386.95" y="583.32" font-size="7" fill="#f0f0f0" stroke="#f0f0f0" stroke-width="0" text-anchor="middle" >CSF</text>
<rect x="371.1" y="586.90" width="31.7" height="16.80" fill="#ffe699"/>
<text x="386.95" y="598.18" font-size="8" fill="#1a1a1a" stroke="#1a1a1a" stroke-width="0" text-anchor="middle" >S</text>
<rect x="371.1" y="603.70" width="31.7" height="16.10" fill="#ffc000"/>
<text x="386.95" y="614.93" font-size="8" fill="#1a1a1a" stroke="#1a1a1a" stroke-width="0" text-anchor="middle" >M</text>
<rect x="371.1" y="619.80" width="31.7" height="15.80" fill="#ed7d31"/>
<text x="386.95" y="631.08" font-size="8" fill="#1a1a1a" stroke="#1a1a1a" stroke-width="0" text-anchor="middle" >D</text>
<rect x="371.1" y="635.60" width="31.7" height="12.50" fill="#d9d9d9"/>
<text x="386.95" y="645.17" font-size="7" fill="#1a1a1a" stroke="#1a1a1a" stroke-width="0" text-anchor="middle" >WM</text>
<rect x="371.1" y="574.1" width="31.7" height="74.00" fill="none" stroke="#3a3a3a" stroke-width="1"/>
<use href="#bD" transform="translate(110.30,480.80) scale(0.9900)"/>
<use href="#bD" transform="translate(422.50,481.00) scale(0.9900)"/>
<use href="#bD" transform="translate(111.00,579.50) scale(0.9900)"/>
<use href="#bD" transform="translate(422.50,579.80) scale(0.9900)"/>
<path d="M90.89,497.18 L91.93,496.19 L93.12,495.49 L94.37,494.87 L95.65,494.32 L96.96,493.83 L98.29,493.41 L99.65,493.03 L101.02,492.72 L102.41,492.45 L103.81,492.24 L105.22,492.08 L106.63,491.98 L108.04,491.92 L109.46,491.92 L110.88,491.97 L112.29,492.06 L113.69,492.21 L115.08,492.41 L116.47,492.66 L117.84,492.96 L119.19,493.31 L120.52,493.72 L121.84,494.17 L123.13,494.67 L124.40,495.23 L125.64,495.83 L126.84,496.49 L128.02,497.20 L129.16,497.97 L130.26,498.79 L133.30,495.13 L135.80,506.97 L123.70,506.67 L126.74,503.01 L125.90,502.29 L125.01,501.61 L124.09,500.95 L123.12,500.33 L122.12,499.75 L121.08,499.20 L120.00,498.69 L118.90,498.21 L117.77,497.78 L116.61,497.38 L115.43,497.02 L114.22,496.70 L113.00,496.42 L111.76,496.18 L110.50,495.98 L109.23,495.83 L107.95,495.71 L106.67,495.64 L105.37,495.61 L104.08,495.62 L102.78,495.67 L101.48,495.76 L100.19,495.90 L98.90,496.07 L97.61,496.29 L96.33,496.54 L95.05,496.83 L93.78,497.15 L92.50,497.48 L91.11,497.62Z" fill="#3396dc"/>
<ellipse cx="147.4" cy="510" rx="13.3" ry="6.85" fill="#3a93db"/>
<text x="147.40" y="512.60" font-size="7.3" fill="#fff" stroke="#fff" stroke-width="0" text-anchor="middle" >SMG</text>
<path d="M404.71,496.26 L406.10,495.15 L407.69,494.47 L409.38,493.90 L411.13,493.42 L412.95,493.03 L414.82,492.71 L416.74,492.46 L418.71,492.29 L420.72,492.19 L422.77,492.15 L424.85,492.18 L426.96,492.28 L429.10,492.45 L431.26,492.68 L433.44,492.98 L435.63,493.34 L437.84,493.76 L440.06,494.25 L442.28,494.81 L444.50,495.43 L446.72,496.11 L448.94,496.86 L451.15,497.67 L453.34,498.54 L455.53,499.48 L457.69,500.47 L459.83,501.54 L461.95,502.66 L464.04,503.85 L466.10,505.11 L469.06,500.59 L473.60,513.72 L459.74,514.81 L462.70,510.29 L460.84,509.06 L458.95,507.89 L457.02,506.77 L455.07,505.70 L453.08,504.68 L451.08,503.72 L449.06,502.82 L447.02,501.97 L444.97,501.17 L442.91,500.43 L440.84,499.75 L438.78,499.12 L436.72,498.55 L434.66,498.03 L432.61,497.57 L430.58,497.17 L428.56,496.83 L426.55,496.54 L424.58,496.30 L422.62,496.12 L420.70,496.00 L418.80,495.93 L416.95,495.92 L415.12,495.96 L413.34,496.05 L411.60,496.19 L409.90,496.37 L408.24,496.58 L406.61,496.81 L404.89,496.74Z" fill="#3396dc"/>
<ellipse cx="485.7" cy="515.5" rx="13.1" ry="6.6" fill="#3a93db"/>
<text x="485.70" y="518.10" font-size="7.3" fill="#fff" stroke="#fff" stroke-width="0" text-anchor="middle" >Oper</text>
<path d="M92.32,612.58 L93.92,612.70 L95.37,613.16 L96.85,613.63 L98.39,614.09 L99.99,614.52 L101.64,614.93 L103.35,615.30 L105.11,615.65 L106.92,615.96 L108.78,616.23 L110.67,616.47 L112.61,616.68 L114.59,616.85 L116.59,616.98 L118.63,617.07 L120.69,617.13 L122.78,617.14 L124.88,617.12 L126.99,617.06 L129.12,616.96 L131.25,616.82 L133.39,616.64 L135.53,616.42 L137.66,616.16 L139.78,615.85 L141.89,615.51 L143.99,615.13 L146.07,614.70 L148.12,614.24 L150.15,613.73 L148.89,608.63 L160.22,614.09 L152.71,624.17 L151.45,619.07 L149.29,619.54 L147.11,619.96 L144.91,620.34 L142.70,620.67 L140.47,620.96 L138.24,621.20 L136.00,621.39 L133.76,621.54 L131.52,621.65 L129.29,621.71 L127.08,621.72 L124.87,621.70 L122.68,621.63 L120.51,621.51 L118.37,621.35 L116.25,621.15 L114.17,620.90 L112.12,620.61 L110.11,620.28 L108.14,619.90 L106.22,619.48 L104.35,619.01 L102.54,618.49 L100.78,617.93 L99.09,617.32 L97.47,616.66 L95.93,615.94 L94.47,615.16 L93.12,614.30 L92.08,613.02Z" fill="#3396dc"/>
<ellipse cx="173.6" cy="614.2" rx="13.4" ry="7" fill="#3a93db"/>
<text x="173.60" y="616.80" font-size="7.3" fill="#fff" stroke="#fff" stroke-width="0" text-anchor="middle" >Oper</text>
<path d="M403.79,611.28 L405.66,609.65 L407.82,608.52 L410.05,607.54 L412.36,606.68 L414.71,605.93 L417.11,605.28 L419.55,604.73 L422.02,604.28 L424.51,603.90 L427.02,603.61 L429.55,603.40 L432.08,603.27 L434.61,603.20 L437.14,603.21 L439.66,603.27 L442.17,603.40 L444.66,603.59 L447.14,603.83 L449.58,604.12 L451.99,604.46 L454.36,604.85 L456.70,605.27 L458.98,605.74 L461.22,606.24 L463.40,606.77 L465.52,607.33 L467.58,607.92 L469.57,608.53 L471.49,609.16 L473.33,609.81 L475.65,603.85 L482.73,616.80 L468.75,621.55 L471.07,615.59 L469.39,614.91 L467.62,614.24 L465.77,613.59 L463.85,612.96 L461.87,612.34 L459.81,611.75 L457.71,611.19 L455.54,610.66 L453.34,610.16 L451.08,609.69 L448.80,609.27 L446.47,608.89 L444.13,608.55 L441.75,608.26 L439.36,608.03 L436.96,607.84 L434.55,607.71 L432.13,607.65 L429.71,607.64 L427.30,607.70 L424.90,607.82 L422.51,608.01 L420.14,608.28 L417.79,608.62 L415.47,609.03 L413.17,609.51 L410.90,610.07 L408.65,610.69 L406.41,611.36 L404.01,611.72Z" fill="#3396dc"/>
<ellipse cx="494.3" cy="620.5" rx="13.4" ry="6.2" fill="#3a93db"/>
<text x="494.30" y="623.10" font-size="7.3" fill="#fff" stroke="#fff" stroke-width="0" text-anchor="middle" >Tri</text>
<path d="M247.90,509.60 L252.26,509.45 L256.62,509.30 L260.99,509.15 L265.35,508.98 L269.71,508.81 L274.07,508.62 L278.44,508.40 L282.80,508.15 L287.16,507.83 L291.53,507.41 L295.89,506.80 L300.25,505.90 L304.61,504.64 L308.98,503.08 L313.34,501.33 L317.70,499.48 L322.06,497.57 L326.43,495.62 L330.79,493.64 L335.15,491.65 L339.51,489.65 L343.88,487.64 L348.24,485.62 L352.60,483.60 L352.60,507.20 L348.24,507.35 L343.88,507.50 L339.51,507.65 L335.15,507.82 L330.79,507.99 L326.43,508.18 L322.06,508.40 L317.70,508.65 L313.34,508.97 L308.98,509.39 L304.61,510.00 L300.25,510.90 L295.89,512.16 L291.53,513.72 L287.16,515.47 L282.80,517.32 L278.44,519.23 L274.07,521.18 L269.71,523.16 L265.35,525.15 L260.99,527.15 L256.62,529.16 L252.26,531.18 L247.90,533.20Z" fill="#c8d7eb"/>
<circle cx="277.92" cy="486.06" r="1.35" fill="#4a8bcb"/>
<circle cx="291.25" cy="488.95" r="1.35" fill="#4a8bcb"/>
<circle cx="296.07" cy="494.89" r="1.35" fill="#4a8bcb"/>
<circle cx="297.19" cy="495.69" r="1.35" fill="#4a8bcb"/>
<circle cx="295.10" cy="498.91" r="1.35" fill="#4a8bcb"/>
<circle cx="306.02" cy="494.09" r="1.35" fill="#4a8bcb"/>
<circle cx="308.92" cy="493.29" r="1.35" fill="#4a8bcb"/>
<circle cx="303.13" cy="497.30" r="1.35" fill="#4a8bcb"/>
<circle cx="311.16" cy="498.59" r="1.35" fill="#4a8bcb"/>
<circle cx="308.43" cy="500.19" r="1.35" fill="#4a8bcb"/>
<circle cx="305.70" cy="501.80" r="1.35" fill="#4a8bcb"/>
<circle cx="321.76" cy="493.29" r="1.35" fill="#4a8bcb"/>
<circle cx="320.48" cy="500.51" r="1.35" fill="#4a8bcb"/>
<circle cx="323.69" cy="499.71" r="1.35" fill="#4a8bcb"/>
<circle cx="293.18" cy="503.40" r="1.35" fill="#4a8bcb"/>
<circle cx="296.71" cy="503.40" r="1.35" fill="#4a8bcb"/>
<circle cx="299.28" cy="505.01" r="1.35" fill="#4a8bcb"/>
<circle cx="309.56" cy="503.72" r="1.35" fill="#4a8bcb"/>
<circle cx="276.48" cy="509.34" r="1.35" fill="#4a8bcb"/>
<circle cx="289.16" cy="509.02" r="1.35" fill="#4a8bcb"/>
<circle cx="293.18" cy="507.74" r="1.35" fill="#4a8bcb"/>
<circle cx="295.59" cy="508.22" r="1.35" fill="#4a8bcb"/>
<circle cx="296.07" cy="509.34" r="1.35" fill="#4a8bcb"/>
<circle cx="298.80" cy="509.34" r="1.35" fill="#4a8bcb"/>
<circle cx="302.49" cy="508.54" r="1.35" fill="#4a8bcb"/>
<circle cx="305.38" cy="508.22" r="1.35" fill="#4a8bcb"/>
<circle cx="306.02" cy="509.34" r="1.35" fill="#4a8bcb"/>
<circle cx="308.92" cy="508.22" r="1.35" fill="#4a8bcb"/>
<circle cx="312.45" cy="508.22" r="1.35" fill="#4a8bcb"/>
<circle cx="316.14" cy="510.63" r="1.35" fill="#4a8bcb"/>
<circle cx="310.84" cy="510.95" r="1.35" fill="#4a8bcb"/>
<circle cx="302.01" cy="511.43" r="1.35" fill="#4a8bcb"/>
<circle cx="300.40" cy="513.04" r="1.35" fill="#4a8bcb"/>
<circle cx="295.59" cy="512.07" r="1.35" fill="#4a8bcb"/>
<circle cx="304.90" cy="513.84" r="1.35" fill="#4a8bcb"/>
<circle cx="308.43" cy="512.56" r="1.35" fill="#4a8bcb"/>
<circle cx="310.84" cy="513.68" r="1.35" fill="#4a8bcb"/>
<circle cx="314.86" cy="514.16" r="1.35" fill="#4a8bcb"/>
<circle cx="281.61" cy="516.25" r="1.35" fill="#4a8bcb"/>
<circle cx="284.83" cy="517.86" r="1.35" fill="#4a8bcb"/>
<circle cx="288.68" cy="516.89" r="1.35" fill="#4a8bcb"/>
<circle cx="292.37" cy="517.86" r="1.35" fill="#4a8bcb"/>
<circle cx="295.10" cy="514.97" r="1.35" fill="#4a8bcb"/>
<circle cx="298.80" cy="516.89" r="1.35" fill="#4a8bcb"/>
<circle cx="294.46" cy="519.78" r="1.35" fill="#4a8bcb"/>
<circle cx="297.19" cy="519.78" r="1.35" fill="#4a8bcb"/>
<circle cx="303.62" cy="519.46" r="1.35" fill="#4a8bcb"/>
<circle cx="305.22" cy="519.46" r="1.35" fill="#4a8bcb"/>
<circle cx="286.43" cy="527.49" r="1.35" fill="#4a8bcb"/>
<circle cx="306.83" cy="527.49" r="1.35" fill="#4a8bcb"/>
<circle cx="293.50" cy="534.56" r="1.35" fill="#4a8bcb"/>
<circle cx="253.83" cy="538.73" r="1.35" fill="#4a8bcb"/>
<circle cx="337.82" cy="508.54" r="1.35" fill="#4a8bcb"/>
<path d="M247.9,521.4 L352.6,495.4" stroke="#3f7fc2" stroke-width="1.5"/>
<path d="M247.9,475.7 V541 H352.6" fill="none" stroke="#555" stroke-width="0.9"/>
<path d="M247.9,475.70 h2" stroke="#555" stroke-width="0.8"/>
<path d="M247.9,508.35 h2" stroke="#555" stroke-width="0.8"/>
<path d="M247.9,541.00 h2" stroke="#555" stroke-width="0.8"/>
<path d="M247.90,541 v-2" stroke="#555" stroke-width="0.8"/>
<text x="247.90" y="552.40" font-size="9.3" fill="#222" stroke="#222" stroke-width="0" text-anchor="middle" >-4</text>
<path d="M274.07,541 v-2" stroke="#555" stroke-width="0.8"/>
<text x="274.07" y="552.40" font-size="9.3" fill="#222" stroke="#222" stroke-width="0" text-anchor="middle" >-2</text>
<path d="M300.25,541 v-2" stroke="#555" stroke-width="0.8"/>
<text x="300.25" y="552.40" font-size="9.3" fill="#222" stroke="#222" stroke-width="0" text-anchor="middle" >0</text>
<path d="M326.43,541 v-2" stroke="#555" stroke-width="0.8"/>
<text x="326.43" y="552.40" font-size="9.3" fill="#222" stroke="#222" stroke-width="0" text-anchor="middle" >2</text>
<path d="M352.60,541 v-2" stroke="#555" stroke-width="0.8"/>
<text x="352.60" y="552.40" font-size="9.3" fill="#222" stroke="#222" stroke-width="0" text-anchor="middle" >4</text>
<text x="240.40" y="478.40" font-size="9.5" fill="#222" stroke="#222" stroke-width="0" text-anchor="middle" >3</text>
<text x="240.40" y="511.05" font-size="9.5" fill="#222" stroke="#222" stroke-width="0" text-anchor="middle" >0</text>
<text x="240.30" y="543.70" font-size="9.5" fill="#222" stroke="#222" stroke-width="0" text-anchor="middle" >-3</text>
<text transform="translate(222.60,512.65) rotate(-90) scale(1,0.88)" font-size="8.2" fill="#111" text-anchor="middle">whole-brain</text>
<text transform="translate(233.30,511.65) rotate(-90) scale(1,0.88)" font-size="8.2" fill="#111" text-anchor="middle">activation (arb. units)</text>
<text x="300.80" y="562.10" font-size="8.3" fill="#111" stroke="#111" stroke-width="0" text-anchor="middle" >layer activation (arb. units)</text>
<text x="321.00" y="526.50" font-size="9.6" fill="#111" stroke="#111" stroke-width="0" text-anchor="start" >r = 0.30*</text>
<text x="321.00" y="535.80" font-size="9.6" fill="#111" stroke="#111" stroke-width="0" text-anchor="start" ><tspan font-style="italic">p</tspan> = 0.029</text>
<path d="M559.70,512.10 L564.10,511.70 L568.49,511.29 L572.89,510.88 L577.28,510.46 L581.68,510.03 L586.08,509.58 L590.47,509.11 L594.87,508.60 L599.26,508.02 L603.66,507.35 L608.05,506.49 L612.45,505.35 L616.85,503.88 L621.24,502.13 L625.64,500.20 L630.03,498.16 L634.43,496.06 L638.83,493.93 L643.22,491.77 L647.62,489.59 L652.01,487.40 L656.41,485.21 L660.80,483.01 L665.20,480.80 L665.20,503.60 L660.80,504.00 L656.41,504.41 L652.01,504.82 L647.62,505.24 L643.22,505.67 L638.83,506.12 L634.43,506.59 L630.03,507.10 L625.64,507.68 L621.24,508.35 L616.85,509.21 L612.45,510.35 L608.05,511.82 L603.66,513.57 L599.26,515.50 L594.87,517.54 L590.47,519.64 L586.08,521.77 L581.68,523.93 L577.28,526.11 L572.89,528.30 L568.49,530.49 L564.10,532.69 L559.70,534.90Z" fill="#c8d7eb"/>
<circle cx="608.63" cy="487.88" r="1.35" fill="#4a8bcb"/>
<circle cx="607.19" cy="491.01" r="1.35" fill="#4a8bcb"/>
<circle cx="603.09" cy="492.70" r="1.35" fill="#4a8bcb"/>
<circle cx="619.95" cy="491.97" r="1.35" fill="#4a8bcb"/>
<circle cx="620.67" cy="495.11" r="1.35" fill="#4a8bcb"/>
<circle cx="623.08" cy="496.31" r="1.35" fill="#4a8bcb"/>
<circle cx="635.13" cy="490.29" r="1.35" fill="#4a8bcb"/>
<circle cx="632.72" cy="493.90" r="1.35" fill="#4a8bcb"/>
<circle cx="589.36" cy="495.11" r="1.35" fill="#4a8bcb"/>
<circle cx="588.16" cy="499.92" r="1.35" fill="#4a8bcb"/>
<circle cx="605.50" cy="501.13" r="1.35" fill="#4a8bcb"/>
<circle cx="607.19" cy="502.33" r="1.35" fill="#4a8bcb"/>
<circle cx="619.23" cy="500.65" r="1.35" fill="#4a8bcb"/>
<circle cx="617.54" cy="503.54" r="1.35" fill="#4a8bcb"/>
<circle cx="598.28" cy="505.46" r="1.35" fill="#4a8bcb"/>
<circle cx="601.17" cy="505.94" r="1.35" fill="#4a8bcb"/>
<circle cx="609.11" cy="504.74" r="1.35" fill="#4a8bcb"/>
<circle cx="611.52" cy="506.43" r="1.35" fill="#4a8bcb"/>
<circle cx="615.86" cy="506.43" r="1.35" fill="#4a8bcb"/>
<circle cx="618.75" cy="504.74" r="1.35" fill="#4a8bcb"/>
<circle cx="627.18" cy="503.05" r="1.35" fill="#4a8bcb"/>
<circle cx="628.38" cy="506.43" r="1.35" fill="#4a8bcb"/>
<circle cx="632.72" cy="509.08" r="1.35" fill="#4a8bcb"/>
<circle cx="623.08" cy="509.08" r="1.35" fill="#4a8bcb"/>
<circle cx="614.41" cy="509.08" r="1.35" fill="#4a8bcb"/>
<circle cx="606.71" cy="508.35" r="1.35" fill="#4a8bcb"/>
<circle cx="604.30" cy="509.56" r="1.35" fill="#4a8bcb"/>
<circle cx="607.91" cy="510.76" r="1.35" fill="#4a8bcb"/>
<circle cx="610.32" cy="509.56" r="1.35" fill="#4a8bcb"/>
<circle cx="596.59" cy="512.69" r="1.35" fill="#4a8bcb"/>
<circle cx="595.14" cy="514.37" r="1.35" fill="#4a8bcb"/>
<circle cx="600.68" cy="515.58" r="1.35" fill="#4a8bcb"/>
<circle cx="611.52" cy="515.58" r="1.35" fill="#4a8bcb"/>
<circle cx="609.84" cy="516.06" r="1.35" fill="#4a8bcb"/>
<circle cx="616.34" cy="514.37" r="1.35" fill="#4a8bcb"/>
<circle cx="618.75" cy="515.58" r="1.35" fill="#4a8bcb"/>
<circle cx="625.25" cy="514.37" r="1.35" fill="#4a8bcb"/>
<circle cx="623.56" cy="515.58" r="1.35" fill="#4a8bcb"/>
<circle cx="605.50" cy="518.47" r="1.35" fill="#4a8bcb"/>
<circle cx="604.30" cy="522.32" r="1.35" fill="#4a8bcb"/>
<circle cx="603.09" cy="522.32" r="1.35" fill="#4a8bcb"/>
<circle cx="617.54" cy="525.69" r="1.35" fill="#4a8bcb"/>
<circle cx="618.27" cy="527.14" r="1.35" fill="#4a8bcb"/>
<circle cx="592.74" cy="530.51" r="1.35" fill="#4a8bcb"/>
<circle cx="607.19" cy="528.82" r="1.35" fill="#4a8bcb"/>
<circle cx="565.76" cy="537.74" r="1.35" fill="#4a8bcb"/>
<circle cx="650.06" cy="495.11" r="1.35" fill="#4a8bcb"/>
<path d="M559.7,523.5 L665.2,492.2" stroke="#3f7fc2" stroke-width="1.5"/>
<path d="M559.7,475.8 V541.6 H665.2" fill="none" stroke="#555" stroke-width="0.9"/>
<path d="M559.7,475.80 h2" stroke="#555" stroke-width="0.8"/>
<path d="M559.7,508.70 h2" stroke="#555" stroke-width="0.8"/>
<path d="M559.7,541.60 h2" stroke="#555" stroke-width="0.8"/>
<path d="M559.70,541.6 v-2" stroke="#555" stroke-width="0.8"/>
<text x="559.70" y="553.00" font-size="9.3" fill="#222" stroke="#222" stroke-width="0" text-anchor="middle" >-4</text>
<path d="M586.08,541.6 v-2" stroke="#555" stroke-width="0.8"/>
<text x="586.08" y="553.00" font-size="9.3" fill="#222" stroke="#222" stroke-width="0" text-anchor="middle" >-2</text>
<path d="M612.45,541.6 v-2" stroke="#555" stroke-width="0.8"/>
<text x="612.45" y="553.00" font-size="9.3" fill="#222" stroke="#222" stroke-width="0" text-anchor="middle" >0</text>
<path d="M638.83,541.6 v-2" stroke="#555" stroke-width="0.8"/>
<text x="638.83" y="553.00" font-size="9.3" fill="#222" stroke="#222" stroke-width="0" text-anchor="middle" >2</text>
<path d="M665.20,541.6 v-2" stroke="#555" stroke-width="0.8"/>
<text x="665.20" y="553.00" font-size="9.3" fill="#222" stroke="#222" stroke-width="0" text-anchor="middle" >4</text>
<text x="552.20" y="478.50" font-size="9.5" fill="#222" stroke="#222" stroke-width="0" text-anchor="middle" >3</text>
<text x="552.20" y="511.40" font-size="9.5" fill="#222" stroke="#222" stroke-width="0" text-anchor="middle" >0</text>
<text x="552.10" y="544.30" font-size="9.5" fill="#222" stroke="#222" stroke-width="0" text-anchor="middle" >-3</text>
<text transform="translate(535.70,513.00) rotate(-90) scale(1,0.88)" font-size="8.2" fill="#111" text-anchor="middle">whole-brain</text>
<text transform="translate(546.40,512.00) rotate(-90) scale(1,0.88)" font-size="8.2" fill="#111" text-anchor="middle">activation (arb. units)</text>
<text x="614.70" y="562.70" font-size="8.3" fill="#111" stroke="#111" stroke-width="0" text-anchor="middle" >layer activation (arb. units)</text>
<text x="640.40" y="525.20" font-size="9.6" fill="#111" stroke="#111" stroke-width="0" text-anchor="start" >r = 0.36**</text>
<text x="640.40" y="534.50" font-size="9.6" fill="#111" stroke="#111" stroke-width="0" text-anchor="start" ><tspan font-style="italic">p</tspan> = 0.007</text>
<path d="M247.80,606.85 L252.16,606.81 L256.53,606.76 L260.89,606.70 L265.25,606.64 L269.61,606.57 L273.98,606.48 L278.34,606.37 L282.70,606.22 L287.06,606.01 L291.43,605.69 L295.79,605.18 L300.15,604.35 L304.51,603.15 L308.88,601.64 L313.24,599.95 L317.60,598.15 L321.96,596.29 L326.32,594.39 L330.69,592.47 L335.05,590.53 L339.41,588.59 L343.77,586.63 L348.14,584.67 L352.50,582.70 L352.50,606.50 L348.14,606.57 L343.77,606.65 L339.41,606.74 L335.05,606.83 L330.69,606.94 L326.32,607.06 L321.96,607.20 L317.60,607.38 L313.24,607.62 L308.88,607.97 L304.51,608.51 L300.15,609.35 L295.79,610.56 L291.43,612.09 L287.06,613.82 L282.70,615.65 L278.34,617.54 L273.98,619.47 L269.61,621.42 L265.25,623.39 L260.89,625.37 L256.53,627.36 L252.16,629.35 L247.80,631.35Z" fill="#c8d7eb"/>
<circle cx="305.77" cy="586.16" r="1.35" fill="#4a8bcb"/>
<circle cx="302.97" cy="589.20" r="1.35" fill="#4a8bcb"/>
<circle cx="299.93" cy="591.53" r="1.35" fill="#4a8bcb"/>
<circle cx="312.78" cy="589.90" r="1.35" fill="#4a8bcb"/>
<circle cx="316.98" cy="591.53" r="1.35" fill="#4a8bcb"/>
<circle cx="317.92" cy="594.57" r="1.35" fill="#4a8bcb"/>
<circle cx="286.62" cy="592.70" r="1.35" fill="#4a8bcb"/>
<circle cx="287.55" cy="593.87" r="1.35" fill="#4a8bcb"/>
<circle cx="311.61" cy="593.87" r="1.35" fill="#4a8bcb"/>
<circle cx="291.29" cy="597.84" r="1.35" fill="#4a8bcb"/>
<circle cx="289.42" cy="599.24" r="1.35" fill="#4a8bcb"/>
<circle cx="292.92" cy="601.58" r="1.35" fill="#4a8bcb"/>
<circle cx="299.93" cy="598.54" r="1.35" fill="#4a8bcb"/>
<circle cx="305.77" cy="599.71" r="1.35" fill="#4a8bcb"/>
<circle cx="290.59" cy="603.21" r="1.35" fill="#4a8bcb"/>
<circle cx="293.63" cy="603.91" r="1.35" fill="#4a8bcb"/>
<circle cx="298.76" cy="604.38" r="1.35" fill="#4a8bcb"/>
<circle cx="301.10" cy="604.85" r="1.35" fill="#4a8bcb"/>
<circle cx="302.97" cy="606.25" r="1.35" fill="#4a8bcb"/>
<circle cx="303.90" cy="604.85" r="1.35" fill="#4a8bcb"/>
<circle cx="276.57" cy="609.05" r="1.35" fill="#4a8bcb"/>
<circle cx="284.28" cy="607.89" r="1.35" fill="#4a8bcb"/>
<circle cx="283.58" cy="610.22" r="1.35" fill="#4a8bcb"/>
<circle cx="285.92" cy="612.56" r="1.35" fill="#4a8bcb"/>
<circle cx="292.92" cy="609.05" r="1.35" fill="#4a8bcb"/>
<circle cx="296.90" cy="608.59" r="1.35" fill="#4a8bcb"/>
<circle cx="299.93" cy="606.72" r="1.35" fill="#4a8bcb"/>
<circle cx="316.28" cy="607.89" r="1.35" fill="#4a8bcb"/>
<circle cx="323.29" cy="607.89" r="1.35" fill="#4a8bcb"/>
<circle cx="291.29" cy="615.59" r="1.35" fill="#4a8bcb"/>
<circle cx="298.76" cy="614.89" r="1.35" fill="#4a8bcb"/>
<circle cx="301.10" cy="616.06" r="1.35" fill="#4a8bcb"/>
<circle cx="302.27" cy="614.89" r="1.35" fill="#4a8bcb"/>
<circle cx="305.30" cy="614.19" r="1.35" fill="#4a8bcb"/>
<circle cx="310.44" cy="615.59" r="1.35" fill="#4a8bcb"/>
<circle cx="315.12" cy="610.92" r="1.35" fill="#4a8bcb"/>
<circle cx="326.09" cy="614.19" r="1.35" fill="#4a8bcb"/>
<circle cx="329.13" cy="601.58" r="1.35" fill="#4a8bcb"/>
<circle cx="338.01" cy="593.87" r="1.35" fill="#4a8bcb"/>
<circle cx="288.25" cy="621.20" r="1.35" fill="#4a8bcb"/>
<circle cx="293.63" cy="620.27" r="1.35" fill="#4a8bcb"/>
<circle cx="287.08" cy="625.87" r="1.35" fill="#4a8bcb"/>
<circle cx="298.76" cy="625.41" r="1.35" fill="#4a8bcb"/>
<circle cx="301.57" cy="627.74" r="1.35" fill="#4a8bcb"/>
<circle cx="278.91" cy="629.38" r="1.35" fill="#4a8bcb"/>
<circle cx="298.30" cy="636.62" r="1.35" fill="#4a8bcb"/>
<circle cx="278.44" cy="612.56" r="1.35" fill="#4a8bcb"/>
<path d="M247.8,619.1 L352.5,594.6" stroke="#3f7fc2" stroke-width="1.5"/>
<path d="M247.8,574.5 V639.9 H352.5" fill="none" stroke="#555" stroke-width="0.9"/>
<path d="M247.8,574.50 h2" stroke="#555" stroke-width="0.8"/>
<path d="M247.8,607.20 h2" stroke="#555" stroke-width="0.8"/>
<path d="M247.8,639.90 h2" stroke="#555" stroke-width="0.8"/>
<path d="M247.80,639.9 v-2" stroke="#555" stroke-width="0.8"/>
<text x="247.80" y="651.30" font-size="9.3" fill="#222" stroke="#222" stroke-width="0" text-anchor="middle" >-4</text>
<path d="M273.98,639.9 v-2" stroke="#555" stroke-width="0.8"/>
<text x="273.98" y="651.30" font-size="9.3" fill="#222" stroke="#222" stroke-width="0" text-anchor="middle" >-2</text>
<path d="M300.15,639.9 v-2" stroke="#555" stroke-width="0.8"/>
<text x="300.15" y="651.30" font-size="9.3" fill="#222" stroke="#222" stroke-width="0" text-anchor="middle" >0</text>
<path d="M326.32,639.9 v-2" stroke="#555" stroke-width="0.8"/>
<text x="326.32" y="651.30" font-size="9.3" fill="#222" stroke="#222" stroke-width="0" text-anchor="middle" >2</text>
<path d="M352.50,639.9 v-2" stroke="#555" stroke-width="0.8"/>
<text x="352.50" y="651.30" font-size="9.3" fill="#222" stroke="#222" stroke-width="0" text-anchor="middle" >4</text>
<text x="240.30" y="577.20" font-size="9.5" fill="#222" stroke="#222" stroke-width="0" text-anchor="middle" >3</text>
<text x="240.30" y="609.90" font-size="9.5" fill="#222" stroke="#222" stroke-width="0" text-anchor="middle" >0</text>
<text x="240.20" y="642.60" font-size="9.5" fill="#222" stroke="#222" stroke-width="0" text-anchor="middle" >-3</text>
<text transform="translate(222.50,611.50) rotate(-90) scale(1,0.88)" font-size="8.2" fill="#111" text-anchor="middle">whole-brain</text>
<text transform="translate(233.20,610.50) rotate(-90) scale(1,0.88)" font-size="8.2" fill="#111" text-anchor="middle">activation (arb. units)</text>
<text x="300.70" y="661.00" font-size="8.3" fill="#111" stroke="#111" stroke-width="0" text-anchor="middle" >layer activation (arb. units)</text>
<text x="319.80" y="624.20" font-size="9.6" fill="#111" stroke="#111" stroke-width="0" text-anchor="start" >r = 0.28*</text>
<text x="319.80" y="633.50" font-size="9.6" fill="#111" stroke="#111" stroke-width="0" text-anchor="start" ><tspan font-style="italic">p</tspan> = 0.041</text>
<path d="M559.70,607.20 L564.10,607.08 L568.49,606.96 L572.89,606.83 L577.28,606.70 L581.68,606.55 L586.08,606.39 L590.47,606.20 L594.87,605.98 L599.26,605.70 L603.66,605.30 L608.05,604.73 L612.45,603.85 L616.85,602.62 L621.24,601.09 L625.64,599.37 L630.03,597.55 L634.43,595.66 L638.83,593.74 L643.22,591.79 L647.62,589.83 L652.01,587.86 L656.41,585.88 L660.80,583.89 L665.20,581.90 L665.20,605.50 L660.80,605.62 L656.41,605.74 L652.01,605.87 L647.62,606.00 L643.22,606.15 L638.83,606.31 L634.43,606.50 L630.03,606.72 L625.64,607.00 L621.24,607.40 L616.85,607.97 L612.45,608.85 L608.05,610.08 L603.66,611.61 L599.26,613.33 L594.87,615.15 L590.47,617.04 L586.08,618.96 L581.68,620.91 L577.28,622.87 L572.89,624.84 L568.49,626.82 L564.10,628.81 L559.70,630.80Z" fill="#c8d7eb"/>
<circle cx="625.25" cy="577.58" r="1.35" fill="#4a8bcb"/>
<circle cx="617.54" cy="588.42" r="1.35" fill="#4a8bcb"/>
<circle cx="607.19" cy="588.90" r="1.35" fill="#4a8bcb"/>
<circle cx="612.73" cy="590.83" r="1.35" fill="#4a8bcb"/>
<circle cx="613.45" cy="593.72" r="1.35" fill="#4a8bcb"/>
<circle cx="605.50" cy="594.92" r="1.35" fill="#4a8bcb"/>
<circle cx="603.82" cy="597.33" r="1.35" fill="#4a8bcb"/>
<circle cx="616.34" cy="596.13" r="1.35" fill="#4a8bcb"/>
<circle cx="630.79" cy="598.05" r="1.35" fill="#4a8bcb"/>
<circle cx="641.63" cy="593.24" r="1.35" fill="#4a8bcb"/>
<circle cx="626.45" cy="594.92" r="1.35" fill="#4a8bcb"/>
<circle cx="650.78" cy="600.94" r="1.35" fill="#4a8bcb"/>
<circle cx="603.09" cy="599.74" r="1.35" fill="#4a8bcb"/>
<circle cx="604.30" cy="602.15" r="1.35" fill="#4a8bcb"/>
<circle cx="599.48" cy="603.35" r="1.35" fill="#4a8bcb"/>
<circle cx="611.52" cy="603.35" r="1.35" fill="#4a8bcb"/>
<circle cx="613.93" cy="604.56" r="1.35" fill="#4a8bcb"/>
<circle cx="617.54" cy="604.56" r="1.35" fill="#4a8bcb"/>
<circle cx="618.75" cy="603.35" r="1.35" fill="#4a8bcb"/>
<circle cx="622.36" cy="605.28" r="1.35" fill="#4a8bcb"/>
<circle cx="625.97" cy="604.56" r="1.35" fill="#4a8bcb"/>
<circle cx="628.86" cy="606.97" r="1.35" fill="#4a8bcb"/>
<circle cx="636.81" cy="606.48" r="1.35" fill="#4a8bcb"/>
<circle cx="588.64" cy="607.69" r="1.35" fill="#4a8bcb"/>
<circle cx="595.87" cy="606.97" r="1.35" fill="#4a8bcb"/>
<circle cx="605.50" cy="605.76" r="1.35" fill="#4a8bcb"/>
<circle cx="607.19" cy="608.17" r="1.35" fill="#4a8bcb"/>
<circle cx="612.00" cy="607.69" r="1.35" fill="#4a8bcb"/>
<circle cx="615.13" cy="609.37" r="1.35" fill="#4a8bcb"/>
<circle cx="616.34" cy="610.58" r="1.35" fill="#4a8bcb"/>
<circle cx="591.05" cy="613.47" r="1.35" fill="#4a8bcb"/>
<circle cx="604.30" cy="613.47" r="1.35" fill="#4a8bcb"/>
<circle cx="612.24" cy="611.78" r="1.35" fill="#4a8bcb"/>
<circle cx="610.32" cy="615.39" r="1.35" fill="#4a8bcb"/>
<circle cx="611.52" cy="617.32" r="1.35" fill="#4a8bcb"/>
<circle cx="599.48" cy="617.80" r="1.35" fill="#4a8bcb"/>
<circle cx="607.91" cy="619.01" r="1.35" fill="#4a8bcb"/>
<circle cx="618.75" cy="617.80" r="1.35" fill="#4a8bcb"/>
<circle cx="639.22" cy="616.12" r="1.35" fill="#4a8bcb"/>
<circle cx="590.33" cy="620.21" r="1.35" fill="#4a8bcb"/>
<circle cx="599.48" cy="622.14" r="1.35" fill="#4a8bcb"/>
<circle cx="601.89" cy="623.10" r="1.35" fill="#4a8bcb"/>
<circle cx="607.19" cy="625.03" r="1.35" fill="#4a8bcb"/>
<circle cx="624.29" cy="621.42" r="1.35" fill="#4a8bcb"/>
<circle cx="598.76" cy="629.12" r="1.35" fill="#4a8bcb"/>
<circle cx="613.93" cy="630.57" r="1.35" fill="#4a8bcb"/>
<path d="M559.7,619 L665.2,593.7" stroke="#3f7fc2" stroke-width="1.5"/>
<path d="M559.7,574.5 V639 H665.2" fill="none" stroke="#555" stroke-width="0.9"/>
<path d="M559.7,574.50 h2" stroke="#555" stroke-width="0.8"/>
<path d="M559.7,606.75 h2" stroke="#555" stroke-width="0.8"/>
<path d="M559.7,639.00 h2" stroke="#555" stroke-width="0.8"/>
<path d="M559.70,639 v-2" stroke="#555" stroke-width="0.8"/>
<text x="559.70" y="650.40" font-size="9.3" fill="#222" stroke="#222" stroke-width="0" text-anchor="middle" >-4</text>
<path d="M586.08,639 v-2" stroke="#555" stroke-width="0.8"/>
<text x="586.08" y="650.40" font-size="9.3" fill="#222" stroke="#222" stroke-width="0" text-anchor="middle" >-2</text>
<path d="M612.45,639 v-2" stroke="#555" stroke-width="0.8"/>
<text x="612.45" y="650.40" font-size="9.3" fill="#222" stroke="#222" stroke-width="0" text-anchor="middle" >0</text>
<path d="M638.83,639 v-2" stroke="#555" stroke-width="0.8"/>
<text x="638.83" y="650.40" font-size="9.3" fill="#222" stroke="#222" stroke-width="0" text-anchor="middle" >2</text>
<path d="M665.20,639 v-2" stroke="#555" stroke-width="0.8"/>
<text x="665.20" y="650.40" font-size="9.3" fill="#222" stroke="#222" stroke-width="0" text-anchor="middle" >4</text>
<text x="552.20" y="577.20" font-size="9.5" fill="#222" stroke="#222" stroke-width="0" text-anchor="middle" >3</text>
<text x="552.20" y="609.45" font-size="9.5" fill="#222" stroke="#222" stroke-width="0" text-anchor="middle" >0</text>
<text x="552.10" y="641.70" font-size="9.5" fill="#222" stroke="#222" stroke-width="0" text-anchor="middle" >-3</text>
<text transform="translate(535.70,611.05) rotate(-90) scale(1,0.88)" font-size="8.2" fill="#111" text-anchor="middle">whole-brain</text>
<text transform="translate(546.40,610.05) rotate(-90) scale(1,0.88)" font-size="8.2" fill="#111" text-anchor="middle">activation (arb. units)</text>
<text x="614.70" y="660.10" font-size="8.3" fill="#111" stroke="#111" stroke-width="0" text-anchor="middle" >layer activation (arb. units)</text>
<text x="640.40" y="624.50" font-size="9.6" fill="#111" stroke="#111" stroke-width="0" text-anchor="start" >r = 0.29*</text>
<text x="640.40" y="633.80" font-size="9.6" fill="#111" stroke="#111" stroke-width="0" text-anchor="start" ><tspan font-style="italic">p</tspan> = 0.032</text>
</svg></body></html>
